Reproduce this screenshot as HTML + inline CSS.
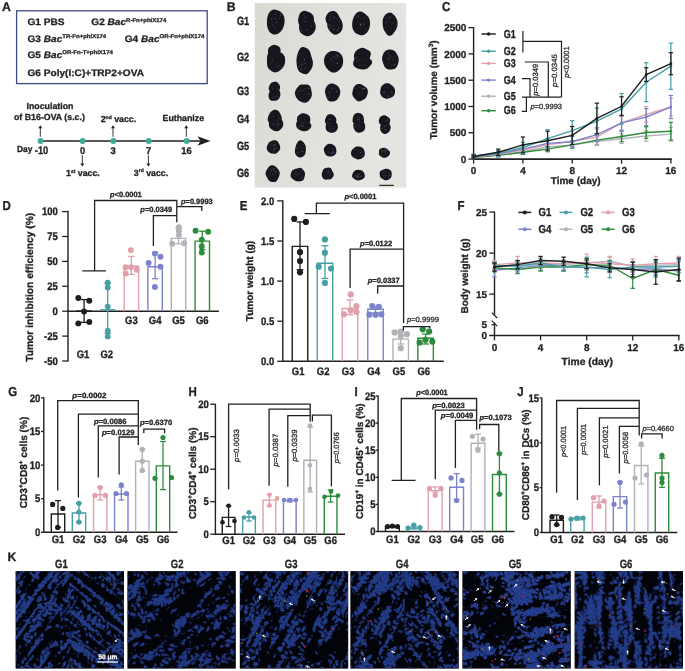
<!DOCTYPE html>
<html><head><meta charset="utf-8"><style>
html,body{margin:0;padding:0;background:#fff;width:685px;height:671px;overflow:hidden;}
svg{display:block;font-family:"Liberation Sans",sans-serif;text-rendering:geometricPrecision;filter:blur(0.4px);}
</style></head><body>
<svg width="685" height="671" viewBox="0 0 685 671" font-family="'Liberation Sans', sans-serif"><text x="0" y="0" font-size="12.3" font-weight="bold" text-anchor="start" fill="#231f20" transform="translate(1.9 10.7) scale(1 1.03)" stroke="#231f20" stroke-width="0.3">A</text>
<rect x="16.6" y="10.8" width="190.6" height="72.8" fill="none" stroke="#3d4b86" stroke-width="1.3"/>
<text x="0" y="0" font-size="10.1" font-weight="bold" text-anchor="start" fill="#231f20" transform="translate(27.5 25.4) scale(1 0.93)" stroke="#231f20" stroke-width="0.3">G1 PBS</text>
<text transform="translate(91.3 25.4) scale(1 0.93)" font-size="10.1" font-weight="bold" fill="#231f20" stroke="#231f20" stroke-width="0.3">G2 <tspan font-style="italic">Bac</tspan><tspan font-size="6.0" dy="-3.8">R-Fn+phiX174</tspan></text>
<text transform="translate(27.5 41.7) scale(1 0.93)" font-size="10.1" font-weight="bold" fill="#231f20" stroke="#231f20" stroke-width="0.3">G3 <tspan font-style="italic">Bac</tspan><tspan font-size="6.0" dy="-3.8">TR-Fn+phiX174</tspan></text>
<text transform="translate(124.7 41.7) scale(1 0.93)" font-size="10.1" font-weight="bold" fill="#231f20" stroke="#231f20" stroke-width="0.3">G4 <tspan font-style="italic">Bac</tspan><tspan font-size="6.0" dy="-3.8">OR-Fn+phiX174</tspan></text>
<text transform="translate(27.5 58) scale(1 0.93)" font-size="10.1" font-weight="bold" fill="#231f20" stroke="#231f20" stroke-width="0.3">G5 <tspan font-style="italic">Bac</tspan><tspan font-size="6.0" dy="-3.8">OR-Fn-T+phiX174</tspan></text>
<text x="0" y="0" font-size="10.1" font-weight="bold" text-anchor="start" fill="#231f20" transform="translate(27.5 75.6) scale(1 0.93)" stroke="#231f20" stroke-width="0.3">G6 Poly(I:C)+TRP2+OVA</text>
<line x1="40.3" y1="141" x2="201" y2="141" stroke="#231f20" stroke-width="1.4"/>
<polygon points="197.5,136.3 210.5,141 197.5,145.7 200.5,141" fill="#231f20"/>
<circle cx="40.6" cy="141" r="3" fill="#42aa95"/>
<circle cx="82.6" cy="141" r="3" fill="#42aa95"/>
<circle cx="113.3" cy="141" r="3" fill="#42aa95"/>
<circle cx="148.7" cy="141" r="3" fill="#42aa95"/>
<circle cx="186.6" cy="141" r="3" fill="#42aa95"/>
<line x1="40.3" y1="136.8" x2="40.3" y2="127.7" stroke="#231f20" stroke-width="0.9"/>
<polygon points="38.3,128.2 40.3,125.2 42.3,128.2" fill="#231f20"/>
<line x1="113" y1="136.8" x2="113" y2="127.7" stroke="#231f20" stroke-width="0.9"/>
<polygon points="111,128.2 113,125.2 115,128.2" fill="#231f20"/>
<line x1="186.3" y1="136.8" x2="186.3" y2="127.7" stroke="#231f20" stroke-width="0.9"/>
<polygon points="184.3,128.2 186.3,125.2 188.3,128.2" fill="#231f20"/>
<line x1="82.3" y1="155.2" x2="82.3" y2="164" stroke="#231f20" stroke-width="0.9"/>
<polygon points="80.3,163.5 82.3,166.5 84.3,163.5" fill="#231f20"/>
<line x1="148.4" y1="155.2" x2="148.4" y2="164" stroke="#231f20" stroke-width="0.9"/>
<polygon points="146.4,163.5 148.4,166.5 150.4,163.5" fill="#231f20"/>
<text x="50" y="108.9" font-size="8.8" font-weight="bold" text-anchor="middle" fill="#231f20" stroke="#231f20" stroke-width="0.3">Inoculation</text>
<text x="14" y="119.8" font-size="8.8" font-weight="bold" text-anchor="start" fill="#231f20" stroke="#231f20" stroke-width="0.3">of B16-OVA (s.c.)</text>
<text x="17" y="152.4" font-size="8.8" font-weight="bold" text-anchor="start" fill="#231f20" textLength="15.3" lengthAdjust="spacingAndGlyphs" stroke="#231f20" stroke-width="0.3">Day</text>
<text x="0" y="0" font-size="9.9" font-weight="bold" text-anchor="start" fill="#231f20" transform="translate(34.8 153.7) scale(1 1.1)" textLength="13.5" lengthAdjust="spacingAndGlyphs" stroke="#231f20" stroke-width="0.3">-10</text>
<text x="0" y="0" font-size="9.4" font-weight="bold" text-anchor="middle" fill="#231f20" transform="translate(82.6 153.6) scale(1 1.05)" stroke="#231f20" stroke-width="0.3">0</text>
<text x="0" y="0" font-size="9.4" font-weight="bold" text-anchor="middle" fill="#231f20" transform="translate(113.2 153.6) scale(1 1.05)" stroke="#231f20" stroke-width="0.3">3</text>
<text x="0" y="0" font-size="9.4" font-weight="bold" text-anchor="middle" fill="#231f20" transform="translate(148.6 153.6) scale(1 1.05)" stroke="#231f20" stroke-width="0.3">7</text>
<text x="0" y="0" font-size="9.4" font-weight="bold" text-anchor="middle" fill="#231f20" transform="translate(186.5 153.6) scale(1 1.05)" stroke="#231f20" stroke-width="0.3">16</text>
<text x="183.3" y="121.3" font-size="8.8" font-weight="bold" text-anchor="middle" fill="#231f20" stroke="#231f20" stroke-width="0.3">Euthanize</text>
<text x="66" y="175.8" font-size="8.8" font-weight="bold" fill="#231f20" stroke="#231f20" stroke-width="0.3">1<tspan font-size="5" dy="-3.3">st</tspan><tspan dy="3.3"> vacc.</tspan></text>
<text x="100.7" y="122.4" font-size="8.8" font-weight="bold" fill="#231f20" stroke="#231f20" stroke-width="0.3">2<tspan font-size="5" dy="-3.3">nd</tspan><tspan dy="3.3"> vacc.</tspan></text>
<text x="133.8" y="175.6" font-size="8.8" font-weight="bold" fill="#231f20" stroke="#231f20" stroke-width="0.3">3<tspan font-size="5" dy="-3.3">rd</tspan><tspan dy="3.3"> vacc.</tspan></text>
<text x="0" y="0" font-size="12.3" font-weight="bold" text-anchor="start" fill="#231f20" transform="translate(226.8 10.6) scale(1 1.03)" stroke="#231f20" stroke-width="0.3">B</text>
<defs><linearGradient id="pbg" x1="0" y1="0" x2="1" y2="0.3"><stop offset="0" stop-color="#d9dad4"/><stop offset="0.5" stop-color="#e0e1dc"/><stop offset="1" stop-color="#e4e5e1"/></linearGradient></defs>
<rect x="254.8" y="3" width="151.3" height="184.6" fill="url(#pbg)"/>
<text x="0" y="0" font-size="9.8" font-weight="bold" text-anchor="start" fill="#231f20" transform="translate(236.9 25.3) scale(0.94 1.2)" stroke="#231f20" stroke-width="0.3">G1</text>
<text x="0" y="0" font-size="9.8" font-weight="bold" text-anchor="start" fill="#231f20" transform="translate(236.9 61.1) scale(0.94 1.2)" stroke="#231f20" stroke-width="0.3">G2</text>
<text x="0" y="0" font-size="9.8" font-weight="bold" text-anchor="start" fill="#231f20" transform="translate(236.9 94.6) scale(0.94 1.2)" stroke="#231f20" stroke-width="0.3">G3</text>
<text x="0" y="0" font-size="9.8" font-weight="bold" text-anchor="start" fill="#231f20" transform="translate(236.9 123.1) scale(0.94 1.2)" stroke="#231f20" stroke-width="0.3">G4</text>
<text x="0" y="0" font-size="9.8" font-weight="bold" text-anchor="start" fill="#231f20" transform="translate(236.9 149.6) scale(0.94 1.2)" stroke="#231f20" stroke-width="0.3">G5</text>
<text x="0" y="0" font-size="9.8" font-weight="bold" text-anchor="start" fill="#231f20" transform="translate(236.9 177.2) scale(0.94 1.2)" stroke="#231f20" stroke-width="0.3">G6</text>
<filter id="tblur" x="-20%" y="-20%" width="140%" height="140%"><feGaussianBlur stdDeviation="0.55"/></filter>
<path d="M284.57,21.95 L284.3,23.95 L283.84,25.84 L283.21,27.58 L282.44,29.18 L281.53,30.6 L280.51,31.83 L279.38,32.86 L278.16,33.68 L276.86,34.26 L275.5,34.57 L274.11,34.58 L272.71,34.25 L271.37,33.56 L270.14,32.53 L269.06,31.18 L268.19,29.56 L267.56,27.75 L267.15,25.84 L266.96,23.89 L266.92,21.95 L267.02,20.02 L267.26,18.11 L267.66,16.22 L268.26,14.41 L269.1,12.77 L270.16,11.41 L271.4,10.41 L272.75,9.82 L274.14,9.61 L275.5,9.69 L276.82,10 L278.1,10.46 L279.37,11.06 L280.62,11.85 L281.82,12.89 L282.89,14.25 L283.75,15.92 L284.33,17.84 L284.59,19.88Z" fill="#14151f" filter="url(#tblur)"/>
<ellipse cx="270.8" cy="15.01" rx="0.55" ry="0.55" fill="#7a84a8" opacity="0.35"/>
<ellipse cx="272.48" cy="24.11" rx="0.87" ry="0.47" fill="#7a84a8" opacity="0.46"/>
<ellipse cx="280.7" cy="14.26" rx="0.82" ry="0.39" fill="#7a84a8" opacity="0.36"/>
<ellipse cx="271.33" cy="18.7" rx="0.79" ry="0.35" fill="#7a84a8" opacity="0.53"/>
<ellipse cx="277.02" cy="19.79" rx="0.63" ry="0.32" fill="#7a84a8" opacity="0.32"/>
<ellipse cx="272.29" cy="25.01" rx="0.56" ry="0.39" fill="#7a84a8" opacity="0.53"/>
<ellipse cx="274.99" cy="18.55" rx="0.78" ry="0.51" fill="#7a84a8" opacity="0.4"/>
<ellipse cx="276.31" cy="22.38" rx="0.83" ry="0.52" fill="#7a84a8" opacity="0.42"/>
<ellipse cx="280.74" cy="15.47" rx="0.55" ry="0.53" fill="#7a84a8" opacity="0.36"/>
<ellipse cx="275.38" cy="14.13" rx="0.7" ry="0.53" fill="#7a84a8" opacity="0.53"/>
<ellipse cx="279.6" cy="18.79" rx="0.72" ry="0.48" fill="#7a84a8" opacity="0.53"/>
<ellipse cx="275.02" cy="27.72" rx="0.87" ry="0.44" fill="#7a84a8" opacity="0.57"/>
<path d="M313.97,19.47 L313.82,20.82 L313.47,22.13 L312.93,23.34 L312.22,24.43 L311.37,25.39 L310.43,26.21 L309.39,26.91 L308.28,27.47 L307.09,27.85 L305.86,28.02 L304.6,27.94 L303.38,27.63 L302.22,27.12 L301.14,26.44 L300.15,25.58 L299.31,24.57 L298.66,23.4 L298.26,22.12 L298.11,20.79 L298.18,19.47 L298.39,18.2 L298.67,16.97 L299,15.73 L299.44,14.48 L300.06,13.26 L300.92,12.2 L302.02,11.4 L303.28,10.96 L304.58,10.87 L305.86,11.05 L307.05,11.38 L308.18,11.8 L309.28,12.26 L310.36,12.82 L311.4,13.53 L312.32,14.44 L313.07,15.53 L313.59,16.78 L313.89,18.11Z" fill="#14151f" filter="url(#tblur)"/>
<path d="M315.74,26.7 L315.64,28.2 L315.3,29.66 L314.74,31.02 L314.01,32.24 L313.14,33.33 L312.16,34.29 L311.08,35.1 L309.9,35.73 L308.64,36.11 L307.34,36.2 L306.05,36.03 L304.81,35.62 L303.63,35.05 L302.5,34.34 L301.43,33.47 L300.5,32.4 L299.76,31.13 L299.28,29.7 L299.06,28.2 L299.07,26.7 L299.23,25.22 L299.54,23.79 L299.99,22.4 L300.63,21.1 L301.46,19.95 L302.47,19 L303.6,18.27 L304.81,17.75 L306.06,17.42 L307.34,17.27 L308.64,17.32 L309.92,17.62 L311.13,18.17 L312.25,18.96 L313.23,19.95 L314.06,21.1 L314.74,22.38 L315.26,23.75 L315.6,25.2Z" fill="#14151f" filter="url(#tblur)"/>
<ellipse cx="307.15" cy="30.03" rx="0.79" ry="0.56" fill="#7a84a8" opacity="0.41"/>
<ellipse cx="305.65" cy="21.23" rx="0.83" ry="0.59" fill="#7a84a8" opacity="0.36"/>
<ellipse cx="302.99" cy="19.1" rx="0.44" ry="0.45" fill="#7a84a8" opacity="0.54"/>
<ellipse cx="303.95" cy="15.28" rx="0.55" ry="0.41" fill="#7a84a8" opacity="0.53"/>
<ellipse cx="311.66" cy="26.79" rx="0.61" ry="0.49" fill="#7a84a8" opacity="0.57"/>
<ellipse cx="301.62" cy="30.3" rx="0.77" ry="0.56" fill="#7a84a8" opacity="0.62"/>
<ellipse cx="305.4" cy="21.91" rx="0.36" ry="0.49" fill="#7a84a8" opacity="0.32"/>
<ellipse cx="301.77" cy="18.72" rx="0.4" ry="0.4" fill="#7a84a8" opacity="0.32"/>
<ellipse cx="301.02" cy="17.75" rx="0.36" ry="0.41" fill="#7a84a8" opacity="0.31"/>
<ellipse cx="310.78" cy="25.51" rx="0.39" ry="0.38" fill="#7a84a8" opacity="0.44"/>
<ellipse cx="305.08" cy="17.28" rx="0.81" ry="0.6" fill="#7a84a8" opacity="0.49"/>
<ellipse cx="306.42" cy="16.66" rx="0.36" ry="0.4" fill="#7a84a8" opacity="0.41"/>
<path d="M339.34,18.35 L339.06,19.54 L338.55,20.61 L337.94,21.55 L337.35,22.43 L336.78,23.31 L336.12,24.17 L335.32,24.89 L334.38,25.35 L333.37,25.54 L332.36,25.55 L331.36,25.46 L330.35,25.3 L329.34,25.01 L328.37,24.52 L327.5,23.81 L326.78,22.9 L326.22,21.86 L325.82,20.74 L325.59,19.55 L325.57,18.35 L325.78,17.18 L326.16,16.08 L326.65,15.08 L327.22,14.15 L327.87,13.29 L328.61,12.54 L329.46,11.94 L330.39,11.52 L331.36,11.26 L332.36,11.11 L333.38,11.08 L334.42,11.22 L335.42,11.59 L336.32,12.21 L337.1,13.01 L337.79,13.92 L338.4,14.89 L338.93,15.95 L339.28,17.11Z" fill="#14151f" filter="url(#tblur)"/>
<path d="M342.71,25.04 L342.72,26.48 L342.54,27.93 L342.15,29.34 L341.56,30.66 L340.77,31.84 L339.81,32.83 L338.73,33.62 L337.56,34.21 L336.32,34.57 L335.05,34.65 L333.8,34.4 L332.64,33.83 L331.62,33.01 L330.73,32.09 L329.91,31.14 L329.11,30.16 L328.37,29.08 L327.77,27.84 L327.4,26.48 L327.28,25.04 L327.35,23.59 L327.55,22.15 L327.89,20.71 L328.41,19.32 L329.19,18.09 L330.2,17.13 L331.38,16.5 L332.61,16.14 L333.83,15.94 L335.05,15.85 L336.26,15.9 L337.47,16.19 L338.6,16.77 L339.58,17.62 L340.41,18.67 L341.1,19.82 L341.68,21.03 L342.16,22.3 L342.52,23.64Z" fill="#14151f" filter="url(#tblur)"/>
<ellipse cx="337.5" cy="30.18" rx="0.81" ry="0.54" fill="#7a84a8" opacity="0.63"/>
<ellipse cx="336.73" cy="18.4" rx="0.61" ry="0.41" fill="#7a84a8" opacity="0.31"/>
<ellipse cx="329.08" cy="19.22" rx="0.46" ry="0.51" fill="#7a84a8" opacity="0.68"/>
<ellipse cx="333.58" cy="29.44" rx="0.89" ry="0.59" fill="#7a84a8" opacity="0.45"/>
<ellipse cx="331.15" cy="18.41" rx="0.42" ry="0.36" fill="#7a84a8" opacity="0.55"/>
<ellipse cx="338.45" cy="27.94" rx="0.59" ry="0.5" fill="#7a84a8" opacity="0.62"/>
<ellipse cx="329.69" cy="25.14" rx="0.85" ry="0.53" fill="#7a84a8" opacity="0.6"/>
<ellipse cx="333.91" cy="17.66" rx="0.77" ry="0.4" fill="#7a84a8" opacity="0.62"/>
<ellipse cx="339.22" cy="21.03" rx="0.54" ry="0.58" fill="#7a84a8" opacity="0.59"/>
<ellipse cx="330.61" cy="16.86" rx="0.39" ry="0.57" fill="#7a84a8" opacity="0.62"/>
<ellipse cx="330.35" cy="27.72" rx="0.89" ry="0.5" fill="#7a84a8" opacity="0.44"/>
<ellipse cx="334.67" cy="16.92" rx="0.31" ry="0.59" fill="#7a84a8" opacity="0.56"/>
<path d="M370.06,23.6 L369.91,25.54 L369.54,27.42 L368.96,29.18 L368.18,30.78 L367.23,32.18 L366.14,33.34 L364.94,34.25 L363.66,34.88 L362.33,35.19 L361,35.2 L359.69,34.96 L358.42,34.55 L357.16,33.98 L355.92,33.23 L354.75,32.21 L353.73,30.87 L352.95,29.25 L352.45,27.43 L352.2,25.52 L352.18,23.6 L352.35,21.71 L352.72,19.89 L353.27,18.18 L353.99,16.59 L354.85,15.12 L355.83,13.79 L356.95,12.64 L358.22,11.8 L359.6,11.39 L361,11.48 L362.33,12 L363.56,12.76 L364.7,13.6 L365.82,14.46 L366.94,15.41 L368.01,16.58 L368.93,18.03 L369.59,19.75 L369.96,21.64Z" fill="#14151f" filter="url(#tblur)"/>
<ellipse cx="358.4" cy="22.29" rx="0.38" ry="0.57" fill="#7a84a8" opacity="0.44"/>
<ellipse cx="360.55" cy="24.94" rx="0.84" ry="0.43" fill="#7a84a8" opacity="0.67"/>
<ellipse cx="361.02" cy="24.11" rx="0.61" ry="0.31" fill="#7a84a8" opacity="0.48"/>
<ellipse cx="357.58" cy="15.6" rx="0.78" ry="0.35" fill="#7a84a8" opacity="0.49"/>
<ellipse cx="363.43" cy="24.51" rx="0.5" ry="0.46" fill="#7a84a8" opacity="0.52"/>
<ellipse cx="364.07" cy="17.25" rx="0.64" ry="0.37" fill="#7a84a8" opacity="0.41"/>
<ellipse cx="363.94" cy="23.72" rx="0.64" ry="0.53" fill="#7a84a8" opacity="0.66"/>
<ellipse cx="360.39" cy="25.41" rx="0.6" ry="0.45" fill="#7a84a8" opacity="0.58"/>
<ellipse cx="360.49" cy="24.14" rx="0.59" ry="0.58" fill="#7a84a8" opacity="0.58"/>
<ellipse cx="365.07" cy="30.73" rx="0.46" ry="0.47" fill="#7a84a8" opacity="0.68"/>
<ellipse cx="364.67" cy="17.75" rx="0.37" ry="0.43" fill="#7a84a8" opacity="0.33"/>
<ellipse cx="358.2" cy="16.72" rx="0.7" ry="0.54" fill="#7a84a8" opacity="0.66"/>
<path d="M397.54,23.85 L397.37,25.66 L396.98,27.37 L396.38,28.91 L395.65,30.25 L394.85,31.43 L394.02,32.54 L393.16,33.64 L392.2,34.69 L391.1,35.49 L389.9,35.84 L388.68,35.63 L387.55,34.94 L386.54,33.95 L385.65,32.81 L384.85,31.59 L384.13,30.27 L383.54,28.82 L383.11,27.23 L382.81,25.57 L382.64,23.85 L382.6,22.08 L382.72,20.28 L383.09,18.53 L383.72,16.97 L384.56,15.66 L385.53,14.62 L386.55,13.78 L387.62,13.1 L388.74,12.63 L389.9,12.48 L391.05,12.73 L392.13,13.33 L393.13,14.15 L394.06,15.07 L394.96,16.09 L395.82,17.26 L396.57,18.64 L397.13,20.25 L397.46,22.01Z" fill="#14151f" filter="url(#tblur)"/>
<ellipse cx="394.37" cy="28.88" rx="0.4" ry="0.43" fill="#7a84a8" opacity="0.51"/>
<ellipse cx="388.43" cy="19.24" rx="0.49" ry="0.52" fill="#7a84a8" opacity="0.31"/>
<ellipse cx="390.39" cy="22.95" rx="0.31" ry="0.4" fill="#7a84a8" opacity="0.55"/>
<ellipse cx="390.01" cy="17.25" rx="0.89" ry="0.54" fill="#7a84a8" opacity="0.69"/>
<ellipse cx="386.3" cy="20.3" rx="0.32" ry="0.53" fill="#7a84a8" opacity="0.41"/>
<ellipse cx="386.52" cy="22.67" rx="0.85" ry="0.55" fill="#7a84a8" opacity="0.4"/>
<ellipse cx="386.7" cy="30.2" rx="0.64" ry="0.51" fill="#7a84a8" opacity="0.34"/>
<ellipse cx="385.86" cy="26.7" rx="0.56" ry="0.32" fill="#7a84a8" opacity="0.68"/>
<ellipse cx="391.13" cy="28.42" rx="0.35" ry="0.56" fill="#7a84a8" opacity="0.33"/>
<ellipse cx="393.21" cy="23.15" rx="0.5" ry="0.47" fill="#7a84a8" opacity="0.67"/>
<ellipse cx="387.78" cy="18.23" rx="0.62" ry="0.37" fill="#7a84a8" opacity="0.34"/>
<ellipse cx="386.81" cy="17.04" rx="0.42" ry="0.39" fill="#7a84a8" opacity="0.42"/>
<path d="M280.54,51.32 L280.37,52.31 L280.06,53.25 L279.59,54.11 L278.98,54.85 L278.32,55.51 L277.64,56.14 L276.93,56.8 L276.13,57.44 L275.19,57.92 L274.15,58.12 L273.09,58 L272.1,57.65 L271.17,57.18 L270.3,56.65 L269.49,56.01 L268.81,55.22 L268.35,54.29 L268.11,53.29 L268.02,52.3 L267.98,51.32 L267.97,50.34 L268.09,49.35 L268.42,48.39 L268.99,47.56 L269.73,46.89 L270.53,46.33 L271.35,45.82 L272.21,45.34 L273.15,44.97 L274.15,44.81 L275.16,44.9 L276.13,45.19 L277.06,45.58 L277.97,46.04 L278.84,46.61 L279.61,47.34 L280.17,48.24 L280.49,49.25 L280.59,50.3Z" fill="#14151f" filter="url(#tblur)"/>
<path d="M285.16,61.26 L284.96,62.93 L284.56,64.54 L283.92,66.03 L283.07,67.36 L282.08,68.52 L281,69.57 L279.86,70.55 L278.61,71.44 L277.21,72.11 L275.7,72.4 L274.17,72.26 L272.7,71.77 L271.33,71.03 L270.05,70.11 L268.89,69.01 L267.96,67.66 L267.35,66.1 L267.07,64.45 L267.03,62.82 L267.05,61.26 L267.02,59.7 L267,58.04 L267.15,56.3 L267.64,54.6 L268.55,53.12 L269.79,52.01 L271.24,51.3 L272.76,50.95 L274.25,50.86 L275.7,50.97 L277.1,51.22 L278.46,51.58 L279.83,52.04 L281.18,52.67 L282.47,53.55 L283.59,54.73 L284.43,56.2 L284.94,57.84 L285.16,59.55Z" fill="#14151f" filter="url(#tblur)"/>
<ellipse cx="277.89" cy="67.15" rx="0.51" ry="0.55" fill="#7a84a8" opacity="0.58"/>
<ellipse cx="277.28" cy="56.79" rx="0.51" ry="0.32" fill="#7a84a8" opacity="0.35"/>
<ellipse cx="270.7" cy="62.82" rx="0.45" ry="0.35" fill="#7a84a8" opacity="0.33"/>
<ellipse cx="279.67" cy="65.15" rx="0.7" ry="0.38" fill="#7a84a8" opacity="0.4"/>
<ellipse cx="273.29" cy="57.77" rx="0.39" ry="0.43" fill="#7a84a8" opacity="0.41"/>
<ellipse cx="281.08" cy="66.98" rx="0.63" ry="0.37" fill="#7a84a8" opacity="0.69"/>
<ellipse cx="273.48" cy="55.93" rx="0.3" ry="0.41" fill="#7a84a8" opacity="0.49"/>
<ellipse cx="275.73" cy="53.14" rx="0.6" ry="0.3" fill="#7a84a8" opacity="0.41"/>
<ellipse cx="270.92" cy="56.7" rx="0.33" ry="0.31" fill="#7a84a8" opacity="0.42"/>
<ellipse cx="272.59" cy="60.04" rx="0.62" ry="0.53" fill="#7a84a8" opacity="0.56"/>
<ellipse cx="278.21" cy="65.3" rx="0.53" ry="0.4" fill="#7a84a8" opacity="0.69"/>
<ellipse cx="271.62" cy="62.52" rx="0.69" ry="0.31" fill="#7a84a8" opacity="0.63"/>
<path d="M312.7,60.95 L312.95,63.08 L312.76,65.23 L312.16,67.18 L311.33,68.89 L310.41,70.42 L309.43,71.86 L308.33,73.09 L307.07,73.92 L305.73,74.2 L304.4,74.03 L303.13,73.63 L301.88,73.16 L300.64,72.59 L299.43,71.72 L298.38,70.43 L297.59,68.74 L297.07,66.83 L296.75,64.87 L296.53,62.91 L296.44,60.95 L296.51,58.98 L296.78,57.05 L297.21,55.18 L297.76,53.35 L298.41,51.51 L299.24,49.75 L300.3,48.29 L301.6,47.36 L303,47.06 L304.4,47.26 L305.73,47.73 L307,48.37 L308.19,49.23 L309.24,50.45 L310.05,52.04 L310.63,53.82 L311.08,55.59 L311.58,57.28 L312.16,59.01Z" fill="#14151f" filter="url(#tblur)"/>
<ellipse cx="305.27" cy="67.87" rx="0.71" ry="0.51" fill="#7a84a8" opacity="0.39"/>
<ellipse cx="299.56" cy="54.49" rx="0.52" ry="0.33" fill="#7a84a8" opacity="0.63"/>
<ellipse cx="305" cy="63.2" rx="0.68" ry="0.5" fill="#7a84a8" opacity="0.5"/>
<ellipse cx="299.27" cy="66.19" rx="0.75" ry="0.45" fill="#7a84a8" opacity="0.51"/>
<ellipse cx="306.04" cy="53.31" rx="0.74" ry="0.38" fill="#7a84a8" opacity="0.33"/>
<ellipse cx="301.98" cy="64.99" rx="0.42" ry="0.52" fill="#7a84a8" opacity="0.69"/>
<ellipse cx="304.34" cy="58.88" rx="0.59" ry="0.51" fill="#7a84a8" opacity="0.61"/>
<ellipse cx="305.61" cy="63.46" rx="0.35" ry="0.34" fill="#7a84a8" opacity="0.4"/>
<ellipse cx="306.91" cy="57.5" rx="0.64" ry="0.3" fill="#7a84a8" opacity="0.32"/>
<ellipse cx="302.01" cy="63.98" rx="0.72" ry="0.5" fill="#7a84a8" opacity="0.42"/>
<ellipse cx="304.57" cy="60.33" rx="0.58" ry="0.34" fill="#7a84a8" opacity="0.66"/>
<ellipse cx="301.3" cy="69.37" rx="0.86" ry="0.31" fill="#7a84a8" opacity="0.48"/>
<path d="M343.13,61.45 L342.98,63.26 L342.59,65 L341.95,66.62 L341.09,68.06 L340.07,69.29 L338.93,70.33 L337.72,71.21 L336.43,71.92 L335.07,72.4 L333.65,72.58 L332.23,72.4 L330.87,71.89 L329.62,71.12 L328.46,70.17 L327.4,69.09 L326.41,67.88 L325.53,66.51 L324.81,64.96 L324.29,63.26 L324.04,61.45 L324.07,59.6 L324.42,57.78 L325.06,56.1 L325.97,54.63 L327.07,53.41 L328.29,52.44 L329.59,51.71 L330.93,51.21 L332.29,50.94 L333.65,50.88 L335,51.02 L336.34,51.34 L337.66,51.83 L338.96,52.51 L340.2,53.45 L341.28,54.67 L342.14,56.16 L342.73,57.84 L343.06,59.63Z" fill="#14151f" filter="url(#tblur)"/>
<ellipse cx="338.78" cy="55.93" rx="0.79" ry="0.45" fill="#7a84a8" opacity="0.65"/>
<ellipse cx="335.96" cy="57.42" rx="0.84" ry="0.45" fill="#7a84a8" opacity="0.31"/>
<ellipse cx="328.02" cy="61.33" rx="0.57" ry="0.39" fill="#7a84a8" opacity="0.36"/>
<ellipse cx="331.88" cy="58.69" rx="0.8" ry="0.3" fill="#7a84a8" opacity="0.6"/>
<ellipse cx="337.5" cy="55.74" rx="0.86" ry="0.51" fill="#7a84a8" opacity="0.66"/>
<ellipse cx="331.27" cy="59.53" rx="0.54" ry="0.6" fill="#7a84a8" opacity="0.54"/>
<ellipse cx="332.07" cy="60.37" rx="0.47" ry="0.31" fill="#7a84a8" opacity="0.34"/>
<ellipse cx="337.45" cy="58.23" rx="0.86" ry="0.37" fill="#7a84a8" opacity="0.41"/>
<ellipse cx="333.77" cy="56.79" rx="0.52" ry="0.59" fill="#7a84a8" opacity="0.65"/>
<ellipse cx="337.19" cy="63.42" rx="0.85" ry="0.58" fill="#7a84a8" opacity="0.52"/>
<ellipse cx="336.14" cy="54.69" rx="0.74" ry="0.44" fill="#7a84a8" opacity="0.6"/>
<ellipse cx="335.29" cy="58.24" rx="0.33" ry="0.58" fill="#7a84a8" opacity="0.35"/>
<path d="M370.6,55.16 L370.29,56.19 L370.01,57.19 L369.71,58.22 L369.23,59.23 L368.47,60.15 L367.45,60.88 L366.25,61.4 L364.98,61.75 L363.67,61.96 L362.35,62.05 L361.02,61.99 L359.72,61.76 L358.46,61.38 L357.27,60.86 L356.14,60.22 L355.16,59.42 L354.41,58.46 L353.98,57.38 L353.87,56.26 L353.99,55.16 L354.26,54.12 L354.62,53.11 L355.1,52.15 L355.74,51.25 L356.54,50.42 L357.46,49.68 L358.5,48.99 L359.66,48.4 L360.95,47.98 L362.35,47.85 L363.73,48.04 L365,48.5 L366.15,49.08 L367.24,49.67 L368.35,50.27 L369.42,50.97 L370.28,51.87 L370.76,52.93 L370.83,54.07Z" fill="#14151f" filter="url(#tblur)"/>
<path d="M372.03,62.54 L371.69,63.65 L371.06,64.66 L370.33,65.59 L369.58,66.48 L368.77,67.36 L367.8,68.17 L366.61,68.81 L365.24,69.22 L363.8,69.39 L362.35,69.38 L360.93,69.25 L359.54,69.02 L358.18,68.68 L356.87,68.2 L355.66,67.56 L354.61,66.76 L353.8,65.81 L353.31,64.74 L353.15,63.63 L353.25,62.54 L353.5,61.49 L353.82,60.46 L354.23,59.44 L354.82,58.44 L355.68,57.54 L356.82,56.84 L358.14,56.35 L359.53,56.02 L360.92,55.79 L362.35,55.62 L363.82,55.59 L365.27,55.81 L366.59,56.29 L367.73,56.99 L368.71,57.77 L369.63,58.57 L370.56,59.4 L371.39,60.34 L371.93,61.4Z" fill="#14151f" filter="url(#tblur)"/>
<ellipse cx="358.82" cy="53.08" rx="0.51" ry="0.33" fill="#7a84a8" opacity="0.4"/>
<ellipse cx="359.58" cy="59.83" rx="0.83" ry="0.52" fill="#7a84a8" opacity="0.47"/>
<ellipse cx="361.36" cy="59.19" rx="0.53" ry="0.4" fill="#7a84a8" opacity="0.32"/>
<ellipse cx="359.8" cy="65.45" rx="0.38" ry="0.45" fill="#7a84a8" opacity="0.55"/>
<ellipse cx="366.51" cy="54.84" rx="0.46" ry="0.37" fill="#7a84a8" opacity="0.46"/>
<ellipse cx="361.73" cy="65.25" rx="0.81" ry="0.56" fill="#7a84a8" opacity="0.31"/>
<ellipse cx="356.99" cy="61.81" rx="0.84" ry="0.44" fill="#7a84a8" opacity="0.53"/>
<ellipse cx="356.62" cy="57.32" rx="0.86" ry="0.55" fill="#7a84a8" opacity="0.64"/>
<ellipse cx="367.76" cy="55.3" rx="0.37" ry="0.35" fill="#7a84a8" opacity="0.51"/>
<ellipse cx="364.44" cy="65.08" rx="0.73" ry="0.49" fill="#7a84a8" opacity="0.61"/>
<ellipse cx="361.86" cy="59.58" rx="0.32" ry="0.53" fill="#7a84a8" opacity="0.39"/>
<ellipse cx="367.16" cy="60.9" rx="0.48" ry="0.34" fill="#7a84a8" opacity="0.4"/>
<path d="M398.74,59.6 L398.64,61.18 L398.32,62.71 L397.86,64.2 L397.29,65.66 L396.55,67.04 L395.57,68.2 L394.36,68.99 L393.03,69.37 L391.69,69.47 L390.4,69.45 L389.12,69.4 L387.82,69.22 L386.55,68.74 L385.43,67.86 L384.56,66.66 L383.91,65.3 L383.38,63.92 L382.89,62.55 L382.46,61.12 L382.17,59.6 L382.12,58.01 L382.35,56.44 L382.8,54.91 L383.43,53.48 L384.25,52.17 L385.27,51.06 L386.47,50.27 L387.77,49.8 L389.09,49.62 L390.4,49.6 L391.69,49.73 L392.96,50.06 L394.17,50.66 L395.23,51.56 L396.12,52.68 L396.88,53.91 L397.55,55.2 L398.14,56.56 L398.57,58.04Z" fill="#14151f" filter="url(#tblur)"/>
<ellipse cx="388.35" cy="59.07" rx="0.88" ry="0.49" fill="#7a84a8" opacity="0.65"/>
<ellipse cx="390.15" cy="56.01" rx="0.45" ry="0.59" fill="#7a84a8" opacity="0.58"/>
<ellipse cx="388.41" cy="53.13" rx="0.6" ry="0.5" fill="#7a84a8" opacity="0.47"/>
<ellipse cx="387.89" cy="61.86" rx="0.86" ry="0.37" fill="#7a84a8" opacity="0.31"/>
<ellipse cx="388.73" cy="58.53" rx="0.71" ry="0.36" fill="#7a84a8" opacity="0.62"/>
<ellipse cx="392.87" cy="59.67" rx="0.42" ry="0.59" fill="#7a84a8" opacity="0.42"/>
<ellipse cx="393.7" cy="55.96" rx="0.43" ry="0.53" fill="#7a84a8" opacity="0.42"/>
<ellipse cx="395.06" cy="59.54" rx="0.41" ry="0.37" fill="#7a84a8" opacity="0.47"/>
<ellipse cx="392.11" cy="65.67" rx="0.39" ry="0.42" fill="#7a84a8" opacity="0.39"/>
<ellipse cx="395.29" cy="54.76" rx="0.33" ry="0.32" fill="#7a84a8" opacity="0.46"/>
<ellipse cx="394.51" cy="64.79" rx="0.74" ry="0.6" fill="#7a84a8" opacity="0.67"/>
<ellipse cx="388.64" cy="55.35" rx="0.86" ry="0.52" fill="#7a84a8" opacity="0.31"/>
<path d="M280.03,88.1 L279.75,89.04 L279.42,89.9 L279.13,90.75 L278.83,91.64 L278.42,92.52 L277.83,93.28 L277.07,93.82 L276.22,94.16 L275.34,94.38 L274.45,94.54 L273.52,94.62 L272.59,94.47 L271.74,94.02 L271.05,93.31 L270.5,92.49 L270.03,91.68 L269.55,90.88 L269.1,90.04 L268.79,89.1 L268.72,88.1 L268.9,87.12 L269.22,86.21 L269.59,85.34 L269.99,84.5 L270.49,83.7 L271.13,83.02 L271.9,82.52 L272.73,82.2 L273.58,81.97 L274.45,81.79 L275.36,81.7 L276.29,81.81 L277.16,82.19 L277.91,82.81 L278.53,83.56 L279.08,84.36 L279.57,85.2 L279.94,86.11 L280.11,87.1Z" fill="#14151f" filter="url(#tblur)"/>
<path d="M280.41,94.8 L280.29,95.78 L280.01,96.72 L279.61,97.6 L279.11,98.41 L278.52,99.14 L277.83,99.77 L277.05,100.23 L276.19,100.52 L275.32,100.67 L274.45,100.75 L273.56,100.8 L272.62,100.79 L271.66,100.64 L270.72,100.27 L269.91,99.64 L269.28,98.81 L268.85,97.84 L268.59,96.83 L268.5,95.8 L268.56,94.8 L268.77,93.84 L269.09,92.94 L269.48,92.1 L269.92,91.29 L270.43,90.51 L271.05,89.81 L271.8,89.24 L272.64,88.87 L273.54,88.69 L274.45,88.64 L275.36,88.67 L276.28,88.78 L277.21,89.02 L278.09,89.46 L278.86,90.1 L279.46,90.91 L279.91,91.83 L280.21,92.8 L280.39,93.8Z" fill="#14151f" filter="url(#tblur)"/>
<ellipse cx="272.11" cy="89.71" rx="0.84" ry="0.31" fill="#7a84a8" opacity="0.46"/>
<ellipse cx="276.83" cy="94.86" rx="0.32" ry="0.31" fill="#7a84a8" opacity="0.33"/>
<ellipse cx="277.65" cy="88.34" rx="0.75" ry="0.57" fill="#7a84a8" opacity="0.44"/>
<ellipse cx="272.72" cy="97.31" rx="0.67" ry="0.38" fill="#7a84a8" opacity="0.59"/>
<ellipse cx="273.05" cy="88.58" rx="0.3" ry="0.53" fill="#7a84a8" opacity="0.67"/>
<ellipse cx="275.47" cy="97.13" rx="0.31" ry="0.37" fill="#7a84a8" opacity="0.49"/>
<ellipse cx="277.93" cy="97.26" rx="0.53" ry="0.38" fill="#7a84a8" opacity="0.47"/>
<ellipse cx="274.4" cy="96.93" rx="0.41" ry="0.54" fill="#7a84a8" opacity="0.6"/>
<ellipse cx="276.91" cy="94.94" rx="0.66" ry="0.4" fill="#7a84a8" opacity="0.43"/>
<ellipse cx="273.4" cy="95.06" rx="0.35" ry="0.36" fill="#7a84a8" opacity="0.6"/>
<ellipse cx="272.52" cy="85.88" rx="0.32" ry="0.47" fill="#7a84a8" opacity="0.43"/>
<ellipse cx="278.11" cy="96.36" rx="0.89" ry="0.38" fill="#7a84a8" opacity="0.33"/>
<path d="M311.8,93.3 L311.85,94.71 L311.63,96.11 L311.13,97.44 L310.46,98.66 L309.67,99.82 L308.77,100.91 L307.69,101.86 L306.44,102.5 L305.07,102.75 L303.7,102.65 L302.39,102.31 L301.16,101.85 L299.98,101.27 L298.88,100.55 L297.89,99.64 L297.04,98.59 L296.29,97.42 L295.65,96.16 L295.15,94.78 L294.91,93.3 L295.04,91.8 L295.53,90.4 L296.24,89.15 L297.03,88.01 L297.86,86.92 L298.78,85.9 L299.86,85.07 L301.1,84.57 L302.41,84.4 L303.7,84.42 L304.98,84.47 L306.31,84.52 L307.7,84.74 L309.01,85.32 L310.07,86.35 L310.75,87.7 L311.13,89.17 L311.37,90.58 L311.6,91.93Z" fill="#14151f" filter="url(#tblur)"/>
<ellipse cx="305.42" cy="88.62" rx="0.8" ry="0.39" fill="#7a84a8" opacity="0.53"/>
<ellipse cx="302.37" cy="96.24" rx="0.42" ry="0.37" fill="#7a84a8" opacity="0.4"/>
<ellipse cx="300.08" cy="98.04" rx="0.65" ry="0.4" fill="#7a84a8" opacity="0.46"/>
<ellipse cx="308.84" cy="93.39" rx="0.44" ry="0.54" fill="#7a84a8" opacity="0.56"/>
<ellipse cx="308.83" cy="88.39" rx="0.58" ry="0.55" fill="#7a84a8" opacity="0.64"/>
<ellipse cx="308.03" cy="87.62" rx="0.48" ry="0.34" fill="#7a84a8" opacity="0.38"/>
<ellipse cx="308.64" cy="94.33" rx="0.86" ry="0.41" fill="#7a84a8" opacity="0.65"/>
<ellipse cx="303.17" cy="90.34" rx="0.77" ry="0.58" fill="#7a84a8" opacity="0.34"/>
<ellipse cx="304.7" cy="94.78" rx="0.43" ry="0.41" fill="#7a84a8" opacity="0.36"/>
<ellipse cx="300.61" cy="90.27" rx="0.66" ry="0.5" fill="#7a84a8" opacity="0.38"/>
<ellipse cx="298.6" cy="91.17" rx="0.71" ry="0.36" fill="#7a84a8" opacity="0.42"/>
<ellipse cx="300.6" cy="96.95" rx="0.63" ry="0.32" fill="#7a84a8" opacity="0.34"/>
<path d="M340.25,92.5 L340.06,93.89 L339.67,95.21 L339.14,96.44 L338.54,97.61 L337.82,98.7 L336.98,99.68 L335.99,100.47 L334.88,101.03 L333.71,101.39 L332.5,101.58 L331.26,101.61 L330.02,101.4 L328.83,100.88 L327.81,100.01 L327.03,98.87 L326.47,97.6 L326.06,96.32 L325.7,95.07 L325.37,93.82 L325.12,92.5 L325.05,91.13 L325.21,89.74 L325.6,88.41 L326.18,87.16 L326.93,86.01 L327.83,85.02 L328.89,84.24 L330.05,83.73 L331.28,83.52 L332.5,83.55 L333.69,83.78 L334.82,84.17 L335.9,84.72 L336.92,85.42 L337.84,86.28 L338.66,87.29 L339.35,88.44 L339.88,89.71 L340.2,91.08Z" fill="#14151f" filter="url(#tblur)"/>
<ellipse cx="330.72" cy="93.3" rx="0.51" ry="0.42" fill="#7a84a8" opacity="0.65"/>
<ellipse cx="337.21" cy="90.87" rx="0.42" ry="0.52" fill="#7a84a8" opacity="0.38"/>
<ellipse cx="327.82" cy="97.3" rx="0.55" ry="0.55" fill="#7a84a8" opacity="0.46"/>
<ellipse cx="336.13" cy="92.03" rx="0.4" ry="0.3" fill="#7a84a8" opacity="0.52"/>
<ellipse cx="333.83" cy="97.4" rx="0.35" ry="0.49" fill="#7a84a8" opacity="0.45"/>
<ellipse cx="332.54" cy="88.26" rx="0.47" ry="0.46" fill="#7a84a8" opacity="0.67"/>
<ellipse cx="328.79" cy="92.39" rx="0.78" ry="0.59" fill="#7a84a8" opacity="0.38"/>
<ellipse cx="328.96" cy="97.8" rx="0.89" ry="0.44" fill="#7a84a8" opacity="0.32"/>
<ellipse cx="336.54" cy="91.16" rx="0.84" ry="0.49" fill="#7a84a8" opacity="0.63"/>
<ellipse cx="329.28" cy="95.92" rx="0.43" ry="0.42" fill="#7a84a8" opacity="0.64"/>
<ellipse cx="335.62" cy="88.71" rx="0.43" ry="0.42" fill="#7a84a8" opacity="0.51"/>
<ellipse cx="331.4" cy="87.99" rx="0.45" ry="0.52" fill="#7a84a8" opacity="0.66"/>
<path d="M367.8,92.55 L367.54,93.89 L367.17,95.16 L366.67,96.37 L366.02,97.47 L365.18,98.4 L364.22,99.13 L363.21,99.75 L362.19,100.35 L361.1,100.92 L359.9,101.35 L358.63,101.43 L357.4,101.06 L356.33,100.31 L355.42,99.37 L354.62,98.4 L353.83,97.43 L353.11,96.38 L352.56,95.19 L352.3,93.88 L352.35,92.55 L352.59,91.27 L352.91,90.03 L353.27,88.81 L353.71,87.57 L354.34,86.39 L355.2,85.38 L356.25,84.62 L357.43,84.13 L358.67,83.92 L359.9,83.98 L361.08,84.31 L362.16,84.84 L363.16,85.46 L364.13,86.11 L365.12,86.77 L366.11,87.55 L366.99,88.55 L367.6,89.78 L367.85,91.15Z" fill="#14151f" filter="url(#tblur)"/>
<ellipse cx="359.14" cy="93.49" rx="0.56" ry="0.5" fill="#7a84a8" opacity="0.48"/>
<ellipse cx="359.32" cy="87.13" rx="0.67" ry="0.45" fill="#7a84a8" opacity="0.39"/>
<ellipse cx="362.4" cy="95.73" rx="0.57" ry="0.35" fill="#7a84a8" opacity="0.49"/>
<ellipse cx="356.18" cy="88.32" rx="0.56" ry="0.33" fill="#7a84a8" opacity="0.48"/>
<ellipse cx="360" cy="87.33" rx="0.68" ry="0.32" fill="#7a84a8" opacity="0.59"/>
<ellipse cx="362.53" cy="92.68" rx="0.33" ry="0.45" fill="#7a84a8" opacity="0.45"/>
<ellipse cx="364.17" cy="88.41" rx="0.81" ry="0.6" fill="#7a84a8" opacity="0.59"/>
<ellipse cx="362.89" cy="89.07" rx="0.89" ry="0.45" fill="#7a84a8" opacity="0.68"/>
<ellipse cx="363.84" cy="88.74" rx="0.77" ry="0.58" fill="#7a84a8" opacity="0.33"/>
<ellipse cx="358.49" cy="95.46" rx="0.4" ry="0.57" fill="#7a84a8" opacity="0.41"/>
<ellipse cx="362.89" cy="88.5" rx="0.6" ry="0.58" fill="#7a84a8" opacity="0.38"/>
<ellipse cx="357.65" cy="92.62" rx="0.49" ry="0.31" fill="#7a84a8" opacity="0.37"/>
<path d="M395.04,91.1 L394.98,92.35 L394.77,93.59 L394.35,94.78 L393.67,95.83 L392.76,96.65 L391.71,97.23 L390.64,97.66 L389.61,98.04 L388.56,98.43 L387.45,98.73 L386.28,98.82 L385.12,98.61 L384.03,98.12 L383.03,97.46 L382.12,96.67 L381.31,95.76 L380.67,94.71 L380.27,93.54 L380.15,92.31 L380.22,91.1 L380.39,89.93 L380.6,88.77 L380.91,87.61 L381.4,86.5 L382.11,85.52 L383.02,84.72 L384.04,84.1 L385.12,83.62 L386.27,83.28 L387.45,83.16 L388.63,83.32 L389.73,83.78 L390.7,84.42 L391.59,85.14 L392.45,85.87 L393.28,86.67 L394.04,87.59 L394.6,88.67 L394.93,89.86Z" fill="#14151f" filter="url(#tblur)"/>
<ellipse cx="390.87" cy="91.67" rx="0.65" ry="0.56" fill="#7a84a8" opacity="0.34"/>
<ellipse cx="391.98" cy="92.45" rx="0.54" ry="0.54" fill="#7a84a8" opacity="0.41"/>
<ellipse cx="391.95" cy="91.9" rx="0.52" ry="0.53" fill="#7a84a8" opacity="0.48"/>
<ellipse cx="384.48" cy="93.63" rx="0.33" ry="0.55" fill="#7a84a8" opacity="0.4"/>
<ellipse cx="388.73" cy="96.13" rx="0.65" ry="0.5" fill="#7a84a8" opacity="0.43"/>
<ellipse cx="382.88" cy="86.25" rx="0.39" ry="0.48" fill="#7a84a8" opacity="0.47"/>
<ellipse cx="387.57" cy="95.21" rx="0.38" ry="0.37" fill="#7a84a8" opacity="0.56"/>
<ellipse cx="383.06" cy="85.93" rx="0.51" ry="0.33" fill="#7a84a8" opacity="0.44"/>
<ellipse cx="384.92" cy="91.97" rx="0.65" ry="0.36" fill="#7a84a8" opacity="0.55"/>
<ellipse cx="387.22" cy="87.3" rx="0.86" ry="0.37" fill="#7a84a8" opacity="0.36"/>
<ellipse cx="383.74" cy="92.54" rx="0.82" ry="0.53" fill="#7a84a8" opacity="0.46"/>
<ellipse cx="385.29" cy="86.02" rx="0.69" ry="0.47" fill="#7a84a8" opacity="0.44"/>
<path d="M281.69,117.98 L281.7,119.16 L281.56,120.34 L281.24,121.51 L280.73,122.61 L279.99,123.55 L279.06,124.28 L278.03,124.78 L276.97,125.12 L275.9,125.37 L274.81,125.54 L273.7,125.56 L272.59,125.37 L271.53,124.94 L270.55,124.3 L269.67,123.52 L268.9,122.61 L268.27,121.57 L267.86,120.42 L267.72,119.19 L267.85,117.98 L268.16,116.84 L268.55,115.79 L268.97,114.77 L269.44,113.77 L270.01,112.81 L270.73,111.92 L271.58,111.14 L272.55,110.48 L273.64,109.99 L274.81,109.72 L276.02,109.76 L277.17,110.16 L278.18,110.87 L279,111.78 L279.67,112.75 L280.25,113.73 L280.77,114.71 L281.22,115.74 L281.53,116.83Z" fill="#14151f" filter="url(#tblur)"/>
<path d="M283.2,124.16 L283.13,125.26 L282.86,126.34 L282.38,127.34 L281.74,128.23 L281,129.02 L280.2,129.77 L279.33,130.45 L278.34,131.02 L277.24,131.34 L276.09,131.36 L274.98,131.1 L273.95,130.68 L272.98,130.2 L272.04,129.67 L271.13,129.06 L270.32,128.31 L269.67,127.4 L269.22,126.37 L268.97,125.27 L268.91,124.16 L269.03,123.05 L269.35,121.99 L269.85,121.01 L270.48,120.13 L271.18,119.3 L271.95,118.52 L272.82,117.81 L273.82,117.25 L274.94,116.97 L276.09,117 L277.19,117.28 L278.21,117.68 L279.19,118.12 L280.16,118.6 L281.09,119.2 L281.9,119.98 L282.51,120.92 L282.9,121.97 L283.12,123.05Z" fill="#14151f" filter="url(#tblur)"/>
<ellipse cx="278.44" cy="116.25" rx="0.49" ry="0.39" fill="#7a84a8" opacity="0.32"/>
<ellipse cx="279.16" cy="124.67" rx="0.73" ry="0.3" fill="#7a84a8" opacity="0.64"/>
<ellipse cx="277.79" cy="120.27" rx="0.75" ry="0.44" fill="#7a84a8" opacity="0.39"/>
<ellipse cx="271.68" cy="117.04" rx="0.32" ry="0.4" fill="#7a84a8" opacity="0.6"/>
<ellipse cx="277.31" cy="125.53" rx="0.73" ry="0.38" fill="#7a84a8" opacity="0.52"/>
<ellipse cx="274.84" cy="124.74" rx="0.61" ry="0.38" fill="#7a84a8" opacity="0.56"/>
<ellipse cx="279.89" cy="116.83" rx="0.83" ry="0.3" fill="#7a84a8" opacity="0.4"/>
<ellipse cx="272.93" cy="124.13" rx="0.87" ry="0.52" fill="#7a84a8" opacity="0.43"/>
<ellipse cx="279.08" cy="118.38" rx="0.44" ry="0.57" fill="#7a84a8" opacity="0.55"/>
<ellipse cx="277.29" cy="123.04" rx="0.89" ry="0.44" fill="#7a84a8" opacity="0.64"/>
<ellipse cx="277.34" cy="125.7" rx="0.56" ry="0.52" fill="#7a84a8" opacity="0.53"/>
<ellipse cx="273.62" cy="116.76" rx="0.67" ry="0.32" fill="#7a84a8" opacity="0.66"/>
<path d="M310.3,119.32 L310.28,120.28 L310.06,121.23 L309.61,122.1 L308.96,122.85 L308.21,123.5 L307.42,124.09 L306.59,124.64 L305.67,125.09 L304.66,125.37 L303.6,125.4 L302.57,125.22 L301.59,124.93 L300.64,124.58 L299.71,124.18 L298.82,123.65 L298.08,122.96 L297.56,122.11 L297.24,121.2 L297.06,120.26 L296.97,119.32 L296.99,118.37 L297.19,117.44 L297.62,116.56 L298.24,115.79 L298.97,115.13 L299.75,114.52 L300.59,113.96 L301.51,113.5 L302.54,113.23 L303.6,113.21 L304.63,113.42 L305.6,113.74 L306.53,114.11 L307.45,114.52 L308.32,115.04 L309.07,115.72 L309.62,116.54 L309.98,117.44 L310.19,118.38Z" fill="#14151f" filter="url(#tblur)"/>
<path d="M311.28,125.18 L311.34,126.16 L311.09,127.12 L310.55,128 L309.84,128.79 L309.02,129.5 L308.12,130.14 L307.13,130.7 L306.02,131.12 L304.82,131.33 L303.6,131.31 L302.42,131.1 L301.33,130.75 L300.31,130.33 L299.35,129.85 L298.44,129.29 L297.63,128.64 L296.98,127.87 L296.51,127.02 L296.24,126.11 L296.12,125.18 L296.14,124.23 L296.3,123.28 L296.63,122.35 L297.2,121.47 L298,120.71 L298.99,120.12 L300.1,119.71 L301.26,119.44 L302.43,119.27 L303.6,119.18 L304.79,119.2 L305.96,119.38 L307.05,119.78 L307.99,120.36 L308.74,121.08 L309.36,121.84 L309.92,122.61 L310.46,123.4 L310.95,124.25Z" fill="#14151f" filter="url(#tblur)"/>
<ellipse cx="307.48" cy="127.54" rx="0.36" ry="0.36" fill="#7a84a8" opacity="0.34"/>
<ellipse cx="299.24" cy="126.39" rx="0.79" ry="0.49" fill="#7a84a8" opacity="0.63"/>
<ellipse cx="304.83" cy="119.72" rx="0.36" ry="0.33" fill="#7a84a8" opacity="0.6"/>
<ellipse cx="300.84" cy="120.1" rx="0.55" ry="0.31" fill="#7a84a8" opacity="0.4"/>
<ellipse cx="301.57" cy="124.82" rx="0.52" ry="0.4" fill="#7a84a8" opacity="0.69"/>
<ellipse cx="303.63" cy="126.43" rx="0.67" ry="0.31" fill="#7a84a8" opacity="0.47"/>
<ellipse cx="303.01" cy="125.5" rx="0.51" ry="0.51" fill="#7a84a8" opacity="0.52"/>
<ellipse cx="300.95" cy="126.56" rx="0.35" ry="0.55" fill="#7a84a8" opacity="0.37"/>
<ellipse cx="298.93" cy="118.71" rx="0.76" ry="0.59" fill="#7a84a8" opacity="0.3"/>
<ellipse cx="303.51" cy="122.15" rx="0.78" ry="0.36" fill="#7a84a8" opacity="0.5"/>
<ellipse cx="302.17" cy="126.2" rx="0.46" ry="0.58" fill="#7a84a8" opacity="0.41"/>
<ellipse cx="300.93" cy="124.62" rx="0.6" ry="0.33" fill="#7a84a8" opacity="0.55"/>
<path d="M336.44,120.21 L336.32,121.14 L336.09,122.04 L335.81,122.93 L335.45,123.81 L334.92,124.63 L334.19,125.25 L333.31,125.59 L332.38,125.69 L331.5,125.69 L330.66,125.73 L329.81,125.81 L328.91,125.81 L328.01,125.61 L327.2,125.15 L326.53,124.5 L325.96,123.75 L325.47,122.96 L325.07,122.1 L324.85,121.17 L324.89,120.21 L325.15,119.31 L325.52,118.48 L325.89,117.69 L326.23,116.87 L326.63,116.03 L327.2,115.26 L327.95,114.68 L328.83,114.35 L329.75,114.22 L330.66,114.22 L331.56,114.32 L332.44,114.55 L333.25,114.95 L333.96,115.51 L334.57,116.16 L335.12,116.86 L335.63,117.59 L336.08,118.39 L336.37,119.28Z" fill="#14151f" filter="url(#tblur)"/>
<path d="M337.85,126.9 L337.77,127.87 L337.55,128.83 L337.18,129.73 L336.64,130.54 L335.97,131.22 L335.2,131.77 L334.38,132.19 L333.52,132.5 L332.63,132.69 L331.74,132.74 L330.84,132.66 L329.96,132.48 L329.09,132.2 L328.24,131.82 L327.42,131.31 L326.71,130.63 L326.18,129.79 L325.86,128.85 L325.72,127.87 L325.7,126.9 L325.75,125.93 L325.89,124.96 L326.18,124 L326.67,123.13 L327.37,122.43 L328.21,121.94 L329.11,121.63 L330.01,121.45 L330.87,121.34 L331.74,121.26 L332.61,121.23 L333.52,121.3 L334.43,121.5 L335.31,121.87 L336.11,122.42 L336.79,123.14 L337.3,124 L337.63,124.94 L337.81,125.91Z" fill="#14151f" filter="url(#tblur)"/>
<ellipse cx="331.45" cy="126.81" rx="0.75" ry="0.49" fill="#7a84a8" opacity="0.44"/>
<ellipse cx="329.81" cy="119.37" rx="0.81" ry="0.5" fill="#7a84a8" opacity="0.6"/>
<ellipse cx="328.54" cy="122.89" rx="0.76" ry="0.47" fill="#7a84a8" opacity="0.35"/>
<ellipse cx="330.89" cy="128.43" rx="0.44" ry="0.36" fill="#7a84a8" opacity="0.42"/>
<ellipse cx="332.83" cy="127.92" rx="0.39" ry="0.35" fill="#7a84a8" opacity="0.4"/>
<ellipse cx="329.81" cy="123.93" rx="0.4" ry="0.4" fill="#7a84a8" opacity="0.38"/>
<ellipse cx="335.02" cy="126.49" rx="0.36" ry="0.59" fill="#7a84a8" opacity="0.34"/>
<ellipse cx="330.27" cy="129.66" rx="0.78" ry="0.52" fill="#7a84a8" opacity="0.47"/>
<ellipse cx="328.76" cy="125.36" rx="0.36" ry="0.36" fill="#7a84a8" opacity="0.46"/>
<ellipse cx="327.45" cy="122.4" rx="0.77" ry="0.51" fill="#7a84a8" opacity="0.5"/>
<ellipse cx="332.26" cy="123.19" rx="0.39" ry="0.48" fill="#7a84a8" opacity="0.46"/>
<ellipse cx="333.14" cy="128.72" rx="0.56" ry="0.47" fill="#7a84a8" opacity="0.6"/>
<path d="M363.96,119.16 L364.08,120.18 L364.02,121.22 L363.68,122.2 L363.04,122.98 L362.21,123.51 L361.35,123.87 L360.56,124.19 L359.83,124.6 L359.07,125.07 L358.21,125.44 L357.28,125.56 L356.36,125.37 L355.5,124.95 L354.71,124.4 L353.98,123.77 L353.33,123.02 L352.84,122.14 L352.58,121.16 L352.54,120.14 L352.65,119.16 L352.82,118.23 L353,117.32 L353.24,116.41 L353.61,115.53 L354.14,114.74 L354.82,114.09 L355.59,113.58 L356.43,113.19 L357.3,112.93 L358.21,112.82 L359.12,112.89 L360.01,113.15 L360.84,113.54 L361.62,114.06 L362.31,114.7 L362.88,115.47 L363.3,116.34 L363.58,117.26 L363.79,118.2Z" fill="#14151f" filter="url(#tblur)"/>
<path d="M365.13,126.44 L365.1,127.39 L364.99,128.36 L364.75,129.33 L364.32,130.24 L363.68,131.01 L362.9,131.61 L362.04,132.04 L361.14,132.37 L360.23,132.6 L359.29,132.73 L358.34,132.7 L357.4,132.5 L356.51,132.11 L355.72,131.55 L355.04,130.85 L354.51,130.05 L354.11,129.18 L353.81,128.29 L353.58,127.38 L353.39,126.44 L353.29,125.45 L353.36,124.43 L353.68,123.46 L354.26,122.63 L355,121.97 L355.82,121.46 L356.63,121 L357.46,120.56 L358.34,120.18 L359.29,119.98 L360.26,120.03 L361.19,120.35 L362.03,120.85 L362.78,121.43 L363.48,122.07 L364.11,122.79 L364.61,123.61 L364.94,124.53 L365.1,125.48Z" fill="#14151f" filter="url(#tblur)"/>
<ellipse cx="359.73" cy="121.61" rx="0.71" ry="0.58" fill="#7a84a8" opacity="0.37"/>
<ellipse cx="360" cy="126.45" rx="0.53" ry="0.45" fill="#7a84a8" opacity="0.69"/>
<ellipse cx="355.01" cy="123.37" rx="0.4" ry="0.53" fill="#7a84a8" opacity="0.68"/>
<ellipse cx="358.91" cy="117.56" rx="0.64" ry="0.46" fill="#7a84a8" opacity="0.59"/>
<ellipse cx="358.85" cy="124.63" rx="0.8" ry="0.46" fill="#7a84a8" opacity="0.46"/>
<ellipse cx="362.38" cy="118.99" rx="0.71" ry="0.42" fill="#7a84a8" opacity="0.61"/>
<ellipse cx="355.69" cy="129.16" rx="0.51" ry="0.32" fill="#7a84a8" opacity="0.41"/>
<ellipse cx="357.94" cy="116.41" rx="0.55" ry="0.43" fill="#7a84a8" opacity="0.58"/>
<ellipse cx="357.55" cy="119.72" rx="0.43" ry="0.52" fill="#7a84a8" opacity="0.68"/>
<ellipse cx="358.97" cy="119.11" rx="0.78" ry="0.42" fill="#7a84a8" opacity="0.38"/>
<ellipse cx="355.75" cy="126.43" rx="0.79" ry="0.49" fill="#7a84a8" opacity="0.49"/>
<ellipse cx="359.25" cy="119.2" rx="0.88" ry="0.41" fill="#7a84a8" opacity="0.56"/>
<path d="M390.07,121.27 L389.84,122.2 L389.63,123.1 L389.44,124.02 L389.15,124.97 L388.66,125.82 L387.96,126.46 L387.13,126.85 L386.26,127.09 L385.41,127.25 L384.56,127.36 L383.69,127.32 L382.86,127.05 L382.14,126.53 L381.54,125.87 L381.01,125.2 L380.47,124.56 L379.9,123.9 L379.37,123.14 L378.99,122.25 L378.83,121.27 L378.88,120.27 L379.09,119.3 L379.43,118.37 L379.9,117.52 L380.52,116.8 L381.26,116.24 L382.05,115.82 L382.87,115.52 L383.71,115.31 L384.56,115.25 L385.4,115.39 L386.18,115.73 L386.89,116.21 L387.55,116.7 L388.24,117.19 L388.97,117.72 L389.63,118.41 L390.07,119.29 L390.2,120.28Z" fill="#14151f" filter="url(#tblur)"/>
<path d="M390.55,128.11 L390.39,128.99 L390.15,129.83 L389.82,130.62 L389.4,131.36 L388.89,132.02 L388.29,132.59 L387.63,133.09 L386.9,133.49 L386.12,133.79 L385.3,133.94 L384.45,133.91 L383.63,133.7 L382.85,133.33 L382.15,132.83 L381.53,132.21 L381.02,131.49 L380.63,130.7 L380.37,129.85 L380.21,128.99 L380.13,128.11 L380.14,127.22 L380.26,126.33 L380.55,125.48 L381.01,124.72 L381.59,124.08 L382.26,123.56 L382.97,123.13 L383.7,122.78 L384.48,122.53 L385.3,122.42 L386.11,122.49 L386.91,122.72 L387.66,123.06 L388.39,123.48 L389.08,123.99 L389.71,124.62 L390.2,125.39 L390.5,126.27 L390.6,127.2Z" fill="#14151f" filter="url(#tblur)"/>
<ellipse cx="384.52" cy="126.2" rx="0.7" ry="0.41" fill="#7a84a8" opacity="0.67"/>
<ellipse cx="387.67" cy="119.03" rx="0.8" ry="0.57" fill="#7a84a8" opacity="0.61"/>
<ellipse cx="382.4" cy="128.59" rx="0.68" ry="0.3" fill="#7a84a8" opacity="0.3"/>
<ellipse cx="388.38" cy="126.43" rx="0.45" ry="0.33" fill="#7a84a8" opacity="0.36"/>
<ellipse cx="383.08" cy="127.91" rx="0.51" ry="0.35" fill="#7a84a8" opacity="0.66"/>
<ellipse cx="387.2" cy="120.4" rx="0.83" ry="0.48" fill="#7a84a8" opacity="0.61"/>
<ellipse cx="386.29" cy="129.36" rx="0.77" ry="0.55" fill="#7a84a8" opacity="0.38"/>
<ellipse cx="386.47" cy="124.88" rx="0.75" ry="0.43" fill="#7a84a8" opacity="0.65"/>
<ellipse cx="385.46" cy="121.59" rx="0.44" ry="0.34" fill="#7a84a8" opacity="0.5"/>
<ellipse cx="381.79" cy="124.09" rx="0.39" ry="0.45" fill="#7a84a8" opacity="0.5"/>
<ellipse cx="385.34" cy="128.98" rx="0.3" ry="0.55" fill="#7a84a8" opacity="0.49"/>
<ellipse cx="385.51" cy="126.54" rx="0.8" ry="0.41" fill="#7a84a8" opacity="0.47"/>
<path d="M280.19,147.15 L280.12,148.3 L279.8,149.4 L279.3,150.39 L278.69,151.28 L278.01,152.09 L277.26,152.8 L276.4,153.34 L275.46,153.66 L274.5,153.76 L273.55,153.7 L272.63,153.56 L271.72,153.39 L270.78,153.17 L269.83,152.82 L268.92,152.28 L268.1,151.53 L267.45,150.59 L267.01,149.5 L266.81,148.33 L266.84,147.15 L267.08,146.02 L267.47,144.96 L267.97,144 L268.55,143.13 L269.23,142.37 L269.99,141.73 L270.83,141.25 L271.71,140.88 L272.61,140.59 L273.55,140.36 L274.54,140.22 L275.57,140.28 L276.55,140.63 L277.42,141.26 L278.11,142.1 L278.67,143.03 L279.16,143.98 L279.62,144.97 L280,146.02Z" fill="#14151f" filter="url(#tblur)"/>
<ellipse cx="273.63" cy="147.01" rx="0.84" ry="0.31" fill="#7a84a8" opacity="0.59"/>
<ellipse cx="274.53" cy="145.63" rx="0.82" ry="0.41" fill="#7a84a8" opacity="0.49"/>
<ellipse cx="273.75" cy="149.7" rx="0.43" ry="0.43" fill="#7a84a8" opacity="0.47"/>
<ellipse cx="273.97" cy="150.23" rx="0.48" ry="0.55" fill="#7a84a8" opacity="0.46"/>
<ellipse cx="273.58" cy="145" rx="0.6" ry="0.59" fill="#7a84a8" opacity="0.56"/>
<ellipse cx="275.84" cy="145.56" rx="0.49" ry="0.39" fill="#7a84a8" opacity="0.53"/>
<ellipse cx="274.61" cy="149.83" rx="0.32" ry="0.52" fill="#7a84a8" opacity="0.65"/>
<ellipse cx="273.91" cy="142.91" rx="0.48" ry="0.3" fill="#7a84a8" opacity="0.38"/>
<ellipse cx="276.86" cy="148.17" rx="0.69" ry="0.54" fill="#7a84a8" opacity="0.66"/>
<ellipse cx="274.43" cy="148.25" rx="0.68" ry="0.51" fill="#7a84a8" opacity="0.54"/>
<ellipse cx="274.97" cy="144.44" rx="0.7" ry="0.44" fill="#7a84a8" opacity="0.61"/>
<ellipse cx="270.42" cy="144.15" rx="0.32" ry="0.53" fill="#7a84a8" opacity="0.67"/>
<path d="M305.87,149.25 L305.82,150.51 L305.69,151.78 L305.44,153.03 L305.02,154.18 L304.43,155.17 L303.72,155.93 L302.94,156.5 L302.13,156.93 L301.3,157.24 L300.45,157.42 L299.58,157.42 L298.71,157.22 L297.86,156.82 L297.04,156.22 L296.29,155.43 L295.65,154.43 L295.19,153.24 L294.94,151.91 L294.92,150.55 L295.06,149.25 L295.29,148.04 L295.58,146.89 L295.89,145.8 L296.26,144.72 L296.7,143.67 L297.23,142.66 L297.87,141.73 L298.64,140.97 L299.52,140.48 L300.45,140.36 L301.37,140.6 L302.22,141.13 L302.99,141.84 L303.69,142.61 L304.35,143.45 L304.94,144.4 L305.4,145.5 L305.71,146.71 L305.85,147.98Z" fill="#14151f" filter="url(#tblur)"/>
<ellipse cx="301.43" cy="154.07" rx="0.33" ry="0.47" fill="#7a84a8" opacity="0.32"/>
<ellipse cx="297.82" cy="152.7" rx="0.65" ry="0.58" fill="#7a84a8" opacity="0.48"/>
<ellipse cx="297.1" cy="148" rx="0.66" ry="0.58" fill="#7a84a8" opacity="0.69"/>
<ellipse cx="300.28" cy="148.28" rx="0.36" ry="0.49" fill="#7a84a8" opacity="0.38"/>
<ellipse cx="298.05" cy="143.87" rx="0.3" ry="0.51" fill="#7a84a8" opacity="0.35"/>
<ellipse cx="303.67" cy="144.67" rx="0.82" ry="0.34" fill="#7a84a8" opacity="0.31"/>
<ellipse cx="301.96" cy="146.39" rx="0.74" ry="0.36" fill="#7a84a8" opacity="0.32"/>
<ellipse cx="302.34" cy="151.62" rx="0.81" ry="0.52" fill="#7a84a8" opacity="0.33"/>
<ellipse cx="301.34" cy="151.58" rx="0.58" ry="0.58" fill="#7a84a8" opacity="0.4"/>
<ellipse cx="303.65" cy="151.66" rx="0.31" ry="0.3" fill="#7a84a8" opacity="0.56"/>
<ellipse cx="302.64" cy="144.58" rx="0.49" ry="0.52" fill="#7a84a8" opacity="0.37"/>
<ellipse cx="302.94" cy="149.1" rx="0.34" ry="0.41" fill="#7a84a8" opacity="0.53"/>
<path d="M336.35,150.25 L336.4,151.24 L336.29,152.25 L335.99,153.22 L335.49,154.12 L334.81,154.9 L334,155.52 L333.1,155.99 L332.15,156.3 L331.18,156.47 L330.2,156.52 L329.22,156.48 L328.24,156.32 L327.3,155.99 L326.45,155.45 L325.75,154.73 L325.22,153.89 L324.81,153.02 L324.45,152.13 L324.13,151.22 L323.9,150.25 L323.88,149.24 L324.1,148.25 L324.54,147.34 L325.11,146.52 L325.75,145.77 L326.46,145.06 L327.25,144.43 L328.17,143.97 L329.18,143.75 L330.2,143.79 L331.18,144.01 L332.11,144.32 L333.01,144.69 L333.86,145.17 L334.63,145.79 L335.24,146.56 L335.69,147.43 L335.99,148.35 L336.2,149.29Z" fill="#14151f" filter="url(#tblur)"/>
<ellipse cx="333.67" cy="152.67" rx="0.64" ry="0.39" fill="#7a84a8" opacity="0.32"/>
<ellipse cx="333.9" cy="151.98" rx="0.8" ry="0.4" fill="#7a84a8" opacity="0.54"/>
<ellipse cx="333.92" cy="153.07" rx="0.66" ry="0.39" fill="#7a84a8" opacity="0.47"/>
<ellipse cx="333.23" cy="149.2" rx="0.71" ry="0.48" fill="#7a84a8" opacity="0.66"/>
<ellipse cx="332.6" cy="148.4" rx="0.3" ry="0.38" fill="#7a84a8" opacity="0.47"/>
<ellipse cx="330.88" cy="152.94" rx="0.83" ry="0.31" fill="#7a84a8" opacity="0.63"/>
<ellipse cx="332.63" cy="153.38" rx="0.64" ry="0.38" fill="#7a84a8" opacity="0.64"/>
<ellipse cx="332.59" cy="151.82" rx="0.85" ry="0.4" fill="#7a84a8" opacity="0.33"/>
<ellipse cx="330.62" cy="152.78" rx="0.42" ry="0.53" fill="#7a84a8" opacity="0.67"/>
<ellipse cx="328.13" cy="151.16" rx="0.71" ry="0.44" fill="#7a84a8" opacity="0.38"/>
<ellipse cx="328.29" cy="152.39" rx="0.77" ry="0.44" fill="#7a84a8" opacity="0.34"/>
<ellipse cx="332.59" cy="152.57" rx="0.44" ry="0.47" fill="#7a84a8" opacity="0.66"/>
<path d="M364.76,152.95 L364.81,153.86 L364.74,154.8 L364.47,155.74 L363.97,156.62 L363.27,157.4 L362.43,158.09 L361.47,158.67 L360.4,159.11 L359.24,159.37 L358.05,159.39 L356.89,159.18 L355.82,158.81 L354.82,158.35 L353.89,157.83 L353.01,157.25 L352.23,156.55 L351.63,155.74 L351.24,154.84 L351.05,153.89 L351.03,152.95 L351.15,152.02 L351.4,151.11 L351.8,150.24 L352.36,149.43 L353.04,148.68 L353.83,148 L354.72,147.39 L355.73,146.87 L356.86,146.53 L358.05,146.41 L359.24,146.52 L360.38,146.83 L361.43,147.29 L362.38,147.87 L363.19,148.57 L363.82,149.38 L364.24,150.26 L364.5,151.16 L364.65,152.06Z" fill="#14151f" filter="url(#tblur)"/>
<ellipse cx="357.18" cy="153.09" rx="0.39" ry="0.31" fill="#7a84a8" opacity="0.7"/>
<ellipse cx="356.92" cy="149.7" rx="0.68" ry="0.54" fill="#7a84a8" opacity="0.36"/>
<ellipse cx="358.92" cy="151.67" rx="0.61" ry="0.31" fill="#7a84a8" opacity="0.31"/>
<ellipse cx="362.43" cy="155.97" rx="0.59" ry="0.47" fill="#7a84a8" opacity="0.4"/>
<ellipse cx="360.55" cy="152.34" rx="0.87" ry="0.53" fill="#7a84a8" opacity="0.63"/>
<ellipse cx="362.19" cy="150.92" rx="0.32" ry="0.36" fill="#7a84a8" opacity="0.37"/>
<ellipse cx="354.33" cy="149.24" rx="0.63" ry="0.56" fill="#7a84a8" opacity="0.48"/>
<ellipse cx="362.05" cy="156.33" rx="0.34" ry="0.48" fill="#7a84a8" opacity="0.46"/>
<ellipse cx="354.65" cy="156.74" rx="0.45" ry="0.47" fill="#7a84a8" opacity="0.56"/>
<ellipse cx="362.13" cy="154.35" rx="0.54" ry="0.43" fill="#7a84a8" opacity="0.36"/>
<ellipse cx="362.21" cy="157.01" rx="0.43" ry="0.31" fill="#7a84a8" opacity="0.4"/>
<ellipse cx="356.73" cy="156.27" rx="0.84" ry="0.55" fill="#7a84a8" opacity="0.32"/>
<path d="M390.03,152.76 L389.94,153.55 L389.7,154.31 L389.33,155.03 L388.85,155.69 L388.24,156.27 L387.53,156.75 L386.76,157.13 L385.95,157.43 L385.09,157.65 L384.2,157.75 L383.3,157.68 L382.45,157.43 L381.68,157.06 L380.97,156.62 L380.31,156.14 L379.71,155.59 L379.24,154.96 L378.97,154.24 L378.89,153.49 L378.93,152.76 L378.98,152.04 L379,151.29 L379.07,150.49 L379.33,149.69 L379.86,148.99 L380.62,148.48 L381.51,148.18 L382.42,147.99 L383.31,147.87 L384.2,147.81 L385.09,147.89 L385.92,148.15 L386.65,148.58 L387.27,149.09 L387.83,149.61 L388.41,150.1 L389.01,150.63 L389.54,151.25 L389.9,151.98Z" fill="#14151f" filter="url(#tblur)"/>
<ellipse cx="384.84" cy="154.08" rx="0.36" ry="0.4" fill="#7a84a8" opacity="0.4"/>
<ellipse cx="381.58" cy="152.06" rx="0.4" ry="0.37" fill="#7a84a8" opacity="0.36"/>
<ellipse cx="385.44" cy="148.65" rx="0.73" ry="0.36" fill="#7a84a8" opacity="0.31"/>
<ellipse cx="387.18" cy="150.17" rx="0.86" ry="0.56" fill="#7a84a8" opacity="0.66"/>
<ellipse cx="381.69" cy="151.82" rx="0.36" ry="0.58" fill="#7a84a8" opacity="0.64"/>
<ellipse cx="385.09" cy="151.85" rx="0.5" ry="0.55" fill="#7a84a8" opacity="0.49"/>
<ellipse cx="385.09" cy="149.6" rx="0.43" ry="0.32" fill="#7a84a8" opacity="0.59"/>
<ellipse cx="384.57" cy="149.61" rx="0.82" ry="0.38" fill="#7a84a8" opacity="0.46"/>
<ellipse cx="381.8" cy="150.53" rx="0.8" ry="0.4" fill="#7a84a8" opacity="0.37"/>
<ellipse cx="384.14" cy="150.88" rx="0.84" ry="0.33" fill="#7a84a8" opacity="0.69"/>
<ellipse cx="381.12" cy="155.08" rx="0.7" ry="0.36" fill="#7a84a8" opacity="0.49"/>
<ellipse cx="382.71" cy="150.44" rx="0.42" ry="0.41" fill="#7a84a8" opacity="0.7"/>
<path d="M279.74,173.75 L279.47,175.18 L278.98,176.48 L278.45,177.66 L277.94,178.83 L277.38,180 L276.65,181.01 L275.73,181.69 L274.7,181.97 L273.67,181.97 L272.7,181.91 L271.74,181.86 L270.76,181.73 L269.81,181.34 L268.97,180.61 L268.29,179.63 L267.71,178.59 L267.11,177.56 L266.45,176.46 L265.88,175.19 L265.58,173.75 L265.68,172.27 L266.15,170.91 L266.79,169.73 L267.47,168.67 L268.15,167.67 L268.88,166.73 L269.74,165.98 L270.7,165.51 L271.7,165.34 L272.7,165.37 L273.67,165.55 L274.61,165.88 L275.5,166.4 L276.32,167.1 L277.06,167.92 L277.79,168.81 L278.53,169.78 L279.2,170.93 L279.65,172.28Z" fill="#14151f" filter="url(#tblur)"/>
<ellipse cx="275.17" cy="171.9" rx="0.38" ry="0.3" fill="#7a84a8" opacity="0.63"/>
<ellipse cx="272.91" cy="170.09" rx="0.56" ry="0.57" fill="#7a84a8" opacity="0.39"/>
<ellipse cx="273.27" cy="169.54" rx="0.41" ry="0.53" fill="#7a84a8" opacity="0.58"/>
<ellipse cx="270.26" cy="168.85" rx="0.35" ry="0.48" fill="#7a84a8" opacity="0.5"/>
<ellipse cx="270.88" cy="170.33" rx="0.67" ry="0.51" fill="#7a84a8" opacity="0.62"/>
<ellipse cx="273.37" cy="170.29" rx="0.34" ry="0.52" fill="#7a84a8" opacity="0.46"/>
<ellipse cx="274.48" cy="168.58" rx="0.79" ry="0.4" fill="#7a84a8" opacity="0.64"/>
<ellipse cx="275.63" cy="173.67" rx="0.31" ry="0.57" fill="#7a84a8" opacity="0.49"/>
<ellipse cx="275.69" cy="171.03" rx="0.41" ry="0.55" fill="#7a84a8" opacity="0.45"/>
<ellipse cx="269.99" cy="172.25" rx="0.66" ry="0.3" fill="#7a84a8" opacity="0.51"/>
<ellipse cx="272.26" cy="173.93" rx="0.37" ry="0.51" fill="#7a84a8" opacity="0.63"/>
<ellipse cx="275.64" cy="171.67" rx="0.73" ry="0.41" fill="#7a84a8" opacity="0.6"/>
<path d="M304.98,174.75 L304.77,175.74 L304.56,176.72 L304.35,177.74 L304.04,178.81 L303.48,179.82 L302.61,180.61 L301.52,181.1 L300.34,181.32 L299.18,181.39 L298.05,181.36 L296.95,181.24 L295.89,180.96 L294.9,180.51 L294,179.95 L293.13,179.34 L292.28,178.66 L291.49,177.87 L290.9,176.92 L290.61,175.85 L290.62,174.75 L290.83,173.68 L291.12,172.65 L291.5,171.64 L292.06,170.69 L292.87,169.92 L293.88,169.4 L294.96,169.1 L296,168.86 L296.99,168.53 L298.05,168.13 L299.22,167.85 L300.44,167.89 L301.56,168.33 L302.48,169.07 L303.21,169.93 L303.86,170.82 L304.43,171.72 L304.86,172.69 L305.05,173.72Z" fill="#14151f" filter="url(#tblur)"/>
<ellipse cx="295.21" cy="171.16" rx="0.45" ry="0.55" fill="#7a84a8" opacity="0.31"/>
<ellipse cx="294.44" cy="176.55" rx="0.42" ry="0.31" fill="#7a84a8" opacity="0.54"/>
<ellipse cx="298.73" cy="174.96" rx="0.72" ry="0.33" fill="#7a84a8" opacity="0.65"/>
<ellipse cx="299.99" cy="170.64" rx="0.37" ry="0.45" fill="#7a84a8" opacity="0.5"/>
<ellipse cx="296.08" cy="171.34" rx="0.54" ry="0.34" fill="#7a84a8" opacity="0.54"/>
<ellipse cx="301.28" cy="171.56" rx="0.64" ry="0.52" fill="#7a84a8" opacity="0.37"/>
<ellipse cx="300.96" cy="178.7" rx="0.53" ry="0.43" fill="#7a84a8" opacity="0.64"/>
<ellipse cx="298.28" cy="173.81" rx="0.86" ry="0.53" fill="#7a84a8" opacity="0.44"/>
<ellipse cx="295.73" cy="173.26" rx="0.56" ry="0.59" fill="#7a84a8" opacity="0.62"/>
<ellipse cx="301.74" cy="177.6" rx="0.81" ry="0.32" fill="#7a84a8" opacity="0.51"/>
<ellipse cx="302.14" cy="178.67" rx="0.45" ry="0.43" fill="#7a84a8" opacity="0.55"/>
<ellipse cx="296.84" cy="175.03" rx="0.34" ry="0.43" fill="#7a84a8" opacity="0.5"/>
<path d="M333.69,173.85 L333.77,174.87 L333.55,175.86 L333.12,176.78 L332.56,177.6 L331.9,178.33 L331.13,178.91 L330.27,179.29 L329.36,179.48 L328.46,179.53 L327.6,179.56 L326.72,179.62 L325.8,179.63 L324.85,179.47 L323.96,179.07 L323.2,178.43 L322.59,177.64 L322.14,176.75 L321.83,175.8 L321.71,174.82 L321.78,173.85 L322,172.93 L322.29,172.05 L322.58,171.19 L322.91,170.3 L323.37,169.44 L324.02,168.73 L324.86,168.25 L325.77,168 L326.69,167.85 L327.6,167.71 L328.55,167.59 L329.54,167.64 L330.46,168.01 L331.18,168.72 L331.66,169.62 L332,170.52 L332.37,171.32 L332.83,172.08 L333.33,172.9Z" fill="#14151f" filter="url(#tblur)"/>
<ellipse cx="328.64" cy="171.92" rx="0.71" ry="0.38" fill="#7a84a8" opacity="0.52"/>
<ellipse cx="330.71" cy="174.85" rx="0.45" ry="0.46" fill="#7a84a8" opacity="0.47"/>
<ellipse cx="330.9" cy="172.1" rx="0.48" ry="0.49" fill="#7a84a8" opacity="0.35"/>
<ellipse cx="328.29" cy="177.61" rx="0.61" ry="0.38" fill="#7a84a8" opacity="0.49"/>
<ellipse cx="327.85" cy="170.95" rx="0.37" ry="0.34" fill="#7a84a8" opacity="0.42"/>
<ellipse cx="326.92" cy="172.1" rx="0.45" ry="0.33" fill="#7a84a8" opacity="0.52"/>
<ellipse cx="330.09" cy="174.76" rx="0.64" ry="0.5" fill="#7a84a8" opacity="0.38"/>
<ellipse cx="329.14" cy="173.53" rx="0.63" ry="0.48" fill="#7a84a8" opacity="0.49"/>
<ellipse cx="326.21" cy="171.72" rx="0.43" ry="0.45" fill="#7a84a8" opacity="0.45"/>
<ellipse cx="328.23" cy="169.82" rx="0.51" ry="0.56" fill="#7a84a8" opacity="0.4"/>
<ellipse cx="328.01" cy="173.78" rx="0.47" ry="0.6" fill="#7a84a8" opacity="0.42"/>
<ellipse cx="329.59" cy="171.03" rx="0.34" ry="0.56" fill="#7a84a8" opacity="0.48"/>
<path d="M364.76,175.15 L364.83,175.99 L364.69,176.84 L364.31,177.63 L363.71,178.33 L362.97,178.9 L362.15,179.36 L361.3,179.76 L360.42,180.11 L359.49,180.37 L358.5,180.47 L357.51,180.39 L356.57,180.13 L355.7,179.76 L354.88,179.33 L354.07,178.87 L353.29,178.32 L352.64,177.65 L352.21,176.86 L352.08,176 L352.2,175.15 L352.47,174.35 L352.79,173.6 L353.13,172.86 L353.52,172.12 L354.04,171.41 L354.74,170.81 L355.58,170.35 L356.53,170.06 L357.51,169.9 L358.5,169.85 L359.49,169.89 L360.48,170.04 L361.42,170.34 L362.27,170.8 L362.97,171.4 L363.52,172.09 L363.94,172.83 L364.27,173.58 L364.55,174.35Z" fill="#14151f" filter="url(#tblur)"/>
<ellipse cx="357.35" cy="176.39" rx="0.67" ry="0.55" fill="#7a84a8" opacity="0.63"/>
<ellipse cx="358.64" cy="176.84" rx="0.75" ry="0.53" fill="#7a84a8" opacity="0.49"/>
<ellipse cx="360.72" cy="176.63" rx="0.85" ry="0.34" fill="#7a84a8" opacity="0.65"/>
<ellipse cx="354.63" cy="177.03" rx="0.65" ry="0.45" fill="#7a84a8" opacity="0.69"/>
<ellipse cx="359.06" cy="174.57" rx="0.77" ry="0.56" fill="#7a84a8" opacity="0.54"/>
<ellipse cx="357.56" cy="174.81" rx="0.57" ry="0.52" fill="#7a84a8" opacity="0.42"/>
<ellipse cx="357.65" cy="175.54" rx="0.53" ry="0.4" fill="#7a84a8" opacity="0.61"/>
<ellipse cx="361.23" cy="175.15" rx="0.57" ry="0.36" fill="#7a84a8" opacity="0.42"/>
<ellipse cx="355.73" cy="175.68" rx="0.65" ry="0.33" fill="#7a84a8" opacity="0.67"/>
<ellipse cx="357.13" cy="177.58" rx="0.8" ry="0.59" fill="#7a84a8" opacity="0.38"/>
<ellipse cx="357.93" cy="178.06" rx="0.31" ry="0.31" fill="#7a84a8" opacity="0.53"/>
<ellipse cx="358.48" cy="178.13" rx="0.76" ry="0.46" fill="#7a84a8" opacity="0.7"/>
<path d="M391.68,174.45 L391.65,175.27 L391.56,176.11 L391.31,176.93 L390.87,177.71 L390.27,178.4 L389.56,179.03 L388.76,179.58 L387.86,180.05 L386.85,180.33 L385.8,180.36 L384.78,180.13 L383.86,179.74 L383.02,179.28 L382.21,178.82 L381.44,178.3 L380.77,177.69 L380.26,176.95 L379.96,176.13 L379.8,175.29 L379.7,174.45 L379.63,173.59 L379.68,172.69 L379.95,171.82 L380.51,171.05 L381.29,170.46 L382.16,170.01 L383.03,169.65 L383.91,169.3 L384.82,169 L385.8,168.82 L386.81,168.81 L387.81,168.98 L388.76,169.31 L389.64,169.77 L390.43,170.36 L391.04,171.08 L391.45,171.91 L391.63,172.77 L391.68,173.63Z" fill="#14151f" filter="url(#tblur)"/>
<ellipse cx="382.67" cy="173.51" rx="0.54" ry="0.47" fill="#7a84a8" opacity="0.53"/>
<ellipse cx="388.76" cy="177.92" rx="0.59" ry="0.43" fill="#7a84a8" opacity="0.55"/>
<ellipse cx="389.67" cy="173.28" rx="0.62" ry="0.54" fill="#7a84a8" opacity="0.37"/>
<ellipse cx="384.38" cy="178.03" rx="0.8" ry="0.45" fill="#7a84a8" opacity="0.34"/>
<ellipse cx="388.88" cy="175.87" rx="0.79" ry="0.6" fill="#7a84a8" opacity="0.66"/>
<ellipse cx="385.18" cy="171.88" rx="0.47" ry="0.45" fill="#7a84a8" opacity="0.5"/>
<ellipse cx="383.37" cy="172.08" rx="0.68" ry="0.48" fill="#7a84a8" opacity="0.44"/>
<ellipse cx="389.65" cy="175.47" rx="0.33" ry="0.42" fill="#7a84a8" opacity="0.62"/>
<ellipse cx="384.29" cy="175.88" rx="0.3" ry="0.39" fill="#7a84a8" opacity="0.64"/>
<ellipse cx="386.47" cy="175.71" rx="0.42" ry="0.45" fill="#7a84a8" opacity="0.52"/>
<ellipse cx="383.97" cy="175.55" rx="0.62" ry="0.6" fill="#7a84a8" opacity="0.53"/>
<ellipse cx="385.11" cy="171.62" rx="0.39" ry="0.53" fill="#7a84a8" opacity="0.34"/>
<line x1="379.3" y1="185.4" x2="393.8" y2="185.4" stroke="#3a2a26" stroke-width="1.3"/>
<text x="0" y="0" font-size="11.5" font-weight="bold" text-anchor="start" fill="#231f20" transform="translate(441.9 10.8) scale(1 1.13)" stroke="#231f20" stroke-width="0.3">C</text>
<line x1="473.6" y1="27" x2="473.6" y2="159.7" stroke="#231f20" stroke-width="1.4"/>
<line x1="473" y1="159.1" x2="671.68" y2="159.1" stroke="#231f20" stroke-width="1.6"/>
<line x1="468.4" y1="159.1" x2="473.6" y2="159.1" stroke="#231f20" stroke-width="1.3"/>
<text x="466.4" y="162.7" font-size="10" font-weight="bold" text-anchor="end" fill="#231f20" stroke="#231f20" stroke-width="0.3">0</text>
<line x1="468.4" y1="132.8" x2="473.6" y2="132.8" stroke="#231f20" stroke-width="1.3"/>
<text x="466.4" y="136.4" font-size="10" font-weight="bold" text-anchor="end" fill="#231f20" stroke="#231f20" stroke-width="0.3">500</text>
<line x1="468.4" y1="106.5" x2="473.6" y2="106.5" stroke="#231f20" stroke-width="1.3"/>
<text x="466.4" y="110.1" font-size="10" font-weight="bold" text-anchor="end" fill="#231f20" stroke="#231f20" stroke-width="0.3">1000</text>
<line x1="468.4" y1="80.2" x2="473.6" y2="80.2" stroke="#231f20" stroke-width="1.3"/>
<text x="466.4" y="83.8" font-size="10" font-weight="bold" text-anchor="end" fill="#231f20" stroke="#231f20" stroke-width="0.3">1500</text>
<line x1="468.4" y1="53.9" x2="473.6" y2="53.9" stroke="#231f20" stroke-width="1.3"/>
<text x="466.4" y="57.5" font-size="10" font-weight="bold" text-anchor="end" fill="#231f20" stroke="#231f20" stroke-width="0.3">2000</text>
<line x1="468.4" y1="27.6" x2="473.6" y2="27.6" stroke="#231f20" stroke-width="1.3"/>
<text x="466.4" y="31.2" font-size="10" font-weight="bold" text-anchor="end" fill="#231f20" stroke="#231f20" stroke-width="0.3">2500</text>
<line x1="473.6" y1="159.1" x2="473.6" y2="163.6" stroke="#231f20" stroke-width="1.3"/>
<text x="473.6" y="173.8" font-size="10" font-weight="bold" text-anchor="middle" fill="#231f20" stroke="#231f20" stroke-width="0.3">0</text>
<line x1="522.92" y1="159.1" x2="522.92" y2="163.6" stroke="#231f20" stroke-width="1.3"/>
<text x="522.92" y="173.8" font-size="10" font-weight="bold" text-anchor="middle" fill="#231f20" stroke="#231f20" stroke-width="0.3">4</text>
<line x1="572.24" y1="159.1" x2="572.24" y2="163.6" stroke="#231f20" stroke-width="1.3"/>
<text x="572.24" y="173.8" font-size="10" font-weight="bold" text-anchor="middle" fill="#231f20" stroke="#231f20" stroke-width="0.3">8</text>
<line x1="621.56" y1="159.1" x2="621.56" y2="163.6" stroke="#231f20" stroke-width="1.3"/>
<text x="621.56" y="173.8" font-size="10" font-weight="bold" text-anchor="middle" fill="#231f20" stroke="#231f20" stroke-width="0.3">12</text>
<line x1="670.88" y1="159.1" x2="670.88" y2="163.6" stroke="#231f20" stroke-width="1.3"/>
<text x="670.88" y="173.8" font-size="10" font-weight="bold" text-anchor="middle" fill="#231f20" stroke="#231f20" stroke-width="0.3">16</text>
<text x="575.7" y="184.2" font-size="10" font-weight="bold" text-anchor="middle" fill="#231f20" stroke="#231f20" stroke-width="0.3">Time (day)</text>
<text x="0" y="0" font-size="10" font-weight="bold" text-anchor="middle" fill="#231f20" transform="translate(436.8 89.8) rotate(-90)" stroke="#231f20" stroke-width="0.3">Tumor volume (mm<tspan font-size="6.5" dy="-3.5">3</tspan><tspan dy="3.5">)</tspan></text>
<line x1="473.6" y1="155.94" x2="473.6" y2="158.05" stroke="#b0b2b8" stroke-width="1.2"/>
<line x1="471.4" y1="155.94" x2="475.8" y2="155.94" stroke="#b0b2b8" stroke-width="1.2"/>
<line x1="471.4" y1="158.05" x2="475.8" y2="158.05" stroke="#b0b2b8" stroke-width="1.2"/>
<line x1="498.26" y1="153.31" x2="498.26" y2="156.47" stroke="#b0b2b8" stroke-width="1.2"/>
<line x1="496.06" y1="153.31" x2="500.46" y2="153.31" stroke="#b0b2b8" stroke-width="1.2"/>
<line x1="496.06" y1="156.47" x2="500.46" y2="156.47" stroke="#b0b2b8" stroke-width="1.2"/>
<line x1="522.92" y1="149.11" x2="522.92" y2="154.37" stroke="#b0b2b8" stroke-width="1.2"/>
<line x1="520.72" y1="149.11" x2="525.12" y2="149.11" stroke="#b0b2b8" stroke-width="1.2"/>
<line x1="520.72" y1="154.37" x2="525.12" y2="154.37" stroke="#b0b2b8" stroke-width="1.2"/>
<line x1="547.58" y1="143.32" x2="547.58" y2="150.68" stroke="#b0b2b8" stroke-width="1.2"/>
<line x1="545.38" y1="143.32" x2="549.78" y2="143.32" stroke="#b0b2b8" stroke-width="1.2"/>
<line x1="545.38" y1="150.68" x2="549.78" y2="150.68" stroke="#b0b2b8" stroke-width="1.2"/>
<line x1="572.24" y1="141.74" x2="572.24" y2="148.05" stroke="#b0b2b8" stroke-width="1.2"/>
<line x1="570.04" y1="141.74" x2="574.44" y2="141.74" stroke="#b0b2b8" stroke-width="1.2"/>
<line x1="570.04" y1="148.05" x2="574.44" y2="148.05" stroke="#b0b2b8" stroke-width="1.2"/>
<line x1="596.9" y1="137.01" x2="596.9" y2="145.42" stroke="#b0b2b8" stroke-width="1.2"/>
<line x1="594.7" y1="137.01" x2="599.1" y2="137.01" stroke="#b0b2b8" stroke-width="1.2"/>
<line x1="594.7" y1="145.42" x2="599.1" y2="145.42" stroke="#b0b2b8" stroke-width="1.2"/>
<line x1="621.56" y1="133.96" x2="621.56" y2="143.43" stroke="#b0b2b8" stroke-width="1.2"/>
<line x1="619.36" y1="133.96" x2="623.76" y2="133.96" stroke="#b0b2b8" stroke-width="1.2"/>
<line x1="619.36" y1="143.43" x2="623.76" y2="143.43" stroke="#b0b2b8" stroke-width="1.2"/>
<line x1="646.22" y1="130.7" x2="646.22" y2="141.22" stroke="#b0b2b8" stroke-width="1.2"/>
<line x1="644.02" y1="130.7" x2="648.42" y2="130.7" stroke="#b0b2b8" stroke-width="1.2"/>
<line x1="644.02" y1="141.22" x2="648.42" y2="141.22" stroke="#b0b2b8" stroke-width="1.2"/>
<line x1="670.88" y1="127.28" x2="670.88" y2="140.95" stroke="#b0b2b8" stroke-width="1.2"/>
<line x1="668.68" y1="127.28" x2="673.08" y2="127.28" stroke="#b0b2b8" stroke-width="1.2"/>
<line x1="668.68" y1="140.95" x2="673.08" y2="140.95" stroke="#b0b2b8" stroke-width="1.2"/>
<polyline points="473.6,157 498.26,154.89 522.92,151.74 547.58,147 572.24,144.9 596.9,141.22 621.56,138.69 646.22,135.96 670.88,134.12" fill="none" stroke="#b0b2b8" stroke-width="1.4"/>
<circle cx="473.6" cy="157" r="1.4" fill="#b0b2b8"/>
<circle cx="498.26" cy="154.89" r="1.4" fill="#b0b2b8"/>
<circle cx="522.92" cy="151.74" r="1.4" fill="#b0b2b8"/>
<circle cx="547.58" cy="147" r="1.4" fill="#b0b2b8"/>
<circle cx="572.24" cy="144.9" r="1.4" fill="#b0b2b8"/>
<circle cx="596.9" cy="141.22" r="1.4" fill="#b0b2b8"/>
<circle cx="621.56" cy="138.69" r="1.4" fill="#b0b2b8"/>
<circle cx="646.22" cy="135.96" r="1.4" fill="#b0b2b8"/>
<circle cx="670.88" cy="134.12" r="1.4" fill="#b0b2b8"/>
<line x1="473.6" y1="156.47" x2="473.6" y2="158.57" stroke="#2d8c3c" stroke-width="1.2"/>
<line x1="471.4" y1="156.47" x2="475.8" y2="156.47" stroke="#2d8c3c" stroke-width="1.2"/>
<line x1="471.4" y1="158.57" x2="475.8" y2="158.57" stroke="#2d8c3c" stroke-width="1.2"/>
<line x1="498.26" y1="153.84" x2="498.26" y2="157" stroke="#2d8c3c" stroke-width="1.2"/>
<line x1="496.06" y1="153.84" x2="500.46" y2="153.84" stroke="#2d8c3c" stroke-width="1.2"/>
<line x1="496.06" y1="157" x2="500.46" y2="157" stroke="#2d8c3c" stroke-width="1.2"/>
<line x1="522.92" y1="150.16" x2="522.92" y2="154.37" stroke="#2d8c3c" stroke-width="1.2"/>
<line x1="520.72" y1="150.16" x2="525.12" y2="150.16" stroke="#2d8c3c" stroke-width="1.2"/>
<line x1="520.72" y1="154.37" x2="525.12" y2="154.37" stroke="#2d8c3c" stroke-width="1.2"/>
<line x1="547.58" y1="146.48" x2="547.58" y2="151.74" stroke="#2d8c3c" stroke-width="1.2"/>
<line x1="545.38" y1="146.48" x2="549.78" y2="146.48" stroke="#2d8c3c" stroke-width="1.2"/>
<line x1="545.38" y1="151.74" x2="549.78" y2="151.74" stroke="#2d8c3c" stroke-width="1.2"/>
<line x1="572.24" y1="141.74" x2="572.24" y2="148.05" stroke="#2d8c3c" stroke-width="1.2"/>
<line x1="570.04" y1="141.74" x2="574.44" y2="141.74" stroke="#2d8c3c" stroke-width="1.2"/>
<line x1="570.04" y1="148.05" x2="574.44" y2="148.05" stroke="#2d8c3c" stroke-width="1.2"/>
<line x1="596.9" y1="135.43" x2="596.9" y2="144.9" stroke="#2d8c3c" stroke-width="1.2"/>
<line x1="594.7" y1="135.43" x2="599.1" y2="135.43" stroke="#2d8c3c" stroke-width="1.2"/>
<line x1="594.7" y1="144.9" x2="599.1" y2="144.9" stroke="#2d8c3c" stroke-width="1.2"/>
<line x1="621.56" y1="131.22" x2="621.56" y2="141.74" stroke="#2d8c3c" stroke-width="1.2"/>
<line x1="619.36" y1="131.22" x2="623.76" y2="131.22" stroke="#2d8c3c" stroke-width="1.2"/>
<line x1="619.36" y1="141.74" x2="623.76" y2="141.74" stroke="#2d8c3c" stroke-width="1.2"/>
<line x1="646.22" y1="126.75" x2="646.22" y2="138.32" stroke="#2d8c3c" stroke-width="1.2"/>
<line x1="644.02" y1="126.75" x2="648.42" y2="126.75" stroke="#2d8c3c" stroke-width="1.2"/>
<line x1="644.02" y1="138.32" x2="648.42" y2="138.32" stroke="#2d8c3c" stroke-width="1.2"/>
<line x1="670.88" y1="122.28" x2="670.88" y2="140.16" stroke="#2d8c3c" stroke-width="1.2"/>
<line x1="668.68" y1="122.28" x2="673.08" y2="122.28" stroke="#2d8c3c" stroke-width="1.2"/>
<line x1="668.68" y1="140.16" x2="673.08" y2="140.16" stroke="#2d8c3c" stroke-width="1.2"/>
<polyline points="473.6,157.52 498.26,155.42 522.92,152.26 547.58,149.11 572.24,144.9 596.9,140.16 621.56,136.48 646.22,132.54 670.88,131.22" fill="none" stroke="#2d8c3c" stroke-width="1.4"/>
<circle cx="473.6" cy="157.52" r="1.4" fill="#2d8c3c"/>
<circle cx="498.26" cy="155.42" r="1.4" fill="#2d8c3c"/>
<circle cx="522.92" cy="152.26" r="1.4" fill="#2d8c3c"/>
<circle cx="547.58" cy="149.11" r="1.4" fill="#2d8c3c"/>
<circle cx="572.24" cy="144.9" r="1.4" fill="#2d8c3c"/>
<circle cx="596.9" cy="140.16" r="1.4" fill="#2d8c3c"/>
<circle cx="621.56" cy="136.48" r="1.4" fill="#2d8c3c"/>
<circle cx="646.22" cy="132.54" r="1.4" fill="#2d8c3c"/>
<circle cx="670.88" cy="131.22" r="1.4" fill="#2d8c3c"/>
<line x1="473.6" y1="155.94" x2="473.6" y2="158.05" stroke="#e1a0aa" stroke-width="1.2"/>
<line x1="471.4" y1="155.94" x2="475.8" y2="155.94" stroke="#e1a0aa" stroke-width="1.2"/>
<line x1="471.4" y1="158.05" x2="475.8" y2="158.05" stroke="#e1a0aa" stroke-width="1.2"/>
<line x1="498.26" y1="152.26" x2="498.26" y2="156.47" stroke="#e1a0aa" stroke-width="1.2"/>
<line x1="496.06" y1="152.26" x2="500.46" y2="152.26" stroke="#e1a0aa" stroke-width="1.2"/>
<line x1="496.06" y1="156.47" x2="500.46" y2="156.47" stroke="#e1a0aa" stroke-width="1.2"/>
<line x1="522.92" y1="147" x2="522.92" y2="153.31" stroke="#e1a0aa" stroke-width="1.2"/>
<line x1="520.72" y1="147" x2="525.12" y2="147" stroke="#e1a0aa" stroke-width="1.2"/>
<line x1="520.72" y1="153.31" x2="525.12" y2="153.31" stroke="#e1a0aa" stroke-width="1.2"/>
<line x1="547.58" y1="140.69" x2="547.58" y2="149.11" stroke="#e1a0aa" stroke-width="1.2"/>
<line x1="545.38" y1="140.69" x2="549.78" y2="140.69" stroke="#e1a0aa" stroke-width="1.2"/>
<line x1="545.38" y1="149.11" x2="549.78" y2="149.11" stroke="#e1a0aa" stroke-width="1.2"/>
<line x1="572.24" y1="135.96" x2="572.24" y2="146.48" stroke="#e1a0aa" stroke-width="1.2"/>
<line x1="570.04" y1="135.96" x2="574.44" y2="135.96" stroke="#e1a0aa" stroke-width="1.2"/>
<line x1="570.04" y1="146.48" x2="574.44" y2="146.48" stroke="#e1a0aa" stroke-width="1.2"/>
<line x1="596.9" y1="129.22" x2="596.9" y2="145" stroke="#e1a0aa" stroke-width="1.2"/>
<line x1="594.7" y1="129.22" x2="599.1" y2="129.22" stroke="#e1a0aa" stroke-width="1.2"/>
<line x1="594.7" y1="145" x2="599.1" y2="145" stroke="#e1a0aa" stroke-width="1.2"/>
<line x1="621.56" y1="114.92" x2="621.56" y2="130.7" stroke="#e1a0aa" stroke-width="1.2"/>
<line x1="619.36" y1="114.92" x2="623.76" y2="114.92" stroke="#e1a0aa" stroke-width="1.2"/>
<line x1="619.36" y1="130.7" x2="623.76" y2="130.7" stroke="#e1a0aa" stroke-width="1.2"/>
<line x1="646.22" y1="106.5" x2="646.22" y2="122.28" stroke="#e1a0aa" stroke-width="1.2"/>
<line x1="644.02" y1="106.5" x2="648.42" y2="106.5" stroke="#e1a0aa" stroke-width="1.2"/>
<line x1="644.02" y1="122.28" x2="648.42" y2="122.28" stroke="#e1a0aa" stroke-width="1.2"/>
<line x1="670.88" y1="98.08" x2="670.88" y2="115.97" stroke="#e1a0aa" stroke-width="1.2"/>
<line x1="668.68" y1="98.08" x2="673.08" y2="98.08" stroke="#e1a0aa" stroke-width="1.2"/>
<line x1="668.68" y1="115.97" x2="673.08" y2="115.97" stroke="#e1a0aa" stroke-width="1.2"/>
<polyline points="473.6,157 498.26,154.37 522.92,150.16 547.58,144.9 572.24,141.22 596.9,137.11 621.56,122.81 646.22,114.39 670.88,107.03" fill="none" stroke="#e1a0aa" stroke-width="1.4"/>
<circle cx="473.6" cy="157" r="1.4" fill="#e1a0aa"/>
<circle cx="498.26" cy="154.37" r="1.4" fill="#e1a0aa"/>
<circle cx="522.92" cy="150.16" r="1.4" fill="#e1a0aa"/>
<circle cx="547.58" cy="144.9" r="1.4" fill="#e1a0aa"/>
<circle cx="572.24" cy="141.22" r="1.4" fill="#e1a0aa"/>
<circle cx="596.9" cy="137.11" r="1.4" fill="#e1a0aa"/>
<circle cx="621.56" cy="122.81" r="1.4" fill="#e1a0aa"/>
<circle cx="646.22" cy="114.39" r="1.4" fill="#e1a0aa"/>
<circle cx="670.88" cy="107.03" r="1.4" fill="#e1a0aa"/>
<line x1="473.6" y1="155.42" x2="473.6" y2="158.05" stroke="#7d82cd" stroke-width="1.2"/>
<line x1="471.4" y1="155.42" x2="475.8" y2="155.42" stroke="#7d82cd" stroke-width="1.2"/>
<line x1="471.4" y1="158.05" x2="475.8" y2="158.05" stroke="#7d82cd" stroke-width="1.2"/>
<line x1="498.26" y1="151.74" x2="498.26" y2="155.94" stroke="#7d82cd" stroke-width="1.2"/>
<line x1="496.06" y1="151.74" x2="500.46" y2="151.74" stroke="#7d82cd" stroke-width="1.2"/>
<line x1="496.06" y1="155.94" x2="500.46" y2="155.94" stroke="#7d82cd" stroke-width="1.2"/>
<line x1="522.92" y1="145.42" x2="522.92" y2="152.79" stroke="#7d82cd" stroke-width="1.2"/>
<line x1="520.72" y1="145.42" x2="525.12" y2="145.42" stroke="#7d82cd" stroke-width="1.2"/>
<line x1="520.72" y1="152.79" x2="525.12" y2="152.79" stroke="#7d82cd" stroke-width="1.2"/>
<line x1="547.58" y1="138.59" x2="547.58" y2="148.05" stroke="#7d82cd" stroke-width="1.2"/>
<line x1="545.38" y1="138.59" x2="549.78" y2="138.59" stroke="#7d82cd" stroke-width="1.2"/>
<line x1="545.38" y1="148.05" x2="549.78" y2="148.05" stroke="#7d82cd" stroke-width="1.2"/>
<line x1="572.24" y1="136.48" x2="572.24" y2="147" stroke="#7d82cd" stroke-width="1.2"/>
<line x1="570.04" y1="136.48" x2="574.44" y2="136.48" stroke="#7d82cd" stroke-width="1.2"/>
<line x1="570.04" y1="147" x2="574.44" y2="147" stroke="#7d82cd" stroke-width="1.2"/>
<line x1="596.9" y1="127.8" x2="596.9" y2="141.48" stroke="#7d82cd" stroke-width="1.2"/>
<line x1="594.7" y1="127.8" x2="599.1" y2="127.8" stroke="#7d82cd" stroke-width="1.2"/>
<line x1="594.7" y1="141.48" x2="599.1" y2="141.48" stroke="#7d82cd" stroke-width="1.2"/>
<line x1="621.56" y1="115.44" x2="621.56" y2="130.17" stroke="#7d82cd" stroke-width="1.2"/>
<line x1="619.36" y1="115.44" x2="623.76" y2="115.44" stroke="#7d82cd" stroke-width="1.2"/>
<line x1="619.36" y1="130.17" x2="623.76" y2="130.17" stroke="#7d82cd" stroke-width="1.2"/>
<line x1="646.22" y1="108.6" x2="646.22" y2="125.44" stroke="#7d82cd" stroke-width="1.2"/>
<line x1="644.02" y1="108.6" x2="648.42" y2="108.6" stroke="#7d82cd" stroke-width="1.2"/>
<line x1="644.02" y1="125.44" x2="648.42" y2="125.44" stroke="#7d82cd" stroke-width="1.2"/>
<line x1="670.88" y1="95.45" x2="670.88" y2="118.6" stroke="#7d82cd" stroke-width="1.2"/>
<line x1="668.68" y1="95.45" x2="673.08" y2="95.45" stroke="#7d82cd" stroke-width="1.2"/>
<line x1="668.68" y1="118.6" x2="673.08" y2="118.6" stroke="#7d82cd" stroke-width="1.2"/>
<polyline points="473.6,156.73 498.26,153.84 522.92,149.11 547.58,143.32 572.24,141.74 596.9,134.64 621.56,122.81 646.22,117.02 670.88,107.03" fill="none" stroke="#7d82cd" stroke-width="1.4"/>
<circle cx="473.6" cy="156.73" r="1.4" fill="#7d82cd"/>
<circle cx="498.26" cy="153.84" r="1.4" fill="#7d82cd"/>
<circle cx="522.92" cy="149.11" r="1.4" fill="#7d82cd"/>
<circle cx="547.58" cy="143.32" r="1.4" fill="#7d82cd"/>
<circle cx="572.24" cy="141.74" r="1.4" fill="#7d82cd"/>
<circle cx="596.9" cy="134.64" r="1.4" fill="#7d82cd"/>
<circle cx="621.56" cy="122.81" r="1.4" fill="#7d82cd"/>
<circle cx="646.22" cy="117.02" r="1.4" fill="#7d82cd"/>
<circle cx="670.88" cy="107.03" r="1.4" fill="#7d82cd"/>
<line x1="473.6" y1="153.84" x2="473.6" y2="158.05" stroke="#46a0a5" stroke-width="1.2"/>
<line x1="471.4" y1="153.84" x2="475.8" y2="153.84" stroke="#46a0a5" stroke-width="1.2"/>
<line x1="471.4" y1="158.05" x2="475.8" y2="158.05" stroke="#46a0a5" stroke-width="1.2"/>
<line x1="498.26" y1="150.68" x2="498.26" y2="155.94" stroke="#46a0a5" stroke-width="1.2"/>
<line x1="496.06" y1="150.68" x2="500.46" y2="150.68" stroke="#46a0a5" stroke-width="1.2"/>
<line x1="496.06" y1="155.94" x2="500.46" y2="155.94" stroke="#46a0a5" stroke-width="1.2"/>
<line x1="522.92" y1="142.27" x2="522.92" y2="152.79" stroke="#46a0a5" stroke-width="1.2"/>
<line x1="520.72" y1="142.27" x2="525.12" y2="142.27" stroke="#46a0a5" stroke-width="1.2"/>
<line x1="520.72" y1="152.79" x2="525.12" y2="152.79" stroke="#46a0a5" stroke-width="1.2"/>
<line x1="547.58" y1="129.64" x2="547.58" y2="147.53" stroke="#46a0a5" stroke-width="1.2"/>
<line x1="545.38" y1="129.64" x2="549.78" y2="129.64" stroke="#46a0a5" stroke-width="1.2"/>
<line x1="545.38" y1="147.53" x2="549.78" y2="147.53" stroke="#46a0a5" stroke-width="1.2"/>
<line x1="572.24" y1="120.7" x2="572.24" y2="140.69" stroke="#46a0a5" stroke-width="1.2"/>
<line x1="570.04" y1="120.7" x2="574.44" y2="120.7" stroke="#46a0a5" stroke-width="1.2"/>
<line x1="570.04" y1="140.69" x2="574.44" y2="140.69" stroke="#46a0a5" stroke-width="1.2"/>
<line x1="596.9" y1="108.08" x2="596.9" y2="134.38" stroke="#46a0a5" stroke-width="1.2"/>
<line x1="594.7" y1="108.08" x2="599.1" y2="108.08" stroke="#46a0a5" stroke-width="1.2"/>
<line x1="594.7" y1="134.38" x2="599.1" y2="134.38" stroke="#46a0a5" stroke-width="1.2"/>
<line x1="621.56" y1="93.56" x2="621.56" y2="124.07" stroke="#46a0a5" stroke-width="1.2"/>
<line x1="619.36" y1="93.56" x2="623.76" y2="93.56" stroke="#46a0a5" stroke-width="1.2"/>
<line x1="619.36" y1="124.07" x2="623.76" y2="124.07" stroke="#46a0a5" stroke-width="1.2"/>
<line x1="646.22" y1="62.74" x2="646.22" y2="101.66" stroke="#46a0a5" stroke-width="1.2"/>
<line x1="644.02" y1="62.74" x2="648.42" y2="62.74" stroke="#46a0a5" stroke-width="1.2"/>
<line x1="644.02" y1="101.66" x2="648.42" y2="101.66" stroke="#46a0a5" stroke-width="1.2"/>
<line x1="670.88" y1="43.06" x2="670.88" y2="89.35" stroke="#46a0a5" stroke-width="1.2"/>
<line x1="668.68" y1="43.06" x2="673.08" y2="43.06" stroke="#46a0a5" stroke-width="1.2"/>
<line x1="668.68" y1="89.35" x2="673.08" y2="89.35" stroke="#46a0a5" stroke-width="1.2"/>
<polyline points="473.6,155.94 498.26,153.31 522.92,147.53 547.58,138.59 572.24,130.7 596.9,121.23 621.56,108.81 646.22,82.2 670.88,66.21" fill="none" stroke="#46a0a5" stroke-width="1.4"/>
<circle cx="473.6" cy="155.94" r="1.4" fill="#46a0a5"/>
<circle cx="498.26" cy="153.31" r="1.4" fill="#46a0a5"/>
<circle cx="522.92" cy="147.53" r="1.4" fill="#46a0a5"/>
<circle cx="547.58" cy="138.59" r="1.4" fill="#46a0a5"/>
<circle cx="572.24" cy="130.7" r="1.4" fill="#46a0a5"/>
<circle cx="596.9" cy="121.23" r="1.4" fill="#46a0a5"/>
<circle cx="621.56" cy="108.81" r="1.4" fill="#46a0a5"/>
<circle cx="646.22" cy="82.2" r="1.4" fill="#46a0a5"/>
<circle cx="670.88" cy="66.21" r="1.4" fill="#46a0a5"/>
<line x1="473.6" y1="154.89" x2="473.6" y2="158.05" stroke="#1e1e1e" stroke-width="1.2"/>
<line x1="471.4" y1="154.89" x2="475.8" y2="154.89" stroke="#1e1e1e" stroke-width="1.2"/>
<line x1="471.4" y1="158.05" x2="475.8" y2="158.05" stroke="#1e1e1e" stroke-width="1.2"/>
<line x1="498.26" y1="149.11" x2="498.26" y2="155.42" stroke="#1e1e1e" stroke-width="1.2"/>
<line x1="496.06" y1="149.11" x2="500.46" y2="149.11" stroke="#1e1e1e" stroke-width="1.2"/>
<line x1="496.06" y1="155.42" x2="500.46" y2="155.42" stroke="#1e1e1e" stroke-width="1.2"/>
<line x1="522.92" y1="137.01" x2="522.92" y2="152.79" stroke="#1e1e1e" stroke-width="1.2"/>
<line x1="520.72" y1="137.01" x2="525.12" y2="137.01" stroke="#1e1e1e" stroke-width="1.2"/>
<line x1="520.72" y1="152.79" x2="525.12" y2="152.79" stroke="#1e1e1e" stroke-width="1.2"/>
<line x1="547.58" y1="131.22" x2="547.58" y2="150.16" stroke="#1e1e1e" stroke-width="1.2"/>
<line x1="545.38" y1="131.22" x2="549.78" y2="131.22" stroke="#1e1e1e" stroke-width="1.2"/>
<line x1="545.38" y1="150.16" x2="549.78" y2="150.16" stroke="#1e1e1e" stroke-width="1.2"/>
<line x1="572.24" y1="126.49" x2="572.24" y2="144.37" stroke="#1e1e1e" stroke-width="1.2"/>
<line x1="570.04" y1="126.49" x2="574.44" y2="126.49" stroke="#1e1e1e" stroke-width="1.2"/>
<line x1="570.04" y1="144.37" x2="574.44" y2="144.37" stroke="#1e1e1e" stroke-width="1.2"/>
<line x1="596.9" y1="103.13" x2="596.9" y2="133.64" stroke="#1e1e1e" stroke-width="1.2"/>
<line x1="594.7" y1="103.13" x2="599.1" y2="103.13" stroke="#1e1e1e" stroke-width="1.2"/>
<line x1="594.7" y1="133.64" x2="599.1" y2="133.64" stroke="#1e1e1e" stroke-width="1.2"/>
<line x1="621.56" y1="96.82" x2="621.56" y2="115.76" stroke="#1e1e1e" stroke-width="1.2"/>
<line x1="619.36" y1="96.82" x2="623.76" y2="96.82" stroke="#1e1e1e" stroke-width="1.2"/>
<line x1="619.36" y1="115.76" x2="623.76" y2="115.76" stroke="#1e1e1e" stroke-width="1.2"/>
<line x1="646.22" y1="67.79" x2="646.22" y2="81.46" stroke="#1e1e1e" stroke-width="1.2"/>
<line x1="644.02" y1="67.79" x2="648.42" y2="67.79" stroke="#1e1e1e" stroke-width="1.2"/>
<line x1="644.02" y1="81.46" x2="648.42" y2="81.46" stroke="#1e1e1e" stroke-width="1.2"/>
<line x1="670.88" y1="52.64" x2="670.88" y2="74.73" stroke="#1e1e1e" stroke-width="1.2"/>
<line x1="668.68" y1="52.64" x2="673.08" y2="52.64" stroke="#1e1e1e" stroke-width="1.2"/>
<line x1="668.68" y1="74.73" x2="673.08" y2="74.73" stroke="#1e1e1e" stroke-width="1.2"/>
<polyline points="473.6,156.47 498.26,152.26 522.92,144.9 547.58,140.69 572.24,135.43 596.9,118.39 621.56,106.29 646.22,74.62 670.88,63.68" fill="none" stroke="#1e1e1e" stroke-width="1.4"/>
<circle cx="473.6" cy="156.47" r="1.4" fill="#1e1e1e"/>
<circle cx="498.26" cy="152.26" r="1.4" fill="#1e1e1e"/>
<circle cx="522.92" cy="144.9" r="1.4" fill="#1e1e1e"/>
<circle cx="547.58" cy="140.69" r="1.4" fill="#1e1e1e"/>
<circle cx="572.24" cy="135.43" r="1.4" fill="#1e1e1e"/>
<circle cx="596.9" cy="118.39" r="1.4" fill="#1e1e1e"/>
<circle cx="621.56" cy="106.29" r="1.4" fill="#1e1e1e"/>
<circle cx="646.22" cy="74.62" r="1.4" fill="#1e1e1e"/>
<circle cx="670.88" cy="63.68" r="1.4" fill="#1e1e1e"/>
<line x1="481.4" y1="34" x2="495.8" y2="34" stroke="#1e1e1e" stroke-width="1.4"/>
<circle cx="488.6" cy="34" r="1.7" fill="#1e1e1e"/>
<text x="0" y="0" font-size="9.6" font-weight="bold" text-anchor="start" fill="#231f20" transform="translate(503.7 37.6) scale(0.93 1.2)" stroke="#231f20" stroke-width="0.3">G1</text>
<line x1="481.4" y1="51.2" x2="495.8" y2="51.2" stroke="#46a0a5" stroke-width="1.4"/>
<circle cx="488.6" cy="51.2" r="1.7" fill="#46a0a5"/>
<text x="0" y="0" font-size="9.6" font-weight="bold" text-anchor="start" fill="#231f20" transform="translate(503.7 54.8) scale(0.93 1.2)" stroke="#231f20" stroke-width="0.3">G2</text>
<line x1="481.4" y1="63.4" x2="495.8" y2="63.4" stroke="#e1a0aa" stroke-width="1.4"/>
<circle cx="488.6" cy="63.4" r="1.7" fill="#e1a0aa"/>
<text x="0" y="0" font-size="9.6" font-weight="bold" text-anchor="start" fill="#231f20" transform="translate(503.7 67) scale(0.93 1.2)" stroke="#231f20" stroke-width="0.3">G3</text>
<line x1="481.4" y1="80.1" x2="495.8" y2="80.1" stroke="#7d82cd" stroke-width="1.4"/>
<circle cx="488.6" cy="80.1" r="1.7" fill="#7d82cd"/>
<text x="0" y="0" font-size="9.6" font-weight="bold" text-anchor="start" fill="#231f20" transform="translate(503.7 83.7) scale(0.93 1.2)" stroke="#231f20" stroke-width="0.3">G4</text>
<line x1="481.4" y1="96.2" x2="495.8" y2="96.2" stroke="#b0b2b8" stroke-width="1.4"/>
<circle cx="488.6" cy="96.2" r="1.7" fill="#b0b2b8"/>
<text x="0" y="0" font-size="9.6" font-weight="bold" text-anchor="start" fill="#231f20" transform="translate(503.7 99.8) scale(0.93 1.2)" stroke="#231f20" stroke-width="0.3">G5</text>
<line x1="481.4" y1="110.7" x2="495.8" y2="110.7" stroke="#2d8c3c" stroke-width="1.4"/>
<circle cx="488.6" cy="110.7" r="1.7" fill="#2d8c3c"/>
<text x="0" y="0" font-size="9.6" font-weight="bold" text-anchor="start" fill="#231f20" transform="translate(503.7 114.3) scale(0.93 1.2)" stroke="#231f20" stroke-width="0.3">G6</text>
<path d="M522.9 30.9 V52.4 M522.9 41.4 H561.5 V97.1 M524.7 62 H548.3 V97.1 M522 78.7 H530 V97.1 M522 97.1 H561.5 M526.4 97.1 V111.4 H521.7" stroke="#231f20" stroke-width="1.2" fill="none"/>
<text x="0" y="0" font-size="7.5" font-weight="normal" text-anchor="start" fill="#231f20" transform="translate(569.2 77.8) rotate(-90)" textLength="31.5" lengthAdjust="spacingAndGlyphs" stroke="#231f20" stroke-width="0.28"><tspan font-style="italic">p</tspan>&lt;0.0001</text>
<text x="0" y="0" font-size="7.5" font-weight="normal" text-anchor="start" fill="#231f20" transform="translate(557 86.9) rotate(-90)" textLength="32.7" lengthAdjust="spacingAndGlyphs" stroke="#231f20" stroke-width="0.28"><tspan font-style="italic">p</tspan>=0.0345</text>
<text x="0" y="0" font-size="7.5" font-weight="normal" text-anchor="start" fill="#231f20" transform="translate(538.2 95.7) rotate(-90)" textLength="31.9" lengthAdjust="spacingAndGlyphs" stroke="#231f20" stroke-width="0.28"><tspan font-style="italic">p</tspan>=0.0349</text>
<text x="530.5" y="109.3" font-size="7.5" font-weight="normal" text-anchor="start" fill="#231f20" textLength="31.5" lengthAdjust="spacingAndGlyphs" stroke="#231f20" stroke-width="0.28"><tspan font-style="italic">p</tspan>=0.9993</text>
<text x="0" y="0" font-size="11.5" font-weight="bold" text-anchor="start" fill="#231f20" transform="translate(2.5 209.8) scale(1 1.13)" stroke="#231f20" stroke-width="0.3">D</text>
<line x1="68" y1="210.8" x2="68" y2="361.5" stroke="#231f20" stroke-width="1.4"/>
<line x1="67.4" y1="311.2" x2="218.9" y2="311.2" stroke="#231f20" stroke-width="1.5"/>
<line x1="62.2" y1="211.6" x2="68" y2="211.6" stroke="#231f20" stroke-width="1.3"/>
<text x="0" y="0" font-size="9.5" font-weight="bold" text-anchor="end" fill="#231f20" transform="translate(57.8 215.3) scale(1 1.15)" stroke="#231f20" stroke-width="0.3">100</text>
<line x1="62.2" y1="236.5" x2="68" y2="236.5" stroke="#231f20" stroke-width="1.3"/>
<text x="0" y="0" font-size="9.5" font-weight="bold" text-anchor="end" fill="#231f20" transform="translate(57.8 240.2) scale(1 1.15)" stroke="#231f20" stroke-width="0.3">75</text>
<line x1="62.2" y1="261.4" x2="68" y2="261.4" stroke="#231f20" stroke-width="1.3"/>
<text x="0" y="0" font-size="9.5" font-weight="bold" text-anchor="end" fill="#231f20" transform="translate(57.8 265.1) scale(1 1.15)" stroke="#231f20" stroke-width="0.3">50</text>
<line x1="62.2" y1="286.3" x2="68" y2="286.3" stroke="#231f20" stroke-width="1.3"/>
<text x="0" y="0" font-size="9.5" font-weight="bold" text-anchor="end" fill="#231f20" transform="translate(57.8 290) scale(1 1.15)" stroke="#231f20" stroke-width="0.3">25</text>
<line x1="62.2" y1="311.2" x2="68" y2="311.2" stroke="#231f20" stroke-width="1.3"/>
<text x="0" y="0" font-size="9.5" font-weight="bold" text-anchor="end" fill="#231f20" transform="translate(57.8 314.9) scale(1 1.15)" stroke="#231f20" stroke-width="0.3">0</text>
<line x1="62.2" y1="336.1" x2="68" y2="336.1" stroke="#231f20" stroke-width="1.3"/>
<text x="0" y="0" font-size="9.5" font-weight="bold" text-anchor="end" fill="#231f20" transform="translate(57.8 339.8) scale(1 1.15)" stroke="#231f20" stroke-width="0.3">-25</text>
<line x1="62.2" y1="361" x2="68" y2="361" stroke="#231f20" stroke-width="1.3"/>
<text x="0" y="0" font-size="9.5" font-weight="bold" text-anchor="end" fill="#231f20" transform="translate(57.8 364.7) scale(1 1.15)" stroke="#231f20" stroke-width="0.3">-50</text>
<line x1="76.4" y1="311" x2="91.8" y2="311" stroke="#1e1e1e" stroke-width="1.4"/>
<line x1="84.1" y1="299.6" x2="84.1" y2="322.4" stroke="#1e1e1e" stroke-width="1.3"/>
<line x1="80.93" y1="299.6" x2="87.27" y2="299.6" stroke="#1e1e1e" stroke-width="1.3"/>
<line x1="80.93" y1="322.4" x2="87.27" y2="322.4" stroke="#1e1e1e" stroke-width="1.3"/>
<circle cx="78.3" cy="298" r="2.95" fill="#1e1e1e"/>
<circle cx="89.3" cy="300.7" r="2.95" fill="#1e1e1e"/>
<circle cx="84.1" cy="311.5" r="2.95" fill="#1e1e1e"/>
<circle cx="78.3" cy="323.4" r="2.95" fill="#1e1e1e"/>
<circle cx="89.3" cy="322" r="2.95" fill="#1e1e1e"/>
<line x1="100" y1="309.8" x2="115.4" y2="309.8" stroke="#46a0a5" stroke-width="1.4"/>
<line x1="107.7" y1="283.5" x2="107.7" y2="333.4" stroke="#46a0a5" stroke-width="1.3"/>
<line x1="104.53" y1="283.5" x2="110.87" y2="283.5" stroke="#46a0a5" stroke-width="1.3"/>
<line x1="104.53" y1="333.4" x2="110.87" y2="333.4" stroke="#46a0a5" stroke-width="1.3"/>
<circle cx="107.7" cy="282.6" r="2.95" fill="#46a0a5"/>
<circle cx="107.7" cy="287.4" r="2.95" fill="#46a0a5"/>
<circle cx="107.7" cy="306.6" r="2.95" fill="#46a0a5"/>
<circle cx="107.7" cy="330.8" r="2.95" fill="#46a0a5"/>
<circle cx="107.7" cy="336.4" r="2.95" fill="#46a0a5"/>
<path d="M124.2 311.2 V266.2 H138.6 V311.2" fill="none" stroke="#e1a0aa" stroke-width="1.4"/>
<line x1="131.4" y1="256.4" x2="131.4" y2="274.5" stroke="#e1a0aa" stroke-width="1.3"/>
<line x1="128.23" y1="256.4" x2="134.57" y2="256.4" stroke="#e1a0aa" stroke-width="1.3"/>
<line x1="128.23" y1="274.5" x2="134.57" y2="274.5" stroke="#e1a0aa" stroke-width="1.3"/>
<circle cx="130.9" cy="250.1" r="2.95" fill="#e1a0aa"/>
<circle cx="125.6" cy="267.2" r="2.95" fill="#e1a0aa"/>
<circle cx="136.7" cy="269.7" r="2.95" fill="#e1a0aa"/>
<circle cx="125.6" cy="273.5" r="2.95" fill="#e1a0aa"/>
<circle cx="130.9" cy="267.2" r="2.95" fill="#e1a0aa"/>
<text x="0" y="0" font-size="9.5" font-weight="bold" text-anchor="middle" fill="#231f20" transform="translate(131.4 323.6) scale(1 1.15)" stroke="#231f20" stroke-width="0.3">G3</text>
<path d="M147.9 311.2 V266.8 H162.3 V311.2" fill="none" stroke="#7d82cd" stroke-width="1.4"/>
<line x1="155.1" y1="252.2" x2="155.1" y2="278.7" stroke="#7d82cd" stroke-width="1.3"/>
<line x1="151.93" y1="252.2" x2="158.27" y2="252.2" stroke="#7d82cd" stroke-width="1.3"/>
<line x1="151.93" y1="278.7" x2="158.27" y2="278.7" stroke="#7d82cd" stroke-width="1.3"/>
<circle cx="154.9" cy="253.6" r="2.95" fill="#7d82cd"/>
<circle cx="160.5" cy="256.8" r="2.95" fill="#7d82cd"/>
<circle cx="148.6" cy="263" r="2.95" fill="#7d82cd"/>
<circle cx="160.5" cy="266.8" r="2.95" fill="#7d82cd"/>
<circle cx="154.9" cy="287" r="2.95" fill="#7d82cd"/>
<text x="0" y="0" font-size="9.5" font-weight="bold" text-anchor="middle" fill="#231f20" transform="translate(155.1 323.6) scale(1 1.15)" stroke="#231f20" stroke-width="0.3">G4</text>
<path d="M171.3 311.2 V238.4 H185.7 V311.2" fill="none" stroke="#b0b2b8" stroke-width="1.4"/>
<line x1="178.5" y1="228.2" x2="178.5" y2="243.8" stroke="#b0b2b8" stroke-width="1.3"/>
<line x1="175.33" y1="228.2" x2="181.67" y2="228.2" stroke="#b0b2b8" stroke-width="1.3"/>
<line x1="175.33" y1="243.8" x2="181.67" y2="243.8" stroke="#b0b2b8" stroke-width="1.3"/>
<circle cx="178.9" cy="227.1" r="2.95" fill="#b0b2b8"/>
<circle cx="178.9" cy="230.7" r="2.95" fill="#b0b2b8"/>
<circle cx="178.9" cy="234.9" r="2.95" fill="#b0b2b8"/>
<circle cx="172.2" cy="243.8" r="2.95" fill="#b0b2b8"/>
<circle cx="184.1" cy="243.2" r="2.95" fill="#b0b2b8"/>
<text x="0" y="0" font-size="9.5" font-weight="bold" text-anchor="middle" fill="#231f20" transform="translate(178.5 323.6) scale(1 1.15)" stroke="#231f20" stroke-width="0.3">G5</text>
<path d="M195.1 311.2 V241.1 H209.5 V311.2" fill="none" stroke="#2d8c3c" stroke-width="1.4"/>
<line x1="202.3" y1="231.3" x2="202.3" y2="249.5" stroke="#2d8c3c" stroke-width="1.3"/>
<line x1="199.13" y1="231.3" x2="205.47" y2="231.3" stroke="#2d8c3c" stroke-width="1.3"/>
<line x1="199.13" y1="249.5" x2="205.47" y2="249.5" stroke="#2d8c3c" stroke-width="1.3"/>
<circle cx="195.6" cy="230.7" r="2.95" fill="#2d8c3c"/>
<circle cx="208.1" cy="231.7" r="2.95" fill="#2d8c3c"/>
<circle cx="201.8" cy="239.7" r="2.95" fill="#2d8c3c"/>
<circle cx="201.8" cy="246.3" r="2.95" fill="#2d8c3c"/>
<circle cx="201.8" cy="252.6" r="2.95" fill="#2d8c3c"/>
<text x="0" y="0" font-size="9.5" font-weight="bold" text-anchor="middle" fill="#231f20" transform="translate(202.3 323.6) scale(1 1.15)" stroke="#231f20" stroke-width="0.3">G6</text>
<text x="0" y="0" font-size="9.5" font-weight="bold" text-anchor="middle" fill="#231f20" transform="translate(83 358.3) scale(1 1.15)" stroke="#231f20" stroke-width="0.3">G1</text>
<text x="0" y="0" font-size="9.5" font-weight="bold" text-anchor="middle" fill="#231f20" transform="translate(106.8 358.3) scale(1 1.15)" stroke="#231f20" stroke-width="0.3">G2</text>
<path d="M82.3 270.9 H106 M94.6 270.9 V200.5 H176.8 V222.3 M153.4 245.9 V215.7 H176.8 M176.8 206.7 H201.8 V210.9" stroke="#231f20" stroke-width="1.3" fill="none"/>
<text x="110.1" y="196.9" font-size="7.5" font-weight="bold" text-anchor="start" fill="#231f20" textLength="31.6" lengthAdjust="spacingAndGlyphs" stroke="#231f20" stroke-width="0.3"><tspan font-style="italic">p</tspan>&lt;0.0001</text>
<text x="140.3" y="211.9" font-size="7.5" font-weight="bold" text-anchor="start" fill="#231f20" textLength="31.9" lengthAdjust="spacingAndGlyphs" stroke="#231f20" stroke-width="0.3"><tspan font-style="italic">p</tspan>=0.0349</text>
<text x="181" y="203.6" font-size="7.5" font-weight="bold" text-anchor="start" fill="#231f20" textLength="31.7" lengthAdjust="spacingAndGlyphs" stroke="#231f20" stroke-width="0.3"><tspan font-style="italic">p</tspan>=0.9993</text>
<text x="0" y="0" font-size="10.25" font-weight="bold" text-anchor="middle" fill="#231f20" transform="translate(33.4 287.3) rotate(-90)" stroke="#231f20" stroke-width="0.3">Tumor inhibition efficiency (%)</text>
<text x="0" y="0" font-size="11.5" font-weight="bold" text-anchor="start" fill="#231f20" transform="translate(239.8 209.8) scale(1 1.13)" stroke="#231f20" stroke-width="0.3">E</text>
<line x1="282.8" y1="200.3" x2="282.8" y2="361.9" stroke="#231f20" stroke-width="1.4"/>
<line x1="282.2" y1="361.3" x2="443.8" y2="361.3" stroke="#231f20" stroke-width="1.5"/>
<line x1="277.2" y1="200.9" x2="282.8" y2="200.9" stroke="#231f20" stroke-width="1.3"/>
<text x="0" y="0" font-size="9.5" font-weight="bold" text-anchor="end" fill="#231f20" transform="translate(274.2 204.6) scale(1 1.15)" stroke="#231f20" stroke-width="0.3">2.0</text>
<line x1="277.2" y1="241" x2="282.8" y2="241" stroke="#231f20" stroke-width="1.3"/>
<text x="0" y="0" font-size="9.5" font-weight="bold" text-anchor="end" fill="#231f20" transform="translate(274.2 244.7) scale(1 1.15)" stroke="#231f20" stroke-width="0.3">1.5</text>
<line x1="277.2" y1="281.1" x2="282.8" y2="281.1" stroke="#231f20" stroke-width="1.3"/>
<text x="0" y="0" font-size="9.5" font-weight="bold" text-anchor="end" fill="#231f20" transform="translate(274.2 284.8) scale(1 1.15)" stroke="#231f20" stroke-width="0.3">1.0</text>
<line x1="277.2" y1="321.2" x2="282.8" y2="321.2" stroke="#231f20" stroke-width="1.3"/>
<text x="0" y="0" font-size="9.5" font-weight="bold" text-anchor="end" fill="#231f20" transform="translate(274.2 324.9) scale(1 1.15)" stroke="#231f20" stroke-width="0.3">0.5</text>
<line x1="277.2" y1="361.3" x2="282.8" y2="361.3" stroke="#231f20" stroke-width="1.3"/>
<text x="0" y="0" font-size="9.5" font-weight="bold" text-anchor="end" fill="#231f20" transform="translate(274.2 365) scale(1 1.15)" stroke="#231f20" stroke-width="0.3">0.0</text>
<path d="M292.25 361.3 V246.4 H307.75 V361.3" fill="none" stroke="#1e1e1e" stroke-width="1.4"/>
<line x1="300" y1="221.9" x2="300" y2="269.7" stroke="#1e1e1e" stroke-width="1.3"/>
<line x1="296.59" y1="221.9" x2="303.41" y2="221.9" stroke="#1e1e1e" stroke-width="1.3"/>
<line x1="296.59" y1="269.7" x2="303.41" y2="269.7" stroke="#1e1e1e" stroke-width="1.3"/>
<circle cx="294.2" cy="218.9" r="3.1" fill="#1e1e1e"/>
<circle cx="305.9" cy="221.9" r="3.1" fill="#1e1e1e"/>
<circle cx="300" cy="252.2" r="3.1" fill="#1e1e1e"/>
<circle cx="300" cy="261" r="3.1" fill="#1e1e1e"/>
<circle cx="300" cy="272.3" r="3.1" fill="#1e1e1e"/>
<text x="0" y="0" font-size="9.5" font-weight="bold" text-anchor="middle" fill="#231f20" transform="translate(298.2 374.6) scale(1 1.15)" stroke="#231f20" stroke-width="0.3">G1</text>
<path d="M317.25 361.3 V263.2 H332.75 V361.3" fill="none" stroke="#46a0a5" stroke-width="1.4"/>
<line x1="325" y1="245.7" x2="325" y2="278.5" stroke="#46a0a5" stroke-width="1.3"/>
<line x1="321.59" y1="245.7" x2="328.41" y2="245.7" stroke="#46a0a5" stroke-width="1.3"/>
<line x1="321.59" y1="278.5" x2="328.41" y2="278.5" stroke="#46a0a5" stroke-width="1.3"/>
<circle cx="324.9" cy="239.4" r="3.1" fill="#46a0a5"/>
<circle cx="324.9" cy="252.7" r="3.1" fill="#46a0a5"/>
<circle cx="318.7" cy="266.7" r="3.1" fill="#46a0a5"/>
<circle cx="331" cy="268.5" r="3.1" fill="#46a0a5"/>
<circle cx="324.9" cy="282.9" r="3.1" fill="#46a0a5"/>
<text x="0" y="0" font-size="9.5" font-weight="bold" text-anchor="middle" fill="#231f20" transform="translate(323.2 374.6) scale(1 1.15)" stroke="#231f20" stroke-width="0.3">G2</text>
<path d="M342.25 361.3 V308.5 H357.75 V361.3" fill="none" stroke="#e1a0aa" stroke-width="1.4"/>
<line x1="350" y1="299.9" x2="350" y2="314.7" stroke="#e1a0aa" stroke-width="1.3"/>
<line x1="346.59" y1="299.9" x2="353.41" y2="299.9" stroke="#e1a0aa" stroke-width="1.3"/>
<line x1="346.59" y1="314.7" x2="353.41" y2="314.7" stroke="#e1a0aa" stroke-width="1.3"/>
<circle cx="350.7" cy="294.4" r="3.1" fill="#e1a0aa"/>
<circle cx="344" cy="314.3" r="3.1" fill="#e1a0aa"/>
<circle cx="350.7" cy="310.3" r="3.1" fill="#e1a0aa"/>
<circle cx="356.4" cy="306.1" r="3.1" fill="#e1a0aa"/>
<circle cx="356.4" cy="311.8" r="3.1" fill="#e1a0aa"/>
<text x="0" y="0" font-size="9.5" font-weight="bold" text-anchor="middle" fill="#231f20" transform="translate(348.2 374.6) scale(1 1.15)" stroke="#231f20" stroke-width="0.3">G3</text>
<path d="M367.75 361.3 V309.3 H383.25 V361.3" fill="none" stroke="#7d82cd" stroke-width="1.4"/>
<line x1="375.5" y1="307" x2="375.5" y2="313" stroke="#7d82cd" stroke-width="1.3"/>
<line x1="372.09" y1="307" x2="378.91" y2="307" stroke="#7d82cd" stroke-width="1.3"/>
<line x1="372.09" y1="313" x2="378.91" y2="313" stroke="#7d82cd" stroke-width="1.3"/>
<circle cx="372.3" cy="306.1" r="3.1" fill="#7d82cd"/>
<circle cx="378.8" cy="306.8" r="3.1" fill="#7d82cd"/>
<circle cx="369.4" cy="314.7" r="3.1" fill="#7d82cd"/>
<circle cx="375.6" cy="314.7" r="3.1" fill="#7d82cd"/>
<circle cx="381.3" cy="314.3" r="3.1" fill="#7d82cd"/>
<text x="0" y="0" font-size="9.5" font-weight="bold" text-anchor="middle" fill="#231f20" transform="translate(373.7 374.6) scale(1 1.15)" stroke="#231f20" stroke-width="0.3">G4</text>
<path d="M392.95 361.3 V339.1 H408.45 V361.3" fill="none" stroke="#b0b2b8" stroke-width="1.4"/>
<line x1="400.7" y1="331.6" x2="400.7" y2="344" stroke="#b0b2b8" stroke-width="1.3"/>
<line x1="397.29" y1="331.6" x2="404.11" y2="331.6" stroke="#b0b2b8" stroke-width="1.3"/>
<line x1="397.29" y1="344" x2="404.11" y2="344" stroke="#b0b2b8" stroke-width="1.3"/>
<circle cx="394.6" cy="332.4" r="3.1" fill="#b0b2b8"/>
<circle cx="400.7" cy="331.5" r="3.1" fill="#b0b2b8"/>
<circle cx="406.9" cy="334.2" r="3.1" fill="#b0b2b8"/>
<circle cx="400.7" cy="336" r="3.1" fill="#b0b2b8"/>
<circle cx="400.8" cy="348.2" r="3.1" fill="#b0b2b8"/>
<text x="0" y="0" font-size="9.5" font-weight="bold" text-anchor="middle" fill="#231f20" transform="translate(398.9 374.6) scale(1 1.15)" stroke="#231f20" stroke-width="0.3">G5</text>
<path d="M417.85 361.3 V338.3 H433.35 V361.3" fill="none" stroke="#2d8c3c" stroke-width="1.4"/>
<line x1="425.6" y1="334.1" x2="425.6" y2="344" stroke="#2d8c3c" stroke-width="1.3"/>
<line x1="422.19" y1="334.1" x2="429.01" y2="334.1" stroke="#2d8c3c" stroke-width="1.3"/>
<line x1="422.19" y1="344" x2="429.01" y2="344" stroke="#2d8c3c" stroke-width="1.3"/>
<circle cx="422.7" cy="329.3" r="3.1" fill="#2d8c3c"/>
<circle cx="429.2" cy="331.5" r="3.1" fill="#2d8c3c"/>
<circle cx="419.6" cy="342.5" r="3.1" fill="#2d8c3c"/>
<circle cx="425.5" cy="339.8" r="3.1" fill="#2d8c3c"/>
<circle cx="432.3" cy="341.6" r="3.1" fill="#2d8c3c"/>
<text x="0" y="0" font-size="9.5" font-weight="bold" text-anchor="middle" fill="#231f20" transform="translate(423.8 374.6) scale(1 1.15)" stroke="#231f20" stroke-width="0.3">G6</text>
<path d="M304.7 213.7 H329.8 M316.4 213.7 V203.1 H403.6 V322.9 M350.1 288.1 V249.2 H403.6 M377.7 293.7 V286 H403.6 M403.4 330.6 V326.7 H429.8 V328.5" stroke="#231f20" stroke-width="1.3" fill="none"/>
<text x="344.4" y="198.8" font-size="7.5" font-weight="bold" text-anchor="start" fill="#231f20" textLength="32" lengthAdjust="spacingAndGlyphs" stroke="#231f20" stroke-width="0.3"><tspan font-style="italic">p</tspan>&lt;0.0001</text>
<text x="360.1" y="245.7" font-size="7.5" font-weight="bold" text-anchor="start" fill="#231f20" textLength="32.1" lengthAdjust="spacingAndGlyphs" stroke="#231f20" stroke-width="0.3"><tspan font-style="italic">p</tspan>=0.0122</text>
<text x="367.7" y="282.5" font-size="7.5" font-weight="bold" text-anchor="start" fill="#231f20" textLength="32" lengthAdjust="spacingAndGlyphs" stroke="#231f20" stroke-width="0.3"><tspan font-style="italic">p</tspan>=0.0337</text>
<text x="406.9" y="321.5" font-size="7.5" font-weight="normal" text-anchor="start" fill="#231f20" textLength="32" lengthAdjust="spacingAndGlyphs" stroke="#231f20" stroke-width="0.28"><tspan font-style="italic">p</tspan>=0.9999</text>
<text x="0" y="0" font-size="10" font-weight="bold" text-anchor="middle" fill="#231f20" transform="translate(252.5 281) rotate(-90)" stroke="#231f20" stroke-width="0.3">Tumor weight (g)</text>
<text x="0" y="0" font-size="11.5" font-weight="bold" text-anchor="start" fill="#231f20" transform="translate(457.4 209.8) scale(1 1.13)" stroke="#231f20" stroke-width="0.3">F</text>
<line x1="494.5" y1="211.5" x2="494.5" y2="314.8" stroke="#231f20" stroke-width="1.4"/>
<line x1="494.5" y1="322.8" x2="494.5" y2="335.5" stroke="#231f20" stroke-width="1.4"/>
<line x1="491.8" y1="312.6" x2="497.2" y2="318" stroke="#231f20" stroke-width="1.2"/>
<line x1="491.8" y1="320.7" x2="497.2" y2="326.2" stroke="#231f20" stroke-width="1.2"/>
<line x1="489.2" y1="335.5" x2="679.62" y2="335.5" stroke="#231f20" stroke-width="1.5"/>
<line x1="489.3" y1="212.1" x2="494.5" y2="212.1" stroke="#231f20" stroke-width="1.3"/>
<text x="487.1" y="215.6" font-size="10" font-weight="bold" text-anchor="end" fill="#231f20" stroke="#231f20" stroke-width="0.3">25</text>
<line x1="489.3" y1="253.1" x2="494.5" y2="253.1" stroke="#231f20" stroke-width="1.3"/>
<text x="487.1" y="256.6" font-size="10" font-weight="bold" text-anchor="end" fill="#231f20" stroke="#231f20" stroke-width="0.3">20</text>
<line x1="489.3" y1="294.1" x2="494.5" y2="294.1" stroke="#231f20" stroke-width="1.3"/>
<text x="487.1" y="297.6" font-size="10" font-weight="bold" text-anchor="end" fill="#231f20" stroke="#231f20" stroke-width="0.3">15</text>
<text x="487.1" y="328.1" font-size="10" font-weight="bold" text-anchor="end" fill="#231f20" stroke="#231f20" stroke-width="0.3">5</text>
<line x1="491.5" y1="324.7" x2="494.5" y2="324.7" stroke="#231f20" stroke-width="1.2"/>
<text x="487.1" y="339" font-size="10" font-weight="bold" text-anchor="end" fill="#231f20" stroke="#231f20" stroke-width="0.3">0</text>
<line x1="494.5" y1="335.5" x2="494.5" y2="340.4" stroke="#231f20" stroke-width="1.3"/>
<text x="494.5" y="350.6" font-size="10" font-weight="bold" text-anchor="middle" fill="#231f20" stroke="#231f20" stroke-width="0.3">0</text>
<line x1="540.58" y1="335.5" x2="540.58" y2="340.4" stroke="#231f20" stroke-width="1.3"/>
<text x="540.58" y="350.6" font-size="10" font-weight="bold" text-anchor="middle" fill="#231f20" stroke="#231f20" stroke-width="0.3">4</text>
<line x1="586.66" y1="335.5" x2="586.66" y2="340.4" stroke="#231f20" stroke-width="1.3"/>
<text x="586.66" y="350.6" font-size="10" font-weight="bold" text-anchor="middle" fill="#231f20" stroke="#231f20" stroke-width="0.3">8</text>
<line x1="632.74" y1="335.5" x2="632.74" y2="340.4" stroke="#231f20" stroke-width="1.3"/>
<text x="632.74" y="350.6" font-size="10" font-weight="bold" text-anchor="middle" fill="#231f20" stroke="#231f20" stroke-width="0.3">12</text>
<line x1="678.82" y1="335.5" x2="678.82" y2="340.4" stroke="#231f20" stroke-width="1.3"/>
<text x="678.82" y="350.6" font-size="10" font-weight="bold" text-anchor="middle" fill="#231f20" stroke="#231f20" stroke-width="0.3">16</text>
<text x="587.2" y="365" font-size="10.3" font-weight="bold" text-anchor="middle" fill="#231f20" stroke="#231f20" stroke-width="0.3">Time (day)</text>
<text x="0" y="0" font-size="10" font-weight="bold" text-anchor="middle" fill="#231f20" transform="translate(467.8 276) rotate(-90)" stroke="#231f20" stroke-width="0.3">Body weight (g)</text>
<line x1="494.5" y1="262.12" x2="494.5" y2="270.32" stroke="#b0b2b8" stroke-width="1.2"/>
<line x1="492.3" y1="262.12" x2="496.7" y2="262.12" stroke="#b0b2b8" stroke-width="1.2"/>
<line x1="492.3" y1="270.32" x2="496.7" y2="270.32" stroke="#b0b2b8" stroke-width="1.2"/>
<line x1="517.54" y1="261.3" x2="517.54" y2="269.5" stroke="#b0b2b8" stroke-width="1.2"/>
<line x1="515.34" y1="261.3" x2="519.74" y2="261.3" stroke="#b0b2b8" stroke-width="1.2"/>
<line x1="515.34" y1="269.5" x2="519.74" y2="269.5" stroke="#b0b2b8" stroke-width="1.2"/>
<line x1="540.58" y1="260.48" x2="540.58" y2="268.68" stroke="#b0b2b8" stroke-width="1.2"/>
<line x1="538.38" y1="260.48" x2="542.78" y2="260.48" stroke="#b0b2b8" stroke-width="1.2"/>
<line x1="538.38" y1="268.68" x2="542.78" y2="268.68" stroke="#b0b2b8" stroke-width="1.2"/>
<line x1="563.62" y1="259.66" x2="563.62" y2="269.5" stroke="#b0b2b8" stroke-width="1.2"/>
<line x1="561.42" y1="259.66" x2="565.82" y2="259.66" stroke="#b0b2b8" stroke-width="1.2"/>
<line x1="561.42" y1="269.5" x2="565.82" y2="269.5" stroke="#b0b2b8" stroke-width="1.2"/>
<line x1="586.66" y1="258.84" x2="586.66" y2="267.04" stroke="#b0b2b8" stroke-width="1.2"/>
<line x1="584.46" y1="258.84" x2="588.86" y2="258.84" stroke="#b0b2b8" stroke-width="1.2"/>
<line x1="584.46" y1="267.04" x2="588.86" y2="267.04" stroke="#b0b2b8" stroke-width="1.2"/>
<line x1="609.7" y1="256.38" x2="609.7" y2="266.22" stroke="#b0b2b8" stroke-width="1.2"/>
<line x1="607.5" y1="256.38" x2="611.9" y2="256.38" stroke="#b0b2b8" stroke-width="1.2"/>
<line x1="607.5" y1="266.22" x2="611.9" y2="266.22" stroke="#b0b2b8" stroke-width="1.2"/>
<line x1="632.74" y1="261.3" x2="632.74" y2="271.14" stroke="#b0b2b8" stroke-width="1.2"/>
<line x1="630.54" y1="261.3" x2="634.94" y2="261.3" stroke="#b0b2b8" stroke-width="1.2"/>
<line x1="630.54" y1="271.14" x2="634.94" y2="271.14" stroke="#b0b2b8" stroke-width="1.2"/>
<line x1="655.78" y1="260.48" x2="655.78" y2="270.32" stroke="#b0b2b8" stroke-width="1.2"/>
<line x1="653.58" y1="260.48" x2="657.98" y2="260.48" stroke="#b0b2b8" stroke-width="1.2"/>
<line x1="653.58" y1="270.32" x2="657.98" y2="270.32" stroke="#b0b2b8" stroke-width="1.2"/>
<line x1="678.82" y1="258.84" x2="678.82" y2="270.32" stroke="#b0b2b8" stroke-width="1.2"/>
<line x1="676.62" y1="258.84" x2="681.02" y2="258.84" stroke="#b0b2b8" stroke-width="1.2"/>
<line x1="676.62" y1="270.32" x2="681.02" y2="270.32" stroke="#b0b2b8" stroke-width="1.2"/>
<polyline points="494.5,266.22 517.54,265.4 540.58,264.58 563.62,264.58 586.66,262.94 609.7,261.3 632.74,266.22 655.78,265.4 678.82,264.58" fill="none" stroke="#b0b2b8" stroke-width="1.4"/>
<circle cx="494.5" cy="266.22" r="1.3" fill="#b0b2b8"/>
<circle cx="517.54" cy="265.4" r="1.3" fill="#b0b2b8"/>
<circle cx="540.58" cy="264.58" r="1.3" fill="#b0b2b8"/>
<circle cx="563.62" cy="264.58" r="1.3" fill="#b0b2b8"/>
<circle cx="586.66" cy="262.94" r="1.3" fill="#b0b2b8"/>
<circle cx="609.7" cy="261.3" r="1.3" fill="#b0b2b8"/>
<circle cx="632.74" cy="266.22" r="1.3" fill="#b0b2b8"/>
<circle cx="655.78" cy="265.4" r="1.3" fill="#b0b2b8"/>
<circle cx="678.82" cy="264.58" r="1.3" fill="#b0b2b8"/>
<line x1="494.5" y1="260.48" x2="494.5" y2="268.68" stroke="#e1a0aa" stroke-width="1.2"/>
<line x1="492.3" y1="260.48" x2="496.7" y2="260.48" stroke="#e1a0aa" stroke-width="1.2"/>
<line x1="492.3" y1="268.68" x2="496.7" y2="268.68" stroke="#e1a0aa" stroke-width="1.2"/>
<line x1="517.54" y1="256.38" x2="517.54" y2="269.5" stroke="#e1a0aa" stroke-width="1.2"/>
<line x1="515.34" y1="256.38" x2="519.74" y2="256.38" stroke="#e1a0aa" stroke-width="1.2"/>
<line x1="515.34" y1="269.5" x2="519.74" y2="269.5" stroke="#e1a0aa" stroke-width="1.2"/>
<line x1="540.58" y1="258.02" x2="540.58" y2="267.86" stroke="#e1a0aa" stroke-width="1.2"/>
<line x1="538.38" y1="258.02" x2="542.78" y2="258.02" stroke="#e1a0aa" stroke-width="1.2"/>
<line x1="538.38" y1="267.86" x2="542.78" y2="267.86" stroke="#e1a0aa" stroke-width="1.2"/>
<line x1="563.62" y1="257.2" x2="563.62" y2="270.32" stroke="#e1a0aa" stroke-width="1.2"/>
<line x1="561.42" y1="257.2" x2="565.82" y2="257.2" stroke="#e1a0aa" stroke-width="1.2"/>
<line x1="561.42" y1="270.32" x2="565.82" y2="270.32" stroke="#e1a0aa" stroke-width="1.2"/>
<line x1="586.66" y1="253.92" x2="586.66" y2="270.32" stroke="#e1a0aa" stroke-width="1.2"/>
<line x1="584.46" y1="253.92" x2="588.86" y2="253.92" stroke="#e1a0aa" stroke-width="1.2"/>
<line x1="584.46" y1="270.32" x2="588.86" y2="270.32" stroke="#e1a0aa" stroke-width="1.2"/>
<line x1="609.7" y1="257.2" x2="609.7" y2="270.32" stroke="#e1a0aa" stroke-width="1.2"/>
<line x1="607.5" y1="257.2" x2="611.9" y2="257.2" stroke="#e1a0aa" stroke-width="1.2"/>
<line x1="607.5" y1="270.32" x2="611.9" y2="270.32" stroke="#e1a0aa" stroke-width="1.2"/>
<line x1="632.74" y1="258.84" x2="632.74" y2="271.96" stroke="#e1a0aa" stroke-width="1.2"/>
<line x1="630.54" y1="258.84" x2="634.94" y2="258.84" stroke="#e1a0aa" stroke-width="1.2"/>
<line x1="630.54" y1="271.96" x2="634.94" y2="271.96" stroke="#e1a0aa" stroke-width="1.2"/>
<line x1="655.78" y1="256.38" x2="655.78" y2="271.14" stroke="#e1a0aa" stroke-width="1.2"/>
<line x1="653.58" y1="256.38" x2="657.98" y2="256.38" stroke="#e1a0aa" stroke-width="1.2"/>
<line x1="653.58" y1="271.14" x2="657.98" y2="271.14" stroke="#e1a0aa" stroke-width="1.2"/>
<line x1="678.82" y1="256.38" x2="678.82" y2="269.5" stroke="#e1a0aa" stroke-width="1.2"/>
<line x1="676.62" y1="256.38" x2="681.02" y2="256.38" stroke="#e1a0aa" stroke-width="1.2"/>
<line x1="676.62" y1="269.5" x2="681.02" y2="269.5" stroke="#e1a0aa" stroke-width="1.2"/>
<polyline points="494.5,264.58 517.54,262.94 540.58,262.94 563.62,263.76 586.66,262.12 609.7,263.76 632.74,265.4 655.78,263.76 678.82,262.94" fill="none" stroke="#e1a0aa" stroke-width="1.4"/>
<circle cx="494.5" cy="264.58" r="1.3" fill="#e1a0aa"/>
<circle cx="517.54" cy="262.94" r="1.3" fill="#e1a0aa"/>
<circle cx="540.58" cy="262.94" r="1.3" fill="#e1a0aa"/>
<circle cx="563.62" cy="263.76" r="1.3" fill="#e1a0aa"/>
<circle cx="586.66" cy="262.12" r="1.3" fill="#e1a0aa"/>
<circle cx="609.7" cy="263.76" r="1.3" fill="#e1a0aa"/>
<circle cx="632.74" cy="265.4" r="1.3" fill="#e1a0aa"/>
<circle cx="655.78" cy="263.76" r="1.3" fill="#e1a0aa"/>
<circle cx="678.82" cy="262.94" r="1.3" fill="#e1a0aa"/>
<line x1="494.5" y1="263.76" x2="494.5" y2="276.88" stroke="#7d82cd" stroke-width="1.2"/>
<line x1="492.3" y1="263.76" x2="496.7" y2="263.76" stroke="#7d82cd" stroke-width="1.2"/>
<line x1="492.3" y1="276.88" x2="496.7" y2="276.88" stroke="#7d82cd" stroke-width="1.2"/>
<line x1="517.54" y1="263.76" x2="517.54" y2="271.96" stroke="#7d82cd" stroke-width="1.2"/>
<line x1="515.34" y1="263.76" x2="519.74" y2="263.76" stroke="#7d82cd" stroke-width="1.2"/>
<line x1="515.34" y1="271.96" x2="519.74" y2="271.96" stroke="#7d82cd" stroke-width="1.2"/>
<line x1="540.58" y1="260.48" x2="540.58" y2="270.32" stroke="#7d82cd" stroke-width="1.2"/>
<line x1="538.38" y1="260.48" x2="542.78" y2="260.48" stroke="#7d82cd" stroke-width="1.2"/>
<line x1="538.38" y1="270.32" x2="542.78" y2="270.32" stroke="#7d82cd" stroke-width="1.2"/>
<line x1="563.62" y1="262.12" x2="563.62" y2="270.32" stroke="#7d82cd" stroke-width="1.2"/>
<line x1="561.42" y1="262.12" x2="565.82" y2="262.12" stroke="#7d82cd" stroke-width="1.2"/>
<line x1="561.42" y1="270.32" x2="565.82" y2="270.32" stroke="#7d82cd" stroke-width="1.2"/>
<line x1="586.66" y1="262.94" x2="586.66" y2="272.78" stroke="#7d82cd" stroke-width="1.2"/>
<line x1="584.46" y1="262.94" x2="588.86" y2="262.94" stroke="#7d82cd" stroke-width="1.2"/>
<line x1="584.46" y1="272.78" x2="588.86" y2="272.78" stroke="#7d82cd" stroke-width="1.2"/>
<line x1="609.7" y1="262.12" x2="609.7" y2="271.96" stroke="#7d82cd" stroke-width="1.2"/>
<line x1="607.5" y1="262.12" x2="611.9" y2="262.12" stroke="#7d82cd" stroke-width="1.2"/>
<line x1="607.5" y1="271.96" x2="611.9" y2="271.96" stroke="#7d82cd" stroke-width="1.2"/>
<line x1="632.74" y1="264.58" x2="632.74" y2="274.42" stroke="#7d82cd" stroke-width="1.2"/>
<line x1="630.54" y1="264.58" x2="634.94" y2="264.58" stroke="#7d82cd" stroke-width="1.2"/>
<line x1="630.54" y1="274.42" x2="634.94" y2="274.42" stroke="#7d82cd" stroke-width="1.2"/>
<line x1="655.78" y1="262.12" x2="655.78" y2="275.24" stroke="#7d82cd" stroke-width="1.2"/>
<line x1="653.58" y1="262.12" x2="657.98" y2="262.12" stroke="#7d82cd" stroke-width="1.2"/>
<line x1="653.58" y1="275.24" x2="657.98" y2="275.24" stroke="#7d82cd" stroke-width="1.2"/>
<line x1="678.82" y1="261.3" x2="678.82" y2="280.98" stroke="#7d82cd" stroke-width="1.2"/>
<line x1="676.62" y1="261.3" x2="681.02" y2="261.3" stroke="#7d82cd" stroke-width="1.2"/>
<line x1="676.62" y1="280.98" x2="681.02" y2="280.98" stroke="#7d82cd" stroke-width="1.2"/>
<polyline points="494.5,270.32 517.54,267.86 540.58,265.4 563.62,266.22 586.66,267.86 609.7,267.04 632.74,269.5 655.78,268.68 678.82,271.14" fill="none" stroke="#7d82cd" stroke-width="1.4"/>
<circle cx="494.5" cy="270.32" r="1.3" fill="#7d82cd"/>
<circle cx="517.54" cy="267.86" r="1.3" fill="#7d82cd"/>
<circle cx="540.58" cy="265.4" r="1.3" fill="#7d82cd"/>
<circle cx="563.62" cy="266.22" r="1.3" fill="#7d82cd"/>
<circle cx="586.66" cy="267.86" r="1.3" fill="#7d82cd"/>
<circle cx="609.7" cy="267.04" r="1.3" fill="#7d82cd"/>
<circle cx="632.74" cy="269.5" r="1.3" fill="#7d82cd"/>
<circle cx="655.78" cy="268.68" r="1.3" fill="#7d82cd"/>
<circle cx="678.82" cy="271.14" r="1.3" fill="#7d82cd"/>
<line x1="494.5" y1="263.76" x2="494.5" y2="271.96" stroke="#2d8c3c" stroke-width="1.2"/>
<line x1="492.3" y1="263.76" x2="496.7" y2="263.76" stroke="#2d8c3c" stroke-width="1.2"/>
<line x1="492.3" y1="271.96" x2="496.7" y2="271.96" stroke="#2d8c3c" stroke-width="1.2"/>
<line x1="517.54" y1="265.4" x2="517.54" y2="273.6" stroke="#2d8c3c" stroke-width="1.2"/>
<line x1="515.34" y1="265.4" x2="519.74" y2="265.4" stroke="#2d8c3c" stroke-width="1.2"/>
<line x1="515.34" y1="273.6" x2="519.74" y2="273.6" stroke="#2d8c3c" stroke-width="1.2"/>
<line x1="540.58" y1="262.94" x2="540.58" y2="271.14" stroke="#2d8c3c" stroke-width="1.2"/>
<line x1="538.38" y1="262.94" x2="542.78" y2="262.94" stroke="#2d8c3c" stroke-width="1.2"/>
<line x1="538.38" y1="271.14" x2="542.78" y2="271.14" stroke="#2d8c3c" stroke-width="1.2"/>
<line x1="563.62" y1="262.94" x2="563.62" y2="271.14" stroke="#2d8c3c" stroke-width="1.2"/>
<line x1="561.42" y1="262.94" x2="565.82" y2="262.94" stroke="#2d8c3c" stroke-width="1.2"/>
<line x1="561.42" y1="271.14" x2="565.82" y2="271.14" stroke="#2d8c3c" stroke-width="1.2"/>
<line x1="586.66" y1="260.48" x2="586.66" y2="268.68" stroke="#2d8c3c" stroke-width="1.2"/>
<line x1="584.46" y1="260.48" x2="588.86" y2="260.48" stroke="#2d8c3c" stroke-width="1.2"/>
<line x1="584.46" y1="268.68" x2="588.86" y2="268.68" stroke="#2d8c3c" stroke-width="1.2"/>
<line x1="609.7" y1="260.48" x2="609.7" y2="270.32" stroke="#2d8c3c" stroke-width="1.2"/>
<line x1="607.5" y1="260.48" x2="611.9" y2="260.48" stroke="#2d8c3c" stroke-width="1.2"/>
<line x1="607.5" y1="270.32" x2="611.9" y2="270.32" stroke="#2d8c3c" stroke-width="1.2"/>
<line x1="632.74" y1="268.68" x2="632.74" y2="288.36" stroke="#2d8c3c" stroke-width="1.2"/>
<line x1="630.54" y1="268.68" x2="634.94" y2="268.68" stroke="#2d8c3c" stroke-width="1.2"/>
<line x1="630.54" y1="288.36" x2="634.94" y2="288.36" stroke="#2d8c3c" stroke-width="1.2"/>
<line x1="655.78" y1="262.12" x2="655.78" y2="276.88" stroke="#2d8c3c" stroke-width="1.2"/>
<line x1="653.58" y1="262.12" x2="657.98" y2="262.12" stroke="#2d8c3c" stroke-width="1.2"/>
<line x1="653.58" y1="276.88" x2="657.98" y2="276.88" stroke="#2d8c3c" stroke-width="1.2"/>
<line x1="678.82" y1="269.5" x2="678.82" y2="280.98" stroke="#2d8c3c" stroke-width="1.2"/>
<line x1="676.62" y1="269.5" x2="681.02" y2="269.5" stroke="#2d8c3c" stroke-width="1.2"/>
<line x1="676.62" y1="280.98" x2="681.02" y2="280.98" stroke="#2d8c3c" stroke-width="1.2"/>
<polyline points="494.5,267.86 517.54,269.5 540.58,267.04 563.62,267.04 586.66,264.58 609.7,265.4 632.74,278.52 655.78,269.5 678.82,275.24" fill="none" stroke="#2d8c3c" stroke-width="1.4"/>
<circle cx="494.5" cy="267.86" r="1.3" fill="#2d8c3c"/>
<circle cx="517.54" cy="269.5" r="1.3" fill="#2d8c3c"/>
<circle cx="540.58" cy="267.04" r="1.3" fill="#2d8c3c"/>
<circle cx="563.62" cy="267.04" r="1.3" fill="#2d8c3c"/>
<circle cx="586.66" cy="264.58" r="1.3" fill="#2d8c3c"/>
<circle cx="609.7" cy="265.4" r="1.3" fill="#2d8c3c"/>
<circle cx="632.74" cy="278.52" r="1.3" fill="#2d8c3c"/>
<circle cx="655.78" cy="269.5" r="1.3" fill="#2d8c3c"/>
<circle cx="678.82" cy="275.24" r="1.3" fill="#2d8c3c"/>
<line x1="494.5" y1="262.12" x2="494.5" y2="268.68" stroke="#46a0a5" stroke-width="1.2"/>
<line x1="492.3" y1="262.12" x2="496.7" y2="262.12" stroke="#46a0a5" stroke-width="1.2"/>
<line x1="492.3" y1="268.68" x2="496.7" y2="268.68" stroke="#46a0a5" stroke-width="1.2"/>
<line x1="517.54" y1="262.12" x2="517.54" y2="270.32" stroke="#46a0a5" stroke-width="1.2"/>
<line x1="515.34" y1="262.12" x2="519.74" y2="262.12" stroke="#46a0a5" stroke-width="1.2"/>
<line x1="515.34" y1="270.32" x2="519.74" y2="270.32" stroke="#46a0a5" stroke-width="1.2"/>
<line x1="540.58" y1="258.84" x2="540.58" y2="267.04" stroke="#46a0a5" stroke-width="1.2"/>
<line x1="538.38" y1="258.84" x2="542.78" y2="258.84" stroke="#46a0a5" stroke-width="1.2"/>
<line x1="538.38" y1="267.04" x2="542.78" y2="267.04" stroke="#46a0a5" stroke-width="1.2"/>
<line x1="563.62" y1="262.94" x2="563.62" y2="271.14" stroke="#46a0a5" stroke-width="1.2"/>
<line x1="561.42" y1="262.94" x2="565.82" y2="262.94" stroke="#46a0a5" stroke-width="1.2"/>
<line x1="561.42" y1="271.14" x2="565.82" y2="271.14" stroke="#46a0a5" stroke-width="1.2"/>
<line x1="586.66" y1="257.2" x2="586.66" y2="276.88" stroke="#46a0a5" stroke-width="1.2"/>
<line x1="584.46" y1="257.2" x2="588.86" y2="257.2" stroke="#46a0a5" stroke-width="1.2"/>
<line x1="584.46" y1="276.88" x2="588.86" y2="276.88" stroke="#46a0a5" stroke-width="1.2"/>
<line x1="609.7" y1="261.3" x2="609.7" y2="277.7" stroke="#46a0a5" stroke-width="1.2"/>
<line x1="607.5" y1="261.3" x2="611.9" y2="261.3" stroke="#46a0a5" stroke-width="1.2"/>
<line x1="607.5" y1="277.7" x2="611.9" y2="277.7" stroke="#46a0a5" stroke-width="1.2"/>
<line x1="632.74" y1="262.12" x2="632.74" y2="271.96" stroke="#46a0a5" stroke-width="1.2"/>
<line x1="630.54" y1="262.12" x2="634.94" y2="262.12" stroke="#46a0a5" stroke-width="1.2"/>
<line x1="630.54" y1="271.96" x2="634.94" y2="271.96" stroke="#46a0a5" stroke-width="1.2"/>
<line x1="655.78" y1="259.66" x2="655.78" y2="274.42" stroke="#46a0a5" stroke-width="1.2"/>
<line x1="653.58" y1="259.66" x2="657.98" y2="259.66" stroke="#46a0a5" stroke-width="1.2"/>
<line x1="653.58" y1="274.42" x2="657.98" y2="274.42" stroke="#46a0a5" stroke-width="1.2"/>
<line x1="678.82" y1="259.66" x2="678.82" y2="272.78" stroke="#46a0a5" stroke-width="1.2"/>
<line x1="676.62" y1="259.66" x2="681.02" y2="259.66" stroke="#46a0a5" stroke-width="1.2"/>
<line x1="676.62" y1="272.78" x2="681.02" y2="272.78" stroke="#46a0a5" stroke-width="1.2"/>
<polyline points="494.5,265.4 517.54,266.22 540.58,262.94 563.62,267.04 586.66,267.04 609.7,269.5 632.74,267.04 655.78,267.04 678.82,266.22" fill="none" stroke="#46a0a5" stroke-width="1.4"/>
<circle cx="494.5" cy="265.4" r="1.3" fill="#46a0a5"/>
<circle cx="517.54" cy="266.22" r="1.3" fill="#46a0a5"/>
<circle cx="540.58" cy="262.94" r="1.3" fill="#46a0a5"/>
<circle cx="563.62" cy="267.04" r="1.3" fill="#46a0a5"/>
<circle cx="586.66" cy="267.04" r="1.3" fill="#46a0a5"/>
<circle cx="609.7" cy="269.5" r="1.3" fill="#46a0a5"/>
<circle cx="632.74" cy="267.04" r="1.3" fill="#46a0a5"/>
<circle cx="655.78" cy="267.04" r="1.3" fill="#46a0a5"/>
<circle cx="678.82" cy="266.22" r="1.3" fill="#46a0a5"/>
<line x1="494.5" y1="262.94" x2="494.5" y2="271.14" stroke="#1e1e1e" stroke-width="1.2"/>
<line x1="492.3" y1="262.94" x2="496.7" y2="262.94" stroke="#1e1e1e" stroke-width="1.2"/>
<line x1="492.3" y1="271.14" x2="496.7" y2="271.14" stroke="#1e1e1e" stroke-width="1.2"/>
<line x1="517.54" y1="260.48" x2="517.54" y2="268.68" stroke="#1e1e1e" stroke-width="1.2"/>
<line x1="515.34" y1="260.48" x2="519.74" y2="260.48" stroke="#1e1e1e" stroke-width="1.2"/>
<line x1="515.34" y1="268.68" x2="519.74" y2="268.68" stroke="#1e1e1e" stroke-width="1.2"/>
<line x1="540.58" y1="256.38" x2="540.58" y2="264.58" stroke="#1e1e1e" stroke-width="1.2"/>
<line x1="538.38" y1="256.38" x2="542.78" y2="256.38" stroke="#1e1e1e" stroke-width="1.2"/>
<line x1="538.38" y1="264.58" x2="542.78" y2="264.58" stroke="#1e1e1e" stroke-width="1.2"/>
<line x1="563.62" y1="257.2" x2="563.62" y2="265.4" stroke="#1e1e1e" stroke-width="1.2"/>
<line x1="561.42" y1="257.2" x2="565.82" y2="257.2" stroke="#1e1e1e" stroke-width="1.2"/>
<line x1="561.42" y1="265.4" x2="565.82" y2="265.4" stroke="#1e1e1e" stroke-width="1.2"/>
<line x1="586.66" y1="258.84" x2="586.66" y2="268.68" stroke="#1e1e1e" stroke-width="1.2"/>
<line x1="584.46" y1="258.84" x2="588.86" y2="258.84" stroke="#1e1e1e" stroke-width="1.2"/>
<line x1="584.46" y1="268.68" x2="588.86" y2="268.68" stroke="#1e1e1e" stroke-width="1.2"/>
<line x1="609.7" y1="263.76" x2="609.7" y2="271.96" stroke="#1e1e1e" stroke-width="1.2"/>
<line x1="607.5" y1="263.76" x2="611.9" y2="263.76" stroke="#1e1e1e" stroke-width="1.2"/>
<line x1="607.5" y1="271.96" x2="611.9" y2="271.96" stroke="#1e1e1e" stroke-width="1.2"/>
<line x1="632.74" y1="262.12" x2="632.74" y2="276.88" stroke="#1e1e1e" stroke-width="1.2"/>
<line x1="630.54" y1="262.12" x2="634.94" y2="262.12" stroke="#1e1e1e" stroke-width="1.2"/>
<line x1="630.54" y1="276.88" x2="634.94" y2="276.88" stroke="#1e1e1e" stroke-width="1.2"/>
<line x1="655.78" y1="259.66" x2="655.78" y2="284.26" stroke="#1e1e1e" stroke-width="1.2"/>
<line x1="653.58" y1="259.66" x2="657.98" y2="259.66" stroke="#1e1e1e" stroke-width="1.2"/>
<line x1="653.58" y1="284.26" x2="657.98" y2="284.26" stroke="#1e1e1e" stroke-width="1.2"/>
<line x1="678.82" y1="258.02" x2="678.82" y2="280.98" stroke="#1e1e1e" stroke-width="1.2"/>
<line x1="676.62" y1="258.02" x2="681.02" y2="258.02" stroke="#1e1e1e" stroke-width="1.2"/>
<line x1="676.62" y1="280.98" x2="681.02" y2="280.98" stroke="#1e1e1e" stroke-width="1.2"/>
<polyline points="494.5,267.04 517.54,264.58 540.58,260.48 563.62,261.3 586.66,263.76 609.7,267.86 632.74,269.5 655.78,271.96 678.82,269.5" fill="none" stroke="#1e1e1e" stroke-width="1.4"/>
<circle cx="494.5" cy="267.04" r="1.6" fill="#1e1e1e"/>
<circle cx="517.54" cy="264.58" r="1.6" fill="#1e1e1e"/>
<circle cx="540.58" cy="260.48" r="1.6" fill="#1e1e1e"/>
<circle cx="563.62" cy="261.3" r="1.6" fill="#1e1e1e"/>
<circle cx="586.66" cy="263.76" r="1.6" fill="#1e1e1e"/>
<circle cx="609.7" cy="267.86" r="1.6" fill="#1e1e1e"/>
<circle cx="632.74" cy="269.5" r="1.6" fill="#1e1e1e"/>
<circle cx="655.78" cy="271.96" r="1.6" fill="#1e1e1e"/>
<circle cx="678.82" cy="269.5" r="1.6" fill="#1e1e1e"/>
<line x1="518.3" y1="212.4" x2="531.3" y2="212.4" stroke="#1e1e1e" stroke-width="1.5"/>
<circle cx="524.8" cy="212.4" r="2" fill="#1e1e1e"/>
<text x="0" y="0" font-size="9.6" font-weight="bold" text-anchor="start" fill="#231f20" transform="translate(538.5 216.2) scale(1.0 1.2)" stroke="#231f20" stroke-width="0.3">G1</text>
<line x1="559.5" y1="212.4" x2="572.5" y2="212.4" stroke="#46a0a5" stroke-width="1.5"/>
<circle cx="566" cy="212.4" r="2" fill="#46a0a5"/>
<text x="0" y="0" font-size="9.6" font-weight="bold" text-anchor="start" fill="#231f20" transform="translate(580.4 216.2) scale(1.0 1.2)" stroke="#231f20" stroke-width="0.3">G2</text>
<line x1="601.6" y1="212.4" x2="614.6" y2="212.4" stroke="#e1a0aa" stroke-width="1.5"/>
<circle cx="608.1" cy="212.4" r="2" fill="#e1a0aa"/>
<text x="0" y="0" font-size="9.6" font-weight="bold" text-anchor="start" fill="#231f20" transform="translate(622 216.2) scale(1.0 1.2)" stroke="#231f20" stroke-width="0.3">G3</text>
<line x1="518.3" y1="229.3" x2="531.3" y2="229.3" stroke="#7d82cd" stroke-width="1.5"/>
<circle cx="524.8" cy="229.3" r="2" fill="#7d82cd"/>
<text x="0" y="0" font-size="9.6" font-weight="bold" text-anchor="start" fill="#231f20" transform="translate(538.5 233.1) scale(1.0 1.2)" stroke="#231f20" stroke-width="0.3">G4</text>
<line x1="559.5" y1="229.3" x2="572.5" y2="229.3" stroke="#b0b2b8" stroke-width="1.5"/>
<circle cx="566" cy="229.3" r="2" fill="#b0b2b8"/>
<text x="0" y="0" font-size="9.6" font-weight="bold" text-anchor="start" fill="#231f20" transform="translate(580.4 233.1) scale(1.0 1.2)" stroke="#231f20" stroke-width="0.3">G5</text>
<line x1="601.6" y1="229.3" x2="614.6" y2="229.3" stroke="#2d8c3c" stroke-width="1.5"/>
<circle cx="608.1" cy="229.3" r="2" fill="#2d8c3c"/>
<text x="0" y="0" font-size="9.6" font-weight="bold" text-anchor="start" fill="#231f20" transform="translate(622 233.1) scale(1.0 1.2)" stroke="#231f20" stroke-width="0.3">G6</text>
<text x="0" y="0" font-size="11.5" font-weight="bold" text-anchor="start" fill="#231f20" transform="translate(8.3 396.4) scale(1 1.13)" stroke="#231f20" stroke-width="0.3">G</text>
<line x1="43.8" y1="397.3" x2="43.8" y2="532.9" stroke="#231f20" stroke-width="1.4"/>
<line x1="43.2" y1="532.3" x2="177.5" y2="532.3" stroke="#231f20" stroke-width="1.5"/>
<line x1="41" y1="397.9" x2="43.8" y2="397.9" stroke="#231f20" stroke-width="1.3"/>
<text x="0" y="0" font-size="9.5" font-weight="bold" text-anchor="end" fill="#231f20" transform="translate(40.3 401.6) scale(1 1.15)" stroke="#231f20" stroke-width="0.3">20</text>
<line x1="41" y1="431.5" x2="43.8" y2="431.5" stroke="#231f20" stroke-width="1.3"/>
<text x="0" y="0" font-size="9.5" font-weight="bold" text-anchor="end" fill="#231f20" transform="translate(40.3 435.2) scale(1 1.15)" stroke="#231f20" stroke-width="0.3">15</text>
<line x1="41" y1="465.1" x2="43.8" y2="465.1" stroke="#231f20" stroke-width="1.3"/>
<text x="0" y="0" font-size="9.5" font-weight="bold" text-anchor="end" fill="#231f20" transform="translate(40.3 468.8) scale(1 1.15)" stroke="#231f20" stroke-width="0.3">10</text>
<line x1="41" y1="498.7" x2="43.8" y2="498.7" stroke="#231f20" stroke-width="1.3"/>
<text x="0" y="0" font-size="9.5" font-weight="bold" text-anchor="end" fill="#231f20" transform="translate(40.3 502.4) scale(1 1.15)" stroke="#231f20" stroke-width="0.3">5</text>
<line x1="41" y1="532.3" x2="43.8" y2="532.3" stroke="#231f20" stroke-width="1.3"/>
<text x="0" y="0" font-size="9.5" font-weight="bold" text-anchor="end" fill="#231f20" transform="translate(40.3 536) scale(1 1.15)" stroke="#231f20" stroke-width="0.3">0</text>
<path d="M51.3 532.3 V514 H64.7 V532.3" fill="none" stroke="#1e1e1e" stroke-width="1.4"/>
<line x1="58" y1="500.6" x2="58" y2="527.5" stroke="#1e1e1e" stroke-width="1.3"/>
<line x1="55.05" y1="500.6" x2="60.95" y2="500.6" stroke="#1e1e1e" stroke-width="1.3"/>
<line x1="55.05" y1="527.5" x2="60.95" y2="527.5" stroke="#1e1e1e" stroke-width="1.3"/>
<circle cx="52.6" cy="504.4" r="2.6" fill="#1e1e1e"/>
<circle cx="62.8" cy="508.4" r="2.6" fill="#1e1e1e"/>
<circle cx="57.7" cy="527.4" r="2.6" fill="#1e1e1e"/>
<text x="0" y="0" font-size="9.5" font-weight="bold" text-anchor="middle" fill="#231f20" transform="translate(58 543.1) scale(1 1.15)" stroke="#231f20" stroke-width="0.3">G1</text>
<path d="M72.3 532.3 V513 H85.7 V532.3" fill="none" stroke="#46a0a5" stroke-width="1.4"/>
<line x1="79" y1="503" x2="79" y2="522" stroke="#46a0a5" stroke-width="1.3"/>
<line x1="76.05" y1="503" x2="81.95" y2="503" stroke="#46a0a5" stroke-width="1.3"/>
<line x1="76.05" y1="522" x2="81.95" y2="522" stroke="#46a0a5" stroke-width="1.3"/>
<circle cx="78.9" cy="503.3" r="2.6" fill="#46a0a5"/>
<circle cx="78.9" cy="512" r="2.6" fill="#46a0a5"/>
<circle cx="78.9" cy="522.1" r="2.6" fill="#46a0a5"/>
<text x="0" y="0" font-size="9.5" font-weight="bold" text-anchor="middle" fill="#231f20" transform="translate(79 543.1) scale(1 1.15)" stroke="#231f20" stroke-width="0.3">G2</text>
<path d="M93.5 532.3 V494.8 H106.9 V532.3" fill="none" stroke="#e1a0aa" stroke-width="1.4"/>
<line x1="100.2" y1="487" x2="100.2" y2="500" stroke="#e1a0aa" stroke-width="1.3"/>
<line x1="97.25" y1="487" x2="103.15" y2="487" stroke="#e1a0aa" stroke-width="1.3"/>
<line x1="97.25" y1="500" x2="103.15" y2="500" stroke="#e1a0aa" stroke-width="1.3"/>
<circle cx="100.2" cy="487.5" r="2.6" fill="#e1a0aa"/>
<circle cx="95" cy="495.4" r="2.6" fill="#e1a0aa"/>
<circle cx="105.5" cy="495.4" r="2.6" fill="#e1a0aa"/>
<text x="0" y="0" font-size="9.5" font-weight="bold" text-anchor="middle" fill="#231f20" transform="translate(100.2 543.1) scale(1 1.15)" stroke="#231f20" stroke-width="0.3">G3</text>
<path d="M114.6 532.3 V494 H128 V532.3" fill="none" stroke="#7d82cd" stroke-width="1.4"/>
<line x1="121.3" y1="487" x2="121.3" y2="500" stroke="#7d82cd" stroke-width="1.3"/>
<line x1="118.35" y1="487" x2="124.25" y2="487" stroke="#7d82cd" stroke-width="1.3"/>
<line x1="118.35" y1="500" x2="124.25" y2="500" stroke="#7d82cd" stroke-width="1.3"/>
<circle cx="121.3" cy="484.8" r="2.6" fill="#7d82cd"/>
<circle cx="116" cy="493.5" r="2.6" fill="#7d82cd"/>
<circle cx="126.5" cy="493.5" r="2.6" fill="#7d82cd"/>
<text x="0" y="0" font-size="9.5" font-weight="bold" text-anchor="middle" fill="#231f20" transform="translate(121.3 543.1) scale(1 1.15)" stroke="#231f20" stroke-width="0.3">G4</text>
<path d="M135.6 532.3 V461.2 H149 V532.3" fill="none" stroke="#b0b2b8" stroke-width="1.4"/>
<line x1="142.3" y1="449" x2="142.3" y2="471" stroke="#b0b2b8" stroke-width="1.3"/>
<line x1="139.35" y1="449" x2="145.25" y2="449" stroke="#b0b2b8" stroke-width="1.3"/>
<line x1="139.35" y1="471" x2="145.25" y2="471" stroke="#b0b2b8" stroke-width="1.3"/>
<circle cx="142.3" cy="449.4" r="2.6" fill="#b0b2b8"/>
<circle cx="142.3" cy="461.2" r="2.6" fill="#b0b2b8"/>
<circle cx="142.3" cy="470.4" r="2.6" fill="#b0b2b8"/>
<text x="0" y="0" font-size="9.5" font-weight="bold" text-anchor="middle" fill="#231f20" transform="translate(142.3 543.1) scale(1 1.15)" stroke="#231f20" stroke-width="0.3">G5</text>
<path d="M156.3 532.3 V465.9 H169.7 V532.3" fill="none" stroke="#2d8c3c" stroke-width="1.4"/>
<line x1="163" y1="441.5" x2="163" y2="489.6" stroke="#2d8c3c" stroke-width="1.3"/>
<line x1="160.05" y1="441.5" x2="165.95" y2="441.5" stroke="#2d8c3c" stroke-width="1.3"/>
<line x1="160.05" y1="489.6" x2="165.95" y2="489.6" stroke="#2d8c3c" stroke-width="1.3"/>
<circle cx="163" cy="437.5" r="2.6" fill="#2d8c3c"/>
<circle cx="155" cy="478.3" r="2.6" fill="#2d8c3c"/>
<circle cx="171.5" cy="477.5" r="2.6" fill="#2d8c3c"/>
<text x="0" y="0" font-size="9.5" font-weight="bold" text-anchor="middle" fill="#231f20" transform="translate(163 543.1) scale(1 1.15)" stroke="#231f20" stroke-width="0.3">G6</text>
<path d="M57.7 490.5 V400.6 H138.3 V444.9 M78.4 497.6 V414.1 H138.3 M98.3 477.5 V425.9 H138.3 M119.1 474.5 V437 H138.3 M143.8 433.3 V429.1 H164.6 V433.3" stroke="#231f20" stroke-width="1.3" fill="none"/>
<text x="72.3" y="397.6" font-size="7.5" font-weight="bold" text-anchor="start" fill="#231f20" textLength="34.1" lengthAdjust="spacingAndGlyphs" stroke="#231f20" stroke-width="0.3"><tspan font-style="italic">p</tspan>=0.0002</text>
<text x="93.9" y="423.6" font-size="7.5" font-weight="bold" text-anchor="start" fill="#231f20" textLength="32.6" lengthAdjust="spacingAndGlyphs" stroke="#231f20" stroke-width="0.3"><tspan font-style="italic">p</tspan>=0.0086</text>
<text x="101.9" y="434.7" font-size="7.5" font-weight="bold" text-anchor="start" fill="#231f20" textLength="32.5" lengthAdjust="spacingAndGlyphs" stroke="#231f20" stroke-width="0.3"><tspan font-style="italic">p</tspan>=0.0129</text>
<text x="139.9" y="425.2" font-size="7.5" font-weight="bold" text-anchor="start" fill="#231f20" textLength="32.3" lengthAdjust="spacingAndGlyphs" stroke="#231f20" stroke-width="0.3"><tspan font-style="italic">p</tspan>=0.6370</text>
<text x="0" y="0" font-size="10.1" font-weight="bold" text-anchor="middle" fill="#231f20" transform="translate(26.6 462.5) rotate(-90)" stroke="#231f20" stroke-width="0.3">CD3<tspan font-size="6.4" dy="-3.7">+</tspan><tspan dy="3.7">CD8</tspan><tspan font-size="6.4" dy="-3.7">+</tspan><tspan dy="3.7"> cells (%)</tspan></text>
<text x="0" y="0" font-size="11.5" font-weight="bold" text-anchor="start" fill="#231f20" transform="translate(188.5 396.4) scale(1 1.13)" stroke="#231f20" stroke-width="0.3">H</text>
<line x1="215.4" y1="403.8" x2="215.4" y2="534.8" stroke="#231f20" stroke-width="1.4"/>
<line x1="214.8" y1="534.2" x2="345" y2="534.2" stroke="#231f20" stroke-width="1.5"/>
<line x1="210.2" y1="404.2" x2="215.4" y2="404.2" stroke="#231f20" stroke-width="1.3"/>
<text x="0" y="0" font-size="9.5" font-weight="bold" text-anchor="end" fill="#231f20" transform="translate(208.8 407.9) scale(1 1.15)" stroke="#231f20" stroke-width="0.3">20</text>
<line x1="210.2" y1="436.7" x2="215.4" y2="436.7" stroke="#231f20" stroke-width="1.3"/>
<text x="0" y="0" font-size="9.5" font-weight="bold" text-anchor="end" fill="#231f20" transform="translate(208.8 440.4) scale(1 1.15)" stroke="#231f20" stroke-width="0.3">15</text>
<line x1="210.2" y1="469.2" x2="215.4" y2="469.2" stroke="#231f20" stroke-width="1.3"/>
<text x="0" y="0" font-size="9.5" font-weight="bold" text-anchor="end" fill="#231f20" transform="translate(208.8 472.9) scale(1 1.15)" stroke="#231f20" stroke-width="0.3">10</text>
<line x1="210.2" y1="501.7" x2="215.4" y2="501.7" stroke="#231f20" stroke-width="1.3"/>
<text x="0" y="0" font-size="9.5" font-weight="bold" text-anchor="end" fill="#231f20" transform="translate(208.8 505.4) scale(1 1.15)" stroke="#231f20" stroke-width="0.3">5</text>
<line x1="210.2" y1="534.2" x2="215.4" y2="534.2" stroke="#231f20" stroke-width="1.3"/>
<text x="0" y="0" font-size="9.5" font-weight="bold" text-anchor="end" fill="#231f20" transform="translate(208.8 537.9) scale(1 1.15)" stroke="#231f20" stroke-width="0.3">0</text>
<path d="M222.25 534.2 V517.4 H234.95 V534.2" fill="none" stroke="#1e1e1e" stroke-width="1.4"/>
<line x1="228.6" y1="505.8" x2="228.6" y2="526.5" stroke="#1e1e1e" stroke-width="1.3"/>
<line x1="225.81" y1="505.8" x2="231.39" y2="505.8" stroke="#1e1e1e" stroke-width="1.3"/>
<line x1="225.81" y1="526.5" x2="231.39" y2="526.5" stroke="#1e1e1e" stroke-width="1.3"/>
<circle cx="228.6" cy="505.8" r="2.3" fill="#1e1e1e"/>
<circle cx="222.5" cy="522.3" r="2.3" fill="#1e1e1e"/>
<circle cx="234.5" cy="521" r="2.3" fill="#1e1e1e"/>
<text x="0" y="0" font-size="9.5" font-weight="bold" text-anchor="middle" fill="#231f20" transform="translate(228.6 543.6) scale(1 1.15)" stroke="#231f20" stroke-width="0.3">G1</text>
<path d="M242.65 534.2 V517 H255.35 V534.2" fill="none" stroke="#46a0a5" stroke-width="1.4"/>
<line x1="249" y1="513" x2="249" y2="521" stroke="#46a0a5" stroke-width="1.3"/>
<line x1="246.21" y1="513" x2="251.79" y2="513" stroke="#46a0a5" stroke-width="1.3"/>
<line x1="246.21" y1="521" x2="251.79" y2="521" stroke="#46a0a5" stroke-width="1.3"/>
<circle cx="249" cy="512.2" r="2.3" fill="#46a0a5"/>
<circle cx="244" cy="517.5" r="2.3" fill="#46a0a5"/>
<circle cx="254" cy="517.5" r="2.3" fill="#46a0a5"/>
<text x="0" y="0" font-size="9.5" font-weight="bold" text-anchor="middle" fill="#231f20" transform="translate(249 543.6) scale(1 1.15)" stroke="#231f20" stroke-width="0.3">G2</text>
<path d="M263.05 534.2 V500.1 H275.75 V534.2" fill="none" stroke="#e1a0aa" stroke-width="1.4"/>
<line x1="269.4" y1="494" x2="269.4" y2="506" stroke="#e1a0aa" stroke-width="1.3"/>
<line x1="266.61" y1="494" x2="272.19" y2="494" stroke="#e1a0aa" stroke-width="1.3"/>
<line x1="266.61" y1="506" x2="272.19" y2="506" stroke="#e1a0aa" stroke-width="1.3"/>
<circle cx="269.5" cy="494.8" r="2.3" fill="#e1a0aa"/>
<circle cx="277" cy="498.4" r="2.3" fill="#e1a0aa"/>
<circle cx="269.5" cy="505.4" r="2.3" fill="#e1a0aa"/>
<text x="0" y="0" font-size="9.5" font-weight="bold" text-anchor="middle" fill="#231f20" transform="translate(269.4 543.6) scale(1 1.15)" stroke="#231f20" stroke-width="0.3">G3</text>
<path d="M283.45 534.2 V500.5 H296.15 V534.2" fill="none" stroke="#7d82cd" stroke-width="1.4"/>
<line x1="289.8" y1="499" x2="289.8" y2="502" stroke="#7d82cd" stroke-width="1.3"/>
<line x1="287.01" y1="499" x2="292.59" y2="499" stroke="#7d82cd" stroke-width="1.3"/>
<line x1="287.01" y1="502" x2="292.59" y2="502" stroke="#7d82cd" stroke-width="1.3"/>
<circle cx="284" cy="500.1" r="2.3" fill="#7d82cd"/>
<circle cx="290" cy="500.1" r="2.3" fill="#7d82cd"/>
<circle cx="296" cy="500.1" r="2.3" fill="#7d82cd"/>
<text x="0" y="0" font-size="9.5" font-weight="bold" text-anchor="middle" fill="#231f20" transform="translate(289.8 543.6) scale(1 1.15)" stroke="#231f20" stroke-width="0.3">G4</text>
<path d="M303.85 534.2 V460.3 H316.55 V534.2" fill="none" stroke="#b0b2b8" stroke-width="1.4"/>
<line x1="310.2" y1="427.2" x2="310.2" y2="492" stroke="#b0b2b8" stroke-width="1.3"/>
<line x1="307.41" y1="427.2" x2="312.99" y2="427.2" stroke="#b0b2b8" stroke-width="1.3"/>
<line x1="307.41" y1="492" x2="312.99" y2="492" stroke="#b0b2b8" stroke-width="1.3"/>
<circle cx="310" cy="425.5" r="2.3" fill="#b0b2b8"/>
<circle cx="310" cy="465.2" r="2.3" fill="#b0b2b8"/>
<circle cx="310" cy="488.9" r="2.3" fill="#b0b2b8"/>
<text x="0" y="0" font-size="9.5" font-weight="bold" text-anchor="middle" fill="#231f20" transform="translate(310.2 543.6) scale(1 1.15)" stroke="#231f20" stroke-width="0.3">G5</text>
<path d="M324.25 534.2 V496.3 H336.95 V534.2" fill="none" stroke="#2d8c3c" stroke-width="1.4"/>
<line x1="330.6" y1="490" x2="330.6" y2="502" stroke="#2d8c3c" stroke-width="1.3"/>
<line x1="327.81" y1="490" x2="333.39" y2="490" stroke="#2d8c3c" stroke-width="1.3"/>
<line x1="327.81" y1="502" x2="333.39" y2="502" stroke="#2d8c3c" stroke-width="1.3"/>
<circle cx="331" cy="491.4" r="2.3" fill="#2d8c3c"/>
<circle cx="324.5" cy="496.9" r="2.3" fill="#2d8c3c"/>
<circle cx="338" cy="495.6" r="2.3" fill="#2d8c3c"/>
<text x="0" y="0" font-size="9.5" font-weight="bold" text-anchor="middle" fill="#231f20" transform="translate(330.6 543.6) scale(1 1.15)" stroke="#231f20" stroke-width="0.3">G6</text>
<path d="M228.6 489.3 V404.1 H310.2 V421.8 M269.1 485.7 V409.1 H310.2 M287.8 486.8 V415.7 H310.2 M312.4 421.4 V415.2 H331.4 V486.3" stroke="#231f20" stroke-width="1.3" fill="none"/>
<text x="0" y="0" font-size="7.5" font-weight="normal" text-anchor="start" fill="#231f20" transform="translate(238.5 461.9) rotate(-90)" textLength="32.9" lengthAdjust="spacingAndGlyphs" stroke="#231f20" stroke-width="0.28"><tspan font-style="italic">p</tspan>=0.0033</text>
<text x="0" y="0" font-size="7.5" font-weight="normal" text-anchor="start" fill="#231f20" transform="translate(277.8 466.5) rotate(-90)" textLength="32.8" lengthAdjust="spacingAndGlyphs" stroke="#231f20" stroke-width="0.28"><tspan font-style="italic">p</tspan>=0.0387</text>
<text x="0" y="0" font-size="7.5" font-weight="normal" text-anchor="start" fill="#231f20" transform="translate(297.2 461.6) rotate(-90)" textLength="32.1" lengthAdjust="spacingAndGlyphs" stroke="#231f20" stroke-width="0.28"><tspan font-style="italic">p</tspan>=0.0339</text>
<text x="0" y="0" font-size="7.5" font-weight="normal" text-anchor="start" fill="#231f20" transform="translate(339.4 463.2) rotate(-90)" textLength="31" lengthAdjust="spacingAndGlyphs" stroke="#231f20" stroke-width="0.28"><tspan font-style="italic">p</tspan>=0.0766</text>
<text x="0" y="0" font-size="10.1" font-weight="bold" text-anchor="middle" fill="#231f20" transform="translate(195.6 473.2) rotate(-90)" stroke="#231f20" stroke-width="0.3">CD3<tspan font-size="6.4" dy="-3.7">+</tspan><tspan dy="3.7">CD4</tspan><tspan font-size="6.4" dy="-3.7">+</tspan><tspan dy="3.7"> cells (%)</tspan></text>
<text x="0" y="0" font-size="11.5" font-weight="bold" text-anchor="start" fill="#231f20" transform="translate(354.6 395.7) scale(1 1.13)" stroke="#231f20" stroke-width="0.3">I</text>
<line x1="378.1" y1="395.6" x2="378.1" y2="532.1" stroke="#231f20" stroke-width="1.4"/>
<line x1="377.5" y1="531.5" x2="514.5" y2="531.5" stroke="#231f20" stroke-width="1.5"/>
<line x1="375.7" y1="396" x2="378.1" y2="396" stroke="#231f20" stroke-width="1.3"/>
<text x="0" y="0" font-size="9.5" font-weight="bold" text-anchor="end" fill="#231f20" transform="translate(375.5 399.7) scale(1 1.15)" stroke="#231f20" stroke-width="0.3">25</text>
<line x1="375.7" y1="423.1" x2="378.1" y2="423.1" stroke="#231f20" stroke-width="1.3"/>
<text x="0" y="0" font-size="9.5" font-weight="bold" text-anchor="end" fill="#231f20" transform="translate(375.5 426.8) scale(1 1.15)" stroke="#231f20" stroke-width="0.3">20</text>
<line x1="375.7" y1="450.2" x2="378.1" y2="450.2" stroke="#231f20" stroke-width="1.3"/>
<text x="0" y="0" font-size="9.5" font-weight="bold" text-anchor="end" fill="#231f20" transform="translate(375.5 453.9) scale(1 1.15)" stroke="#231f20" stroke-width="0.3">15</text>
<line x1="375.7" y1="477.3" x2="378.1" y2="477.3" stroke="#231f20" stroke-width="1.3"/>
<text x="0" y="0" font-size="9.5" font-weight="bold" text-anchor="end" fill="#231f20" transform="translate(375.5 481) scale(1 1.15)" stroke="#231f20" stroke-width="0.3">10</text>
<line x1="375.7" y1="504.4" x2="378.1" y2="504.4" stroke="#231f20" stroke-width="1.3"/>
<text x="0" y="0" font-size="9.5" font-weight="bold" text-anchor="end" fill="#231f20" transform="translate(375.5 508.1) scale(1 1.15)" stroke="#231f20" stroke-width="0.3">5</text>
<line x1="375.7" y1="531.5" x2="378.1" y2="531.5" stroke="#231f20" stroke-width="1.3"/>
<text x="0" y="0" font-size="9.5" font-weight="bold" text-anchor="end" fill="#231f20" transform="translate(375.5 535.2) scale(1 1.15)" stroke="#231f20" stroke-width="0.3">0</text>
<path d="M385.5 531.5 V526.5 H399.3 V531.5" fill="none" stroke="#1e1e1e" stroke-width="1.4"/>
<line x1="392.4" y1="525.5" x2="392.4" y2="527.5" stroke="#1e1e1e" stroke-width="1.3"/>
<line x1="389.36" y1="525.5" x2="395.44" y2="525.5" stroke="#1e1e1e" stroke-width="1.3"/>
<line x1="389.36" y1="527.5" x2="395.44" y2="527.5" stroke="#1e1e1e" stroke-width="1.3"/>
<circle cx="387.5" cy="526.5" r="2.6" fill="#1e1e1e"/>
<circle cx="392.4" cy="526" r="2.6" fill="#1e1e1e"/>
<circle cx="397.5" cy="526.5" r="2.6" fill="#1e1e1e"/>
<text x="0" y="0" font-size="9.5" font-weight="bold" text-anchor="middle" fill="#231f20" transform="translate(392.4 542.9) scale(1 1.15)" stroke="#231f20" stroke-width="0.3">G1</text>
<path d="M406.9 531.5 V528 H420.7 V531.5" fill="none" stroke="#46a0a5" stroke-width="1.4"/>
<line x1="413.8" y1="526" x2="413.8" y2="529" stroke="#46a0a5" stroke-width="1.3"/>
<line x1="410.76" y1="526" x2="416.84" y2="526" stroke="#46a0a5" stroke-width="1.3"/>
<line x1="410.76" y1="529" x2="416.84" y2="529" stroke="#46a0a5" stroke-width="1.3"/>
<circle cx="408" cy="528" r="2.6" fill="#46a0a5"/>
<circle cx="413.8" cy="525" r="2.6" fill="#46a0a5"/>
<circle cx="420" cy="527.5" r="2.6" fill="#46a0a5"/>
<text x="0" y="0" font-size="9.5" font-weight="bold" text-anchor="middle" fill="#231f20" transform="translate(413.8 542.9) scale(1 1.15)" stroke="#231f20" stroke-width="0.3">G2</text>
<path d="M428.3 531.5 V490.6 H442.1 V531.5" fill="none" stroke="#e1a0aa" stroke-width="1.4"/>
<line x1="435.2" y1="487" x2="435.2" y2="492" stroke="#e1a0aa" stroke-width="1.3"/>
<line x1="432.16" y1="487" x2="438.24" y2="487" stroke="#e1a0aa" stroke-width="1.3"/>
<line x1="432.16" y1="492" x2="438.24" y2="492" stroke="#e1a0aa" stroke-width="1.3"/>
<circle cx="429.5" cy="488.4" r="2.6" fill="#e1a0aa"/>
<circle cx="441" cy="488.4" r="2.6" fill="#e1a0aa"/>
<circle cx="435.2" cy="495.2" r="2.6" fill="#e1a0aa"/>
<text x="0" y="0" font-size="9.5" font-weight="bold" text-anchor="middle" fill="#231f20" transform="translate(435.2 542.9) scale(1 1.15)" stroke="#231f20" stroke-width="0.3">G3</text>
<path d="M449.7 531.5 V487.2 H463.5 V531.5" fill="none" stroke="#7d82cd" stroke-width="1.4"/>
<line x1="456.6" y1="473.6" x2="456.6" y2="499.5" stroke="#7d82cd" stroke-width="1.3"/>
<line x1="453.56" y1="473.6" x2="459.64" y2="473.6" stroke="#7d82cd" stroke-width="1.3"/>
<line x1="453.56" y1="499.5" x2="459.64" y2="499.5" stroke="#7d82cd" stroke-width="1.3"/>
<circle cx="451" cy="477.9" r="2.6" fill="#7d82cd"/>
<circle cx="462" cy="480.4" r="2.6" fill="#7d82cd"/>
<circle cx="456.6" cy="500.5" r="2.6" fill="#7d82cd"/>
<text x="0" y="0" font-size="9.5" font-weight="bold" text-anchor="middle" fill="#231f20" transform="translate(456.6 542.9) scale(1 1.15)" stroke="#231f20" stroke-width="0.3">G4</text>
<path d="M471.1 531.5 V443.3 H484.9 V531.5" fill="none" stroke="#b0b2b8" stroke-width="1.4"/>
<line x1="478" y1="434.2" x2="478" y2="448.1" stroke="#b0b2b8" stroke-width="1.3"/>
<line x1="474.96" y1="434.2" x2="481.04" y2="434.2" stroke="#b0b2b8" stroke-width="1.3"/>
<line x1="474.96" y1="448.1" x2="481.04" y2="448.1" stroke="#b0b2b8" stroke-width="1.3"/>
<circle cx="472.4" cy="436.3" r="2.6" fill="#b0b2b8"/>
<circle cx="483.1" cy="439.1" r="2.6" fill="#b0b2b8"/>
<circle cx="478" cy="450.2" r="2.6" fill="#b0b2b8"/>
<text x="0" y="0" font-size="9.5" font-weight="bold" text-anchor="middle" fill="#231f20" transform="translate(477.2 542.9) scale(1 1.15)" stroke="#231f20" stroke-width="0.3">G5</text>
<path d="M492.5 531.5 V474.5 H506.3 V531.5" fill="none" stroke="#2d8c3c" stroke-width="1.4"/>
<line x1="499.4" y1="453.5" x2="499.4" y2="494" stroke="#2d8c3c" stroke-width="1.3"/>
<line x1="496.36" y1="453.5" x2="502.44" y2="453.5" stroke="#2d8c3c" stroke-width="1.3"/>
<line x1="496.36" y1="494" x2="502.44" y2="494" stroke="#2d8c3c" stroke-width="1.3"/>
<circle cx="499.4" cy="453.7" r="2.6" fill="#2d8c3c"/>
<circle cx="499.4" cy="473" r="2.6" fill="#2d8c3c"/>
<circle cx="499.4" cy="494.2" r="2.6" fill="#2d8c3c"/>
<text x="0" y="0" font-size="9.5" font-weight="bold" text-anchor="middle" fill="#231f20" transform="translate(497.8 542.9) scale(1 1.15)" stroke="#231f20" stroke-width="0.3">G6</text>
<path d="M391.6 480.4 H415.5 M401.3 480.4 V398.5 H476.6 V429.7 M435.3 479.3 V410.2 H476.6 M455.4 468.1 V420.4 H476.6 M479.6 429.1 V424.5 H498.8 V450.9" stroke="#231f20" stroke-width="1.3" fill="none"/>
<text x="416.2" y="395" font-size="7.5" font-weight="bold" text-anchor="start" fill="#231f20" textLength="31.5" lengthAdjust="spacingAndGlyphs" stroke="#231f20" stroke-width="0.3"><tspan font-style="italic">p</tspan>&lt;0.0001</text>
<text x="432.2" y="407.9" font-size="7.5" font-weight="bold" text-anchor="start" fill="#231f20" textLength="32.5" lengthAdjust="spacingAndGlyphs" stroke="#231f20" stroke-width="0.3"><tspan font-style="italic">p</tspan>=0.0023</text>
<text x="440.8" y="418.3" font-size="7.5" font-weight="bold" text-anchor="start" fill="#231f20" textLength="32.6" lengthAdjust="spacingAndGlyphs" stroke="#231f20" stroke-width="0.3"><tspan font-style="italic">p</tspan>=0.0049</text>
<text x="479.4" y="419.7" font-size="7.5" font-weight="bold" text-anchor="start" fill="#231f20" textLength="32.4" lengthAdjust="spacingAndGlyphs" stroke="#231f20" stroke-width="0.3"><tspan font-style="italic">p</tspan>=0.1073</text>
<text x="0" y="0" font-size="9.95" font-weight="bold" text-anchor="middle" fill="#231f20" transform="translate(362.6 461.2) rotate(-90)" stroke="#231f20" stroke-width="0.3">CD19<tspan font-size="6.3" dy="-3.6">+</tspan><tspan dy="3.6"> in CD45</tspan><tspan font-size="6.3" dy="-3.6">+</tspan><tspan dy="3.6"> cells (%)</tspan></text>
<text x="0" y="0" font-size="11.5" font-weight="bold" text-anchor="start" fill="#231f20" transform="translate(517.2 396.3) scale(1 1.13)" stroke="#231f20" stroke-width="0.3">J</text>
<line x1="541.8" y1="397.4" x2="541.8" y2="533" stroke="#231f20" stroke-width="1.4"/>
<line x1="541.2" y1="532.4" x2="677.3" y2="532.4" stroke="#231f20" stroke-width="1.5"/>
<line x1="539.6" y1="398" x2="541.8" y2="398" stroke="#231f20" stroke-width="1.3"/>
<text x="0" y="0" font-size="9.5" font-weight="bold" text-anchor="end" fill="#231f20" transform="translate(539 401.7) scale(1 1.15)" stroke="#231f20" stroke-width="0.3">15</text>
<line x1="539.6" y1="442.8" x2="541.8" y2="442.8" stroke="#231f20" stroke-width="1.3"/>
<text x="0" y="0" font-size="9.5" font-weight="bold" text-anchor="end" fill="#231f20" transform="translate(539 446.5) scale(1 1.15)" stroke="#231f20" stroke-width="0.3">10</text>
<line x1="539.6" y1="487.6" x2="541.8" y2="487.6" stroke="#231f20" stroke-width="1.3"/>
<text x="0" y="0" font-size="9.5" font-weight="bold" text-anchor="end" fill="#231f20" transform="translate(539 491.3) scale(1 1.15)" stroke="#231f20" stroke-width="0.3">5</text>
<line x1="539.6" y1="532.4" x2="541.8" y2="532.4" stroke="#231f20" stroke-width="1.3"/>
<text x="0" y="0" font-size="9.5" font-weight="bold" text-anchor="end" fill="#231f20" transform="translate(539 536.1) scale(1 1.15)" stroke="#231f20" stroke-width="0.3">0</text>
<path d="M550 532.4 V520.3 H563.4 V532.4" fill="none" stroke="#1e1e1e" stroke-width="1.4"/>
<line x1="556.7" y1="515" x2="556.7" y2="525" stroke="#1e1e1e" stroke-width="1.3"/>
<line x1="553.75" y1="515" x2="559.65" y2="515" stroke="#1e1e1e" stroke-width="1.3"/>
<line x1="553.75" y1="525" x2="559.65" y2="525" stroke="#1e1e1e" stroke-width="1.3"/>
<circle cx="552" cy="516.7" r="2.6" fill="#1e1e1e"/>
<circle cx="561.5" cy="517.4" r="2.6" fill="#1e1e1e"/>
<circle cx="556.7" cy="524.6" r="2.6" fill="#1e1e1e"/>
<text x="0" y="0" font-size="9.5" font-weight="bold" text-anchor="middle" fill="#231f20" transform="translate(556.7 542.6) scale(1 1.15)" stroke="#231f20" stroke-width="0.3">G1</text>
<path d="M570.7 532.4 V518.5 H584.1 V532.4" fill="none" stroke="#46a0a5" stroke-width="1.4"/>
<line x1="577.4" y1="517" x2="577.4" y2="520" stroke="#46a0a5" stroke-width="1.3"/>
<line x1="574.45" y1="517" x2="580.35" y2="517" stroke="#46a0a5" stroke-width="1.3"/>
<line x1="574.45" y1="520" x2="580.35" y2="520" stroke="#46a0a5" stroke-width="1.3"/>
<circle cx="571" cy="519" r="2.6" fill="#46a0a5"/>
<circle cx="577" cy="518" r="2.6" fill="#46a0a5"/>
<circle cx="583" cy="518" r="2.6" fill="#46a0a5"/>
<text x="0" y="0" font-size="9.5" font-weight="bold" text-anchor="middle" fill="#231f20" transform="translate(577.4 542.6) scale(1 1.15)" stroke="#231f20" stroke-width="0.3">G2</text>
<path d="M592.3 532.4 V502.1 H605.7 V532.4" fill="none" stroke="#e1a0aa" stroke-width="1.4"/>
<line x1="599" y1="496" x2="599" y2="508" stroke="#e1a0aa" stroke-width="1.3"/>
<line x1="596.05" y1="496" x2="601.95" y2="496" stroke="#e1a0aa" stroke-width="1.3"/>
<line x1="596.05" y1="508" x2="601.95" y2="508" stroke="#e1a0aa" stroke-width="1.3"/>
<circle cx="593.5" cy="497.7" r="2.6" fill="#e1a0aa"/>
<circle cx="604" cy="501" r="2.6" fill="#e1a0aa"/>
<circle cx="599" cy="505.8" r="2.6" fill="#e1a0aa"/>
<text x="0" y="0" font-size="9.5" font-weight="bold" text-anchor="middle" fill="#231f20" transform="translate(599 542.6) scale(1 1.15)" stroke="#231f20" stroke-width="0.3">G3</text>
<path d="M613.3 532.4 V496.6 H626.7 V532.4" fill="none" stroke="#7d82cd" stroke-width="1.4"/>
<line x1="620" y1="482" x2="620" y2="508" stroke="#7d82cd" stroke-width="1.3"/>
<line x1="617.05" y1="482" x2="622.95" y2="482" stroke="#7d82cd" stroke-width="1.3"/>
<line x1="617.05" y1="508" x2="622.95" y2="508" stroke="#7d82cd" stroke-width="1.3"/>
<circle cx="620" cy="482.4" r="2.6" fill="#7d82cd"/>
<circle cx="614" cy="504.3" r="2.6" fill="#7d82cd"/>
<circle cx="625.5" cy="502.1" r="2.6" fill="#7d82cd"/>
<text x="0" y="0" font-size="9.5" font-weight="bold" text-anchor="middle" fill="#231f20" transform="translate(620 542.6) scale(1 1.15)" stroke="#231f20" stroke-width="0.3">G4</text>
<path d="M634.5 532.4 V465.5 H647.9 V532.4" fill="none" stroke="#b0b2b8" stroke-width="1.4"/>
<line x1="641.2" y1="446" x2="641.2" y2="483.9" stroke="#b0b2b8" stroke-width="1.3"/>
<line x1="638.25" y1="446" x2="644.15" y2="446" stroke="#b0b2b8" stroke-width="1.3"/>
<line x1="638.25" y1="483.9" x2="644.15" y2="483.9" stroke="#b0b2b8" stroke-width="1.3"/>
<circle cx="641.2" cy="443.9" r="2.6" fill="#b0b2b8"/>
<circle cx="635" cy="478" r="2.6" fill="#b0b2b8"/>
<circle cx="646.5" cy="475.1" r="2.6" fill="#b0b2b8"/>
<text x="0" y="0" font-size="9.5" font-weight="bold" text-anchor="middle" fill="#231f20" transform="translate(641.2 542.6) scale(1 1.15)" stroke="#231f20" stroke-width="0.3">G5</text>
<path d="M655.3 532.4 V473 H668.7 V532.4" fill="none" stroke="#2d8c3c" stroke-width="1.4"/>
<line x1="662" y1="458.3" x2="662" y2="487.4" stroke="#2d8c3c" stroke-width="1.3"/>
<line x1="659.05" y1="458.3" x2="664.95" y2="458.3" stroke="#2d8c3c" stroke-width="1.3"/>
<line x1="659.05" y1="487.4" x2="664.95" y2="487.4" stroke="#2d8c3c" stroke-width="1.3"/>
<circle cx="662" cy="455.4" r="2.6" fill="#2d8c3c"/>
<circle cx="662" cy="478" r="2.6" fill="#2d8c3c"/>
<circle cx="662" cy="482.4" r="2.6" fill="#2d8c3c"/>
<text x="0" y="0" font-size="9.5" font-weight="bold" text-anchor="middle" fill="#231f20" transform="translate(662 542.6) scale(1 1.15)" stroke="#231f20" stroke-width="0.3">G6</text>
<path d="M556.6 492.7 V400.5 H639.2 V435.6 M577.4 499.9 V408.3 H639.2 M599.4 485.2 V417.9 H639.2 M619.4 473.6 V426.3 H639.2 M641.6 438.4 V433.8 H662.1 V438.4" stroke="#231f20" stroke-width="1.3" fill="none"/>
<text x="0" y="0" font-size="7.5" font-weight="normal" text-anchor="start" fill="#231f20" transform="translate(566.1 457.1) rotate(-90)" textLength="31.2" lengthAdjust="spacingAndGlyphs" stroke="#231f20" stroke-width="0.28"><tspan font-style="italic">p</tspan>&lt;0.0001</text>
<text x="0" y="0" font-size="7.5" font-weight="normal" text-anchor="start" fill="#231f20" transform="translate(586.2 455) rotate(-90)" textLength="31.2" lengthAdjust="spacingAndGlyphs" stroke="#231f20" stroke-width="0.28"><tspan font-style="italic">p</tspan>=0.0001</text>
<text x="0" y="0" font-size="7.5" font-weight="normal" text-anchor="start" fill="#231f20" transform="translate(607.8 457.8) rotate(-90)" textLength="32.3" lengthAdjust="spacingAndGlyphs" stroke="#231f20" stroke-width="0.28"><tspan font-style="italic">p</tspan>=0.0021</text>
<text x="0" y="0" font-size="7.5" font-weight="normal" text-anchor="start" fill="#231f20" transform="translate(628.2 463.4) rotate(-90)" textLength="31.5" lengthAdjust="spacingAndGlyphs" stroke="#231f20" stroke-width="0.28"><tspan font-style="italic">p</tspan>=0.0058</text>
<text x="642.4" y="430.8" font-size="7.5" font-weight="normal" text-anchor="start" fill="#231f20" textLength="31.5" lengthAdjust="spacingAndGlyphs" stroke="#231f20" stroke-width="0.28"><tspan font-style="italic">p</tspan>=0.4660</text>
<text x="0" y="0" font-size="9.95" font-weight="bold" text-anchor="middle" fill="#231f20" transform="translate(528.6 464.8) rotate(-90)" stroke="#231f20" stroke-width="0.3">CD80<tspan font-size="6.3" dy="-3.6">+</tspan><tspan dy="3.6">CD86</tspan><tspan font-size="6.3" dy="-3.6">+</tspan><tspan dy="3.6"> in DCs (%)</tspan></text>
<text x="7.6" y="561.3" font-size="12.2" font-weight="bold" text-anchor="start" fill="#231f20" stroke="#231f20" stroke-width="0.3">K</text>
<defs>
<clipPath id="kc0"><rect x="15.6" y="571.1" width="108.4" height="97.5"/></clipPath>
<clipPath id="kc0_0"><rect x="0" y="0" width="54.2" height="97.5"/></clipPath>
<filter id="kn0_0" x="0" y="0" width="1" height="1" filterUnits="objectBoundingBox" color-interpolation-filters="sRGB"><feTurbulence type="fractalNoise" baseFrequency="0.02 0.25" numOctaves="3" seed="11" result="t1"/><feColorMatrix in="t1" type="matrix" values="0 0 0 0 0 0 0 0 0 0 0 0 0 0 0 1 0 0 0 0" result="a1"/><feTurbulence type="turbulence" baseFrequency="0.2" numOctaves="1" seed="111" result="t2"/><feColorMatrix in="t2" type="matrix" values="0 0 0 0 0 0 0 0 0 0 0 0 0 0 0 1 0 0 0 0" result="a2"/><feComposite in="a1" in2="a2" operator="arithmetic" k1="0" k2="1.2" k3="1.0" k4="-0.28" result="s1"/><feGaussianBlur in="SourceGraphic" stdDeviation="1.8" result="sb"/><feColorMatrix in="sb" type="matrix" values="0 0 0 0 0 0 0 0 0 0 0 0 0 0 0 1 0 0 0 0" result="d"/><feComposite in="s1" in2="d" operator="arithmetic" k1="0" k2="1" k3="0.55" k4="-0.33" result="s"/><feComponentTransfer in="s" result="mask"><feFuncA type="linear" slope="10" intercept="-4.85"/></feComponentTransfer><feFlood flood-color="#264295"/><feComposite in2="mask" operator="in" result="colored"/><feTurbulence type="fractalNoise" baseFrequency="0.6" numOctaves="1" seed="211" result="t3"/><feColorMatrix in="t3" type="matrix" values="0.9 0 0 0 0.45  0.9 0 0 0 0.45  0.9 0 0 0 0.45  0 0 0 0 1" result="grain"/><feComposite in="colored" in2="grain" operator="arithmetic" k1="1" k2="0" k3="0" k4="0"/><feGaussianBlur stdDeviation="0.45"/></filter>
<clipPath id="kc0_1"><rect x="54.2" y="0" width="54.2" height="97.5"/></clipPath>
<filter id="kn0_1" x="0" y="0" width="1" height="1" filterUnits="objectBoundingBox" color-interpolation-filters="sRGB"><feTurbulence type="fractalNoise" baseFrequency="0.02 0.25" numOctaves="3" seed="12" result="t1"/><feColorMatrix in="t1" type="matrix" values="0 0 0 0 0 0 0 0 0 0 0 0 0 0 0 1 0 0 0 0" result="a1"/><feTurbulence type="turbulence" baseFrequency="0.2" numOctaves="1" seed="112" result="t2"/><feColorMatrix in="t2" type="matrix" values="0 0 0 0 0 0 0 0 0 0 0 0 0 0 0 1 0 0 0 0" result="a2"/><feComposite in="a1" in2="a2" operator="arithmetic" k1="0" k2="1.2" k3="1.0" k4="-0.28" result="s1"/><feGaussianBlur in="SourceGraphic" stdDeviation="1.8" result="sb"/><feColorMatrix in="sb" type="matrix" values="0 0 0 0 0 0 0 0 0 0 0 0 0 0 0 1 0 0 0 0" result="d"/><feComposite in="s1" in2="d" operator="arithmetic" k1="0" k2="1" k3="0.55" k4="-0.33" result="s"/><feComponentTransfer in="s" result="mask"><feFuncA type="linear" slope="10" intercept="-4.85"/></feComponentTransfer><feFlood flood-color="#264295"/><feComposite in2="mask" operator="in" result="colored"/><feTurbulence type="fractalNoise" baseFrequency="0.6" numOctaves="1" seed="212" result="t3"/><feColorMatrix in="t3" type="matrix" values="0.9 0 0 0 0.45  0.9 0 0 0 0.45  0.9 0 0 0 0.45  0 0 0 0 1" result="grain"/><feComposite in="colored" in2="grain" operator="arithmetic" k1="1" k2="0" k3="0" k4="0"/><feGaussianBlur stdDeviation="0.45"/></filter>
<clipPath id="kc1"><rect x="127.4" y="571.1" width="108.4" height="97.5"/></clipPath>
<clipPath id="kc1_0"><rect x="0" y="0" width="108.4" height="97.5"/></clipPath>
<filter id="kn1_0" x="0" y="0" width="1" height="1" filterUnits="objectBoundingBox" color-interpolation-filters="sRGB"><feTurbulence type="fractalNoise" baseFrequency="0.05 0.13" numOctaves="3" seed="21" result="t1"/><feColorMatrix in="t1" type="matrix" values="0 0 0 0 0 0 0 0 0 0 0 0 0 0 0 1 0 0 0 0" result="a1"/><feTurbulence type="turbulence" baseFrequency="0.2" numOctaves="1" seed="121" result="t2"/><feColorMatrix in="t2" type="matrix" values="0 0 0 0 0 0 0 0 0 0 0 0 0 0 0 1 0 0 0 0" result="a2"/><feComposite in="a1" in2="a2" operator="arithmetic" k1="0" k2="1.2" k3="1.0" k4="-0.28" result="s1"/><feGaussianBlur in="SourceGraphic" stdDeviation="1.8" result="sb"/><feColorMatrix in="sb" type="matrix" values="0 0 0 0 0 0 0 0 0 0 0 0 0 0 0 1 0 0 0 0" result="d"/><feComposite in="s1" in2="d" operator="arithmetic" k1="0" k2="1" k3="0.55" k4="-0.33" result="s"/><feComponentTransfer in="s" result="mask"><feFuncA type="linear" slope="10" intercept="-5.15"/></feComponentTransfer><feFlood flood-color="#243d90"/><feComposite in2="mask" operator="in" result="colored"/><feTurbulence type="fractalNoise" baseFrequency="0.6" numOctaves="1" seed="221" result="t3"/><feColorMatrix in="t3" type="matrix" values="0.9 0 0 0 0.45  0.9 0 0 0 0.45  0.9 0 0 0 0.45  0 0 0 0 1" result="grain"/><feComposite in="colored" in2="grain" operator="arithmetic" k1="1" k2="0" k3="0" k4="0"/><feGaussianBlur stdDeviation="0.45"/></filter>
<clipPath id="kc2"><rect x="239.8" y="571.1" width="108.4" height="97.5"/></clipPath>
<clipPath id="kc2_0"><rect x="0" y="0" width="108.4" height="97.5"/></clipPath>
<filter id="kn2_0" x="0" y="0" width="1" height="1" filterUnits="objectBoundingBox" color-interpolation-filters="sRGB"><feTurbulence type="fractalNoise" baseFrequency="0.035 0.18" numOctaves="3" seed="31" result="t1"/><feColorMatrix in="t1" type="matrix" values="0 0 0 0 0 0 0 0 0 0 0 0 0 0 0 1 0 0 0 0" result="a1"/><feTurbulence type="turbulence" baseFrequency="0.2" numOctaves="1" seed="131" result="t2"/><feColorMatrix in="t2" type="matrix" values="0 0 0 0 0 0 0 0 0 0 0 0 0 0 0 1 0 0 0 0" result="a2"/><feComposite in="a1" in2="a2" operator="arithmetic" k1="0" k2="1.2" k3="1.0" k4="-0.28" result="s1"/><feGaussianBlur in="SourceGraphic" stdDeviation="1.8" result="sb"/><feColorMatrix in="sb" type="matrix" values="0 0 0 0 0 0 0 0 0 0 0 0 0 0 0 1 0 0 0 0" result="d"/><feComposite in="s1" in2="d" operator="arithmetic" k1="0" k2="1" k3="0.55" k4="-0.33" result="s"/><feComponentTransfer in="s" result="mask"><feFuncA type="linear" slope="10" intercept="-4.75"/></feComponentTransfer><feFlood flood-color="#254093"/><feComposite in2="mask" operator="in" result="colored"/><feTurbulence type="fractalNoise" baseFrequency="0.6" numOctaves="1" seed="231" result="t3"/><feColorMatrix in="t3" type="matrix" values="0.9 0 0 0 0.45  0.9 0 0 0 0.45  0.9 0 0 0 0.45  0 0 0 0 1" result="grain"/><feComposite in="colored" in2="grain" operator="arithmetic" k1="1" k2="0" k3="0" k4="0"/><feGaussianBlur stdDeviation="0.45"/></filter>
<clipPath id="kc3"><rect x="350.4" y="571.1" width="108.4" height="97.5"/></clipPath>
<clipPath id="kc3_0"><rect x="0" y="0" width="54.2" height="97.5"/></clipPath>
<filter id="kn3_0" x="0" y="0" width="1" height="1" filterUnits="objectBoundingBox" color-interpolation-filters="sRGB"><feTurbulence type="fractalNoise" baseFrequency="0.035 0.18" numOctaves="3" seed="41" result="t1"/><feColorMatrix in="t1" type="matrix" values="0 0 0 0 0 0 0 0 0 0 0 0 0 0 0 1 0 0 0 0" result="a1"/><feTurbulence type="turbulence" baseFrequency="0.2" numOctaves="1" seed="141" result="t2"/><feColorMatrix in="t2" type="matrix" values="0 0 0 0 0 0 0 0 0 0 0 0 0 0 0 1 0 0 0 0" result="a2"/><feComposite in="a1" in2="a2" operator="arithmetic" k1="0" k2="1.2" k3="1.0" k4="-0.28" result="s1"/><feGaussianBlur in="SourceGraphic" stdDeviation="1.8" result="sb"/><feColorMatrix in="sb" type="matrix" values="0 0 0 0 0 0 0 0 0 0 0 0 0 0 0 1 0 0 0 0" result="d"/><feComposite in="s1" in2="d" operator="arithmetic" k1="0" k2="1" k3="0.55" k4="-0.33" result="s"/><feComponentTransfer in="s" result="mask"><feFuncA type="linear" slope="10" intercept="-4.7"/></feComponentTransfer><feFlood flood-color="#254093"/><feComposite in2="mask" operator="in" result="colored"/><feTurbulence type="fractalNoise" baseFrequency="0.6" numOctaves="1" seed="241" result="t3"/><feColorMatrix in="t3" type="matrix" values="0.9 0 0 0 0.45  0.9 0 0 0 0.45  0.9 0 0 0 0.45  0 0 0 0 1" result="grain"/><feComposite in="colored" in2="grain" operator="arithmetic" k1="1" k2="0" k3="0" k4="0"/><feGaussianBlur stdDeviation="0.45"/></filter>
<clipPath id="kc3_1"><rect x="54.2" y="0" width="54.2" height="97.5"/></clipPath>
<filter id="kn3_1" x="0" y="0" width="1" height="1" filterUnits="objectBoundingBox" color-interpolation-filters="sRGB"><feTurbulence type="fractalNoise" baseFrequency="0.035 0.18" numOctaves="3" seed="42" result="t1"/><feColorMatrix in="t1" type="matrix" values="0 0 0 0 0 0 0 0 0 0 0 0 0 0 0 1 0 0 0 0" result="a1"/><feTurbulence type="turbulence" baseFrequency="0.2" numOctaves="1" seed="142" result="t2"/><feColorMatrix in="t2" type="matrix" values="0 0 0 0 0 0 0 0 0 0 0 0 0 0 0 1 0 0 0 0" result="a2"/><feComposite in="a1" in2="a2" operator="arithmetic" k1="0" k2="1.2" k3="1.0" k4="-0.28" result="s1"/><feGaussianBlur in="SourceGraphic" stdDeviation="1.8" result="sb"/><feColorMatrix in="sb" type="matrix" values="0 0 0 0 0 0 0 0 0 0 0 0 0 0 0 1 0 0 0 0" result="d"/><feComposite in="s1" in2="d" operator="arithmetic" k1="0" k2="1" k3="0.55" k4="-0.33" result="s"/><feComponentTransfer in="s" result="mask"><feFuncA type="linear" slope="10" intercept="-4.7"/></feComponentTransfer><feFlood flood-color="#254093"/><feComposite in2="mask" operator="in" result="colored"/><feTurbulence type="fractalNoise" baseFrequency="0.6" numOctaves="1" seed="242" result="t3"/><feColorMatrix in="t3" type="matrix" values="0.9 0 0 0 0.45  0.9 0 0 0 0.45  0.9 0 0 0 0.45  0 0 0 0 1" result="grain"/><feComposite in="colored" in2="grain" operator="arithmetic" k1="1" k2="0" k3="0" k4="0"/><feGaussianBlur stdDeviation="0.45"/></filter>
<clipPath id="kc4"><rect x="462.4" y="571.1" width="108.4" height="97.5"/></clipPath>
<clipPath id="kc4_0"><rect x="0" y="0" width="108.4" height="97.5"/></clipPath>
<filter id="kn4_0" x="0" y="0" width="1" height="1" filterUnits="objectBoundingBox" color-interpolation-filters="sRGB"><feTurbulence type="fractalNoise" baseFrequency="0.04 0.1" numOctaves="3" seed="51" result="t1"/><feColorMatrix in="t1" type="matrix" values="0 0 0 0 0 0 0 0 0 0 0 0 0 0 0 1 0 0 0 0" result="a1"/><feTurbulence type="turbulence" baseFrequency="0.2" numOctaves="1" seed="151" result="t2"/><feColorMatrix in="t2" type="matrix" values="0 0 0 0 0 0 0 0 0 0 0 0 0 0 0 1 0 0 0 0" result="a2"/><feComposite in="a1" in2="a2" operator="arithmetic" k1="0" k2="1.2" k3="1.0" k4="-0.28" result="s1"/><feGaussianBlur in="SourceGraphic" stdDeviation="1.8" result="sb"/><feColorMatrix in="sb" type="matrix" values="0 0 0 0 0 0 0 0 0 0 0 0 0 0 0 1 0 0 0 0" result="d"/><feComposite in="s1" in2="d" operator="arithmetic" k1="0" k2="1" k3="0.55" k4="-0.33" result="s"/><feComponentTransfer in="s" result="mask"><feFuncA type="linear" slope="10" intercept="-4.6"/></feComponentTransfer><feFlood flood-color="#29449c"/><feComposite in2="mask" operator="in" result="colored"/><feTurbulence type="fractalNoise" baseFrequency="0.6" numOctaves="1" seed="251" result="t3"/><feColorMatrix in="t3" type="matrix" values="0.9 0 0 0 0.45  0.9 0 0 0 0.45  0.9 0 0 0 0.45  0 0 0 0 1" result="grain"/><feComposite in="colored" in2="grain" operator="arithmetic" k1="1" k2="0" k3="0" k4="0"/><feGaussianBlur stdDeviation="0.45"/></filter>
<clipPath id="kc5"><rect x="574.6" y="571.1" width="108.4" height="97.5"/></clipPath>
<clipPath id="kc5_0"><rect x="0" y="0" width="108.4" height="97.5"/></clipPath>
<filter id="kn5_0" x="0" y="0" width="1" height="1" filterUnits="objectBoundingBox" color-interpolation-filters="sRGB"><feTurbulence type="fractalNoise" baseFrequency="0.035 0.16" numOctaves="3" seed="61" result="t1"/><feColorMatrix in="t1" type="matrix" values="0 0 0 0 0 0 0 0 0 0 0 0 0 0 0 1 0 0 0 0" result="a1"/><feTurbulence type="turbulence" baseFrequency="0.2" numOctaves="1" seed="161" result="t2"/><feColorMatrix in="t2" type="matrix" values="0 0 0 0 0 0 0 0 0 0 0 0 0 0 0 1 0 0 0 0" result="a2"/><feComposite in="a1" in2="a2" operator="arithmetic" k1="0" k2="1.2" k3="1.0" k4="-0.28" result="s1"/><feGaussianBlur in="SourceGraphic" stdDeviation="1.8" result="sb"/><feColorMatrix in="sb" type="matrix" values="0 0 0 0 0 0 0 0 0 0 0 0 0 0 0 1 0 0 0 0" result="d"/><feComposite in="s1" in2="d" operator="arithmetic" k1="0" k2="1" k3="0.55" k4="-0.33" result="s"/><feComponentTransfer in="s" result="mask"><feFuncA type="linear" slope="10" intercept="-4.55"/></feComponentTransfer><feFlood flood-color="#264297"/><feComposite in2="mask" operator="in" result="colored"/><feTurbulence type="fractalNoise" baseFrequency="0.6" numOctaves="1" seed="261" result="t3"/><feColorMatrix in="t3" type="matrix" values="0.9 0 0 0 0.45  0.9 0 0 0 0.45  0.9 0 0 0 0.45  0 0 0 0 1" result="grain"/><feComposite in="colored" in2="grain" operator="arithmetic" k1="1" k2="0" k3="0" k4="0"/><feGaussianBlur stdDeviation="0.45"/></filter>
</defs>
<rect x="15.6" y="571.1" width="108.4" height="97.5" fill="#03030a"/>
<g clip-path="url(#kc0)"><g transform="translate(15.6 571.1)">
<g clip-path="url(#kc0_0)">
<g transform="rotate(-52 54.2 48.75)" filter="url(#kn0_0)">
<rect x="-90" y="-90" width="288.4" height="277.5" fill="#999"/>
<g transform="rotate(52 54.2 48.75)">
<ellipse cx="38" cy="64" rx="9" ry="8" transform="rotate(0 38 64)" fill="#000"/>
<ellipse cx="40" cy="84" rx="7" ry="8" transform="rotate(0 40 84)" fill="#000"/>
<ellipse cx="6" cy="80" rx="5" ry="12" transform="rotate(0 6 80)" fill="#000"/>
<ellipse cx="16" cy="14" rx="8" ry="5" transform="rotate(-30 16 14)" fill="#000"/>
<ellipse cx="47" cy="25" rx="5" ry="12" transform="rotate(0 47 25)" fill="#404040"/>
<ellipse cx="85" cy="20" rx="26" ry="2.5" transform="rotate(37 85 20)" fill="#000"/>
<ellipse cx="90" cy="42" rx="22" ry="2.5" transform="rotate(37 90 42)" fill="#000"/>
<ellipse cx="6" cy="34" rx="7" ry="14" transform="rotate(0 6 34)" fill="#c8c8c8"/>
<ellipse cx="33" cy="35" rx="8" ry="10" transform="rotate(0 33 35)" fill="#c8c8c8"/>
<ellipse cx="75" cy="56" rx="14" ry="9" transform="rotate(30 75 56)" fill="#c8c8c8"/>
<ellipse cx="102" cy="75" rx="6" ry="8" transform="rotate(0 102 75)" fill="#c8c8c8"/>
</g></g></g>
<g clip-path="url(#kc0_1)">
<g transform="rotate(40 54.2 48.75)" filter="url(#kn0_1)">
<rect x="-90" y="-90" width="288.4" height="277.5" fill="#999"/>
<g transform="rotate(-40 54.2 48.75)">
<ellipse cx="38" cy="64" rx="9" ry="8" transform="rotate(0 38 64)" fill="#000"/>
<ellipse cx="40" cy="84" rx="7" ry="8" transform="rotate(0 40 84)" fill="#000"/>
<ellipse cx="6" cy="80" rx="5" ry="12" transform="rotate(0 6 80)" fill="#000"/>
<ellipse cx="16" cy="14" rx="8" ry="5" transform="rotate(-30 16 14)" fill="#000"/>
<ellipse cx="47" cy="25" rx="5" ry="12" transform="rotate(0 47 25)" fill="#404040"/>
<ellipse cx="85" cy="20" rx="26" ry="2.5" transform="rotate(37 85 20)" fill="#000"/>
<ellipse cx="90" cy="42" rx="22" ry="2.5" transform="rotate(37 90 42)" fill="#000"/>
<ellipse cx="6" cy="34" rx="7" ry="14" transform="rotate(0 6 34)" fill="#c8c8c8"/>
<ellipse cx="33" cy="35" rx="8" ry="10" transform="rotate(0 33 35)" fill="#c8c8c8"/>
<ellipse cx="75" cy="56" rx="14" ry="9" transform="rotate(30 75 56)" fill="#c8c8c8"/>
<ellipse cx="102" cy="75" rx="6" ry="8" transform="rotate(0 102 75)" fill="#c8c8c8"/>
</g></g></g>
</g></g>
<line x1="117.78" y1="638.92" x2="115.66" y2="641.04" stroke="#ffffff" stroke-width="0.9"/>
<polygon points="114.6,642.1 115.24,639.63 117.07,641.46" fill="#ffffff"/>
<text x="0" y="0" font-size="10" font-weight="bold" text-anchor="middle" fill="#231f20" transform="translate(61.4 567.8) scale(0.95 1.2)" stroke="#231f20" stroke-width="0.3">G1</text>
<rect x="127.4" y="571.1" width="108.4" height="97.5" fill="#03030a"/>
<g clip-path="url(#kc1)"><g transform="translate(127.4 571.1)">
<g clip-path="url(#kc1_0)">
<g transform="rotate(-35 54.2 48.75)" filter="url(#kn1_0)">
<rect x="-90" y="-90" width="288.4" height="277.5" fill="#999"/>
<g transform="rotate(35 54.2 48.75)">
<ellipse cx="36" cy="52" rx="20" ry="7" transform="rotate(-35 36 52)" fill="#000"/>
<ellipse cx="8" cy="53" rx="7" ry="6" transform="rotate(0 8 53)" fill="#000"/>
<ellipse cx="62" cy="27" rx="14" ry="8" transform="rotate(-40 62 27)" fill="#000"/>
<ellipse cx="80" cy="68" rx="11" ry="8" transform="rotate(-40 80 68)" fill="#000"/>
<ellipse cx="100" cy="21" rx="9" ry="6" transform="rotate(0 100 21)" fill="#000"/>
<ellipse cx="16" cy="28" rx="15" ry="11" transform="rotate(0 16 28)" fill="#b8b8b8"/>
<ellipse cx="90" cy="40" rx="16" ry="14" transform="rotate(0 90 40)" fill="#b8b8b8"/>
<ellipse cx="55" cy="86" rx="50" ry="10" transform="rotate(-10 55 86)" fill="#a8a8a8"/>
</g></g></g>
</g></g>
<text x="0" y="0" font-size="10" font-weight="bold" text-anchor="middle" fill="#231f20" transform="translate(177.2 567.8) scale(0.95 1.2)" stroke="#231f20" stroke-width="0.3">G2</text>
<rect x="239.8" y="571.1" width="108.4" height="97.5" fill="#03030a"/>
<g clip-path="url(#kc2)"><g transform="translate(239.8 571.1)">
<g clip-path="url(#kc2_0)">
<g transform="rotate(-60 54.2 48.75)" filter="url(#kn2_0)">
<rect x="-90" y="-90" width="288.4" height="277.5" fill="#999"/>
<g transform="rotate(60 54.2 48.75)">
<ellipse cx="8" cy="23" rx="7" ry="11" transform="rotate(0 8 23)" fill="#000"/>
<ellipse cx="67" cy="47" rx="6" ry="16" transform="rotate(-10 67 47)" fill="#000"/>
<ellipse cx="74" cy="82" rx="9" ry="9" transform="rotate(0 74 82)" fill="#000"/>
<ellipse cx="27" cy="88" rx="7" ry="7" transform="rotate(0 27 88)" fill="#000"/>
<ellipse cx="102" cy="73" rx="6" ry="16" transform="rotate(0 102 73)" fill="#000"/>
<ellipse cx="20" cy="56" rx="16" ry="12" transform="rotate(-50 20 56)" fill="#c8c8c8"/>
<ellipse cx="48" cy="53" rx="10" ry="13" transform="rotate(0 48 53)" fill="#c8c8c8"/>
<ellipse cx="90" cy="47" rx="9" ry="20" transform="rotate(0 90 47)" fill="#c8c8c8"/>
<ellipse cx="53" cy="9" rx="37" ry="9" transform="rotate(0 53 9)" fill="#c8c8c8"/>
</g></g></g>
</g></g>
<circle cx="257.8" cy="601.1" r="0.9" fill="#b8a830" opacity="0.6"/>
<circle cx="284.8" cy="601.1" r="0.9" fill="#b8a830" opacity="0.6"/>
<circle cx="306.8" cy="596.1" r="0.9" fill="#b8a830" opacity="0.6"/>
<circle cx="256.8" cy="633.1" r="0.9" fill="#b8a830" opacity="0.6"/>
<circle cx="241.8" cy="654.1" r="0.9" fill="#b8a830" opacity="0.6"/>
<circle cx="300.8" cy="665.1" r="0.9" fill="#b8a830" opacity="0.6"/>
<circle cx="241.8" cy="643.1" r="0.9" fill="#b8a830" opacity="0.6"/>
<circle cx="307.8" cy="573.1" r="1.2" fill="#d02040" opacity="0.85"/>
<circle cx="307.3" cy="591.1" r="1.4" fill="#d02040" opacity="0.85"/>
<circle cx="304.8" cy="647.1" r="1" fill="#d02040" opacity="0.85"/>
<circle cx="332.8" cy="629.1" r="1" fill="#d02040" opacity="0.85"/>
<circle cx="327.8" cy="607.1" r="0.8" fill="#d02040" opacity="0.85"/>
<line x1="259.8" y1="599.6" x2="259.8" y2="596.6" stroke="#ffffff" stroke-width="0.9"/>
<polygon points="259.8,595.1 261.1,597.3 258.5,597.3" fill="#ffffff"/>
<line x1="292.98" y1="604.77" x2="290.19" y2="603.66" stroke="#ffffff" stroke-width="0.9"/>
<polygon points="288.8,603.1 291.33,602.71 290.36,605.12" fill="#ffffff"/>
<line x1="314.98" y1="600.77" x2="312.19" y2="599.66" stroke="#ffffff" stroke-width="0.9"/>
<polygon points="310.8,599.1 313.33,598.71 312.36,601.12" fill="#ffffff"/>
<line x1="265.98" y1="636.77" x2="263.19" y2="635.66" stroke="#ffffff" stroke-width="0.9"/>
<polygon points="261.8,635.1 264.33,634.71 263.36,637.12" fill="#ffffff"/>
<line x1="249.98" y1="657.77" x2="247.19" y2="656.66" stroke="#ffffff" stroke-width="0.9"/>
<polygon points="245.8,656.1 248.33,655.71 247.36,658.12" fill="#ffffff"/>
<line x1="310.11" y1="667.39" x2="307.24" y2="666.53" stroke="#ffffff" stroke-width="0.9"/>
<polygon points="305.8,666.1 308.28,665.49 307.53,667.98" fill="#ffffff"/>
<text x="0" y="0" font-size="10" font-weight="bold" text-anchor="middle" fill="#231f20" transform="translate(291.2 567.8) scale(0.95 1.2)" stroke="#231f20" stroke-width="0.3">G3</text>
<rect x="350.4" y="571.1" width="108.4" height="97.5" fill="#03030a"/>
<g clip-path="url(#kc3)"><g transform="translate(350.4 571.1)">
<g clip-path="url(#kc3_0)">
<g transform="rotate(-55 54.2 48.75)" filter="url(#kn3_0)">
<rect x="-90" y="-90" width="288.4" height="277.5" fill="#999"/>
<g transform="rotate(55 54.2 48.75)">
<ellipse cx="5" cy="32" rx="4" ry="8" transform="rotate(0 5 32)" fill="#000"/>
<ellipse cx="24" cy="78" rx="6" ry="8" transform="rotate(0 24 78)" fill="#000"/>
<ellipse cx="51" cy="68" rx="7" ry="6" transform="rotate(0 51 68)" fill="#000"/>
<ellipse cx="100" cy="75" rx="8" ry="6" transform="rotate(0 100 75)" fill="#000"/>
<ellipse cx="35" cy="30" rx="4" ry="8" transform="rotate(0 35 30)" fill="#000"/>
<ellipse cx="42" cy="10" rx="32" ry="10" transform="rotate(0 42 10)" fill="#c8c8c8"/>
<ellipse cx="62" cy="34" rx="9" ry="6" transform="rotate(0 62 34)" fill="#c8c8c8"/>
</g></g></g>
<g clip-path="url(#kc3_1)">
<g transform="rotate(55 54.2 48.75)" filter="url(#kn3_1)">
<rect x="-90" y="-90" width="288.4" height="277.5" fill="#999"/>
<g transform="rotate(-55 54.2 48.75)">
<ellipse cx="5" cy="32" rx="4" ry="8" transform="rotate(0 5 32)" fill="#000"/>
<ellipse cx="24" cy="78" rx="6" ry="8" transform="rotate(0 24 78)" fill="#000"/>
<ellipse cx="51" cy="68" rx="7" ry="6" transform="rotate(0 51 68)" fill="#000"/>
<ellipse cx="100" cy="75" rx="8" ry="6" transform="rotate(0 100 75)" fill="#000"/>
<ellipse cx="35" cy="30" rx="4" ry="8" transform="rotate(0 35 30)" fill="#000"/>
<ellipse cx="42" cy="10" rx="32" ry="10" transform="rotate(0 42 10)" fill="#c8c8c8"/>
<ellipse cx="62" cy="34" rx="9" ry="6" transform="rotate(0 62 34)" fill="#c8c8c8"/>
</g></g></g>
</g></g>
<circle cx="428.4" cy="603.1" r="0.9" fill="#b8a830" opacity="0.6"/>
<circle cx="446.4" cy="609.1" r="0.9" fill="#b8a830" opacity="0.6"/>
<circle cx="428.4" cy="633.1" r="0.9" fill="#b8a830" opacity="0.6"/>
<circle cx="435.4" cy="632.1" r="0.9" fill="#b8a830" opacity="0.6"/>
<circle cx="388.4" cy="650.1" r="0.9" fill="#b8a830" opacity="0.6"/>
<circle cx="362.4" cy="653.1" r="0.9" fill="#b8a830" opacity="0.6"/>
<circle cx="378.4" cy="609.1" r="0.9" fill="#b8a830" opacity="0.6"/>
<circle cx="410.4" cy="631.1" r="0.9" fill="#b8a830" opacity="0.6"/>
<circle cx="370.4" cy="621.1" r="1.2" fill="#d02040" opacity="0.85"/>
<line x1="435.76" y1="597.38" x2="433.19" y2="598.93" stroke="#ffffff" stroke-width="0.9"/>
<polygon points="431.9,599.7 433.12,597.45 434.46,599.68" fill="#ffffff"/>
<line x1="446.4" y1="619.6" x2="446.4" y2="616.6" stroke="#ffffff" stroke-width="0.9"/>
<polygon points="446.4,615.1 447.7,617.3 445.1,617.3" fill="#ffffff"/>
<line x1="426.58" y1="638.27" x2="423.79" y2="637.16" stroke="#ffffff" stroke-width="0.9"/>
<polygon points="422.4,636.6 424.93,636.21 423.96,638.62" fill="#ffffff"/>
<line x1="441.42" y1="637.11" x2="438.74" y2="635.77" stroke="#ffffff" stroke-width="0.9"/>
<polygon points="437.4,635.1 439.95,634.92 438.79,637.25" fill="#ffffff"/>
<line x1="395.08" y1="652.77" x2="392.29" y2="651.66" stroke="#ffffff" stroke-width="0.9"/>
<polygon points="390.9,651.1 393.43,650.71 392.46,653.12" fill="#ffffff"/>
<line x1="364.4" y1="661.6" x2="364.4" y2="658.6" stroke="#ffffff" stroke-width="0.9"/>
<polygon points="364.4,657.1 365.7,659.3 363.1,659.3" fill="#ffffff"/>
<text x="0" y="0" font-size="10" font-weight="bold" text-anchor="middle" fill="#231f20" transform="translate(402.2 567.8) scale(0.95 1.2)" stroke="#231f20" stroke-width="0.3">G4</text>
<rect x="462.4" y="571.1" width="108.4" height="97.5" fill="#03030a"/>
<g clip-path="url(#kc4)"><g transform="translate(462.4 571.1)">
<g clip-path="url(#kc4_0)">
<g transform="rotate(-10 54.2 48.75)" filter="url(#kn4_0)">
<rect x="-90" y="-90" width="288.4" height="277.5" fill="#999"/>
<g transform="rotate(10 54.2 48.75)">
<ellipse cx="20" cy="24" rx="17" ry="8" transform="rotate(-5 20 24)" fill="#000"/>
<ellipse cx="35" cy="55" rx="16" ry="18" transform="rotate(0 35 55)" fill="#000"/>
<ellipse cx="73" cy="51" rx="10" ry="5" transform="rotate(-5 73 51)" fill="#000"/>
<ellipse cx="72" cy="83" rx="5" ry="8" transform="rotate(0 72 83)" fill="#000"/>
<ellipse cx="75" cy="23" rx="30" ry="8" transform="rotate(-10 75 23)" fill="#c8c8c8"/>
<ellipse cx="86" cy="80" rx="22" ry="18" transform="rotate(0 86 80)" fill="#c8c8c8"/>
<ellipse cx="12" cy="82" rx="12" ry="14" transform="rotate(0 12 82)" fill="#c8c8c8"/>
<ellipse cx="55" cy="5" rx="45" ry="5" transform="rotate(0 55 5)" fill="#c8c8c8"/>
</g></g></g>
</g></g>
<circle cx="517.4" cy="580.1" r="0.9" fill="#b8a830" opacity="0.6"/>
<circle cx="492.4" cy="588.1" r="0.9" fill="#b8a830" opacity="0.6"/>
<circle cx="504.4" cy="598.1" r="0.9" fill="#b8a830" opacity="0.6"/>
<circle cx="502.4" cy="596.1" r="0.9" fill="#b8a830" opacity="0.6"/>
<circle cx="466.4" cy="616.1" r="0.9" fill="#b8a830" opacity="0.6"/>
<circle cx="550.4" cy="633.1" r="0.9" fill="#b8a830" opacity="0.6"/>
<circle cx="530.4" cy="619.1" r="0.9" fill="#b8a830" opacity="0.6"/>
<circle cx="528.4" cy="659.1" r="0.9" fill="#b8a830" opacity="0.6"/>
<circle cx="495.4" cy="659.1" r="0.9" fill="#b8a830" opacity="0.6"/>
<circle cx="482.4" cy="649.1" r="0.9" fill="#b8a830" opacity="0.6"/>
<circle cx="557.4" cy="636.1" r="1.2" fill="#d02040" opacity="0.85"/>
<circle cx="561.4" cy="643.1" r="1" fill="#d02040" opacity="0.85"/>
<circle cx="563.4" cy="651.1" r="1" fill="#d02040" opacity="0.85"/>
<circle cx="565.4" cy="659.1" r="1" fill="#d02040" opacity="0.85"/>
<circle cx="559.4" cy="653.1" r="1" fill="#d02040" opacity="0.85"/>
<circle cx="502.4" cy="597.1" r="0.9" fill="#d02040" opacity="0.85"/>
<circle cx="522.4" cy="596.1" r="0.9" fill="#d02040" opacity="0.85"/>
<circle cx="492.4" cy="661.1" r="0.9" fill="#d02040" opacity="0.85"/>
<line x1="475.89" y1="590.91" x2="478.23" y2="589.04" stroke="#ffffff" stroke-width="0.9"/>
<polygon points="479.4,588.1 478.49,590.49 476.87,588.46" fill="#ffffff"/>
<line x1="488.39" y1="592.91" x2="490.73" y2="591.04" stroke="#ffffff" stroke-width="0.9"/>
<polygon points="491.9,590.1 490.99,592.49 489.37,590.46" fill="#ffffff"/>
<line x1="473.89" y1="600.91" x2="476.23" y2="599.04" stroke="#ffffff" stroke-width="0.9"/>
<polygon points="477.4,598.1 476.49,600.49 474.87,598.46" fill="#ffffff"/>
<line x1="513.89" y1="586.91" x2="516.23" y2="585.04" stroke="#ffffff" stroke-width="0.9"/>
<polygon points="517.4,584.1 516.49,586.49 514.87,584.46" fill="#ffffff"/>
<line x1="496.89" y1="602.91" x2="499.23" y2="601.04" stroke="#ffffff" stroke-width="0.9"/>
<polygon points="500.4,600.1 499.49,602.49 497.87,600.46" fill="#ffffff"/>
<line x1="504.89" y1="606.91" x2="507.23" y2="605.04" stroke="#ffffff" stroke-width="0.9"/>
<polygon points="508.4,604.1 507.49,606.49 505.87,604.46" fill="#ffffff"/>
<line x1="464.89" y1="619.91" x2="467.23" y2="618.04" stroke="#ffffff" stroke-width="0.9"/>
<polygon points="468.4,617.1 467.49,619.49 465.87,617.46" fill="#ffffff"/>
<line x1="467.39" y1="626.91" x2="469.73" y2="625.04" stroke="#ffffff" stroke-width="0.9"/>
<polygon points="470.9,624.1 469.99,626.49 468.37,624.46" fill="#ffffff"/>
<line x1="524.42" y1="626.11" x2="521.74" y2="624.77" stroke="#ffffff" stroke-width="0.9"/>
<polygon points="520.4,624.1 522.95,623.92 521.79,626.25" fill="#ffffff"/>
<line x1="550.4" y1="632.6" x2="550.4" y2="629.6" stroke="#ffffff" stroke-width="0.9"/>
<polygon points="550.4,628.1 551.7,630.3 549.1,630.3" fill="#ffffff"/>
<line x1="567.42" y1="630.11" x2="564.74" y2="628.77" stroke="#ffffff" stroke-width="0.9"/>
<polygon points="563.4,628.1 565.95,627.92 564.79,630.25" fill="#ffffff"/>
<line x1="548.42" y1="642.11" x2="545.74" y2="640.77" stroke="#ffffff" stroke-width="0.9"/>
<polygon points="544.4,640.1 546.95,639.92 545.79,642.25" fill="#ffffff"/>
<line x1="489.4" y1="650.6" x2="489.4" y2="647.6" stroke="#ffffff" stroke-width="0.9"/>
<polygon points="489.4,646.1 490.7,648.3 488.1,648.3" fill="#ffffff"/>
<line x1="504.71" y1="660.39" x2="501.84" y2="659.53" stroke="#ffffff" stroke-width="0.9"/>
<polygon points="500.4,659.1 502.88,658.49 502.13,660.98" fill="#ffffff"/>
<line x1="546.42" y1="659.11" x2="543.74" y2="657.77" stroke="#ffffff" stroke-width="0.9"/>
<polygon points="542.4,657.1 544.95,656.92 543.79,659.25" fill="#ffffff"/>
<line x1="540.9" y1="666.1" x2="537.9" y2="666.1" stroke="#ffffff" stroke-width="0.9"/>
<polygon points="536.4,666.1 538.6,664.8 538.6,667.4" fill="#ffffff"/>
<line x1="564.42" y1="667.11" x2="561.74" y2="665.77" stroke="#ffffff" stroke-width="0.9"/>
<polygon points="560.4,665.1 562.95,664.92 561.79,667.25" fill="#ffffff"/>
<text x="0" y="0" font-size="10" font-weight="bold" text-anchor="middle" fill="#231f20" transform="translate(515 567.8) scale(0.95 1.2)" stroke="#231f20" stroke-width="0.3">G5</text>
<rect x="574.6" y="571.1" width="108.4" height="97.5" fill="#03030a"/>
<g clip-path="url(#kc5)"><g transform="translate(574.6 571.1)">
<g clip-path="url(#kc5_0)">
<g transform="rotate(90 54.2 48.75)" filter="url(#kn5_0)">
<rect x="-90" y="-90" width="288.4" height="277.5" fill="#999"/>
<g transform="rotate(-90 54.2 48.75)">
<ellipse cx="16" cy="74" rx="6" ry="13" transform="rotate(0 16 74)" fill="#000"/>
<ellipse cx="30" cy="48" rx="4" ry="12" transform="rotate(0 30 48)" fill="#000"/>
<ellipse cx="32" cy="13" rx="4" ry="9" transform="rotate(0 32 13)" fill="#000"/>
<ellipse cx="64" cy="53" rx="5" ry="20" transform="rotate(0 64 53)" fill="#000"/>
<ellipse cx="81" cy="45" rx="3" ry="15" transform="rotate(0 81 45)" fill="#000"/>
<ellipse cx="100" cy="78" rx="5" ry="11" transform="rotate(0 100 78)" fill="#000"/>
<ellipse cx="75" cy="10" rx="7" ry="6" transform="rotate(0 75 10)" fill="#000"/>
<ellipse cx="11" cy="45" rx="11" ry="14" transform="rotate(0 11 45)" fill="#c8c8c8"/>
<ellipse cx="48" cy="52" rx="10" ry="36" transform="rotate(0 48 52)" fill="#c8c8c8"/>
<ellipse cx="97" cy="53" rx="12" ry="13" transform="rotate(0 97 53)" fill="#c8c8c8"/>
<ellipse cx="54" cy="93" rx="54" ry="6" transform="rotate(0 54 93)" fill="#c8c8c8"/>
</g></g></g>
</g></g>
<circle cx="598.6" cy="580.1" r="0.9" fill="#b8a830" opacity="0.6"/>
<circle cx="619.6" cy="585.1" r="0.9" fill="#b8a830" opacity="0.6"/>
<circle cx="616.6" cy="597.1" r="0.9" fill="#b8a830" opacity="0.6"/>
<circle cx="666.6" cy="583.1" r="0.9" fill="#b8a830" opacity="0.6"/>
<circle cx="667.6" cy="594.1" r="0.9" fill="#b8a830" opacity="0.6"/>
<circle cx="630.6" cy="626.1" r="0.9" fill="#b8a830" opacity="0.6"/>
<circle cx="627.6" cy="644.1" r="0.9" fill="#b8a830" opacity="0.6"/>
<circle cx="659.6" cy="646.1" r="0.9" fill="#b8a830" opacity="0.6"/>
<circle cx="609.6" cy="615.1" r="0.9" fill="#b8a830" opacity="0.6"/>
<circle cx="644.6" cy="609.1" r="0.9" fill="#b8a830" opacity="0.6"/>
<circle cx="596.6" cy="626.1" r="0.9" fill="#d02040" opacity="0.85"/>
<circle cx="580.6" cy="644.1" r="0.9" fill="#d02040" opacity="0.85"/>
<circle cx="586.6" cy="666.1" r="0.9" fill="#d02040" opacity="0.85"/>
<circle cx="674.6" cy="626.1" r="0.8" fill="#d02040" opacity="0.85"/>
<circle cx="644.6" cy="631.1" r="0.8" fill="#d02040" opacity="0.85"/>
<line x1="600.78" y1="582.77" x2="597.99" y2="581.66" stroke="#ffffff" stroke-width="0.9"/>
<polygon points="596.6,581.1 599.13,580.71 598.16,583.12" fill="#ffffff"/>
<line x1="623.6" y1="579.6" x2="623.6" y2="582.6" stroke="#ffffff" stroke-width="0.9"/>
<polygon points="623.6,584.1 622.3,581.9 624.9,581.9" fill="#ffffff"/>
<line x1="625.78" y1="599.77" x2="622.99" y2="598.66" stroke="#ffffff" stroke-width="0.9"/>
<polygon points="621.6,598.1 624.13,597.71 623.16,600.12" fill="#ffffff"/>
<line x1="665.1" y1="582.1" x2="662.1" y2="582.1" stroke="#ffffff" stroke-width="0.9"/>
<polygon points="660.6,582.1 662.8,580.8 662.8,583.4" fill="#ffffff"/>
<line x1="675.78" y1="590.77" x2="672.99" y2="589.66" stroke="#ffffff" stroke-width="0.9"/>
<polygon points="671.6,589.1 674.13,588.71 673.16,591.12" fill="#ffffff"/>
<line x1="674.78" y1="597.77" x2="671.99" y2="596.66" stroke="#ffffff" stroke-width="0.9"/>
<polygon points="670.6,596.1 673.13,595.71 672.16,598.12" fill="#ffffff"/>
<line x1="665.78" y1="611.77" x2="662.99" y2="610.66" stroke="#ffffff" stroke-width="0.9"/>
<polygon points="661.6,610.1 664.13,609.71 663.16,612.12" fill="#ffffff"/>
<line x1="639.78" y1="629.77" x2="636.99" y2="628.66" stroke="#ffffff" stroke-width="0.9"/>
<polygon points="635.6,628.1 638.13,627.71 637.16,630.12" fill="#ffffff"/>
<line x1="627.6" y1="654.6" x2="627.6" y2="651.6" stroke="#ffffff" stroke-width="0.9"/>
<polygon points="627.6,650.1 628.9,652.3 626.3,652.3" fill="#ffffff"/>
<line x1="668.78" y1="649.77" x2="665.99" y2="648.66" stroke="#ffffff" stroke-width="0.9"/>
<polygon points="664.6,648.1 667.13,647.71 666.16,650.12" fill="#ffffff"/>
<text x="0" y="0" font-size="10" font-weight="bold" text-anchor="middle" fill="#231f20" transform="translate(626 567.8) scale(0.95 1.2)" stroke="#231f20" stroke-width="0.3">G6</text>
<line x1="97.6" y1="662" x2="118.1" y2="662" stroke="#ffffff" stroke-width="1.3"/>
<text x="107.8" y="659.1" font-size="6.5" font-weight="bold" text-anchor="middle" fill="#ffffff" stroke="#ffffff" stroke-width="0.3">50 μm</text></svg>
</body></html>
